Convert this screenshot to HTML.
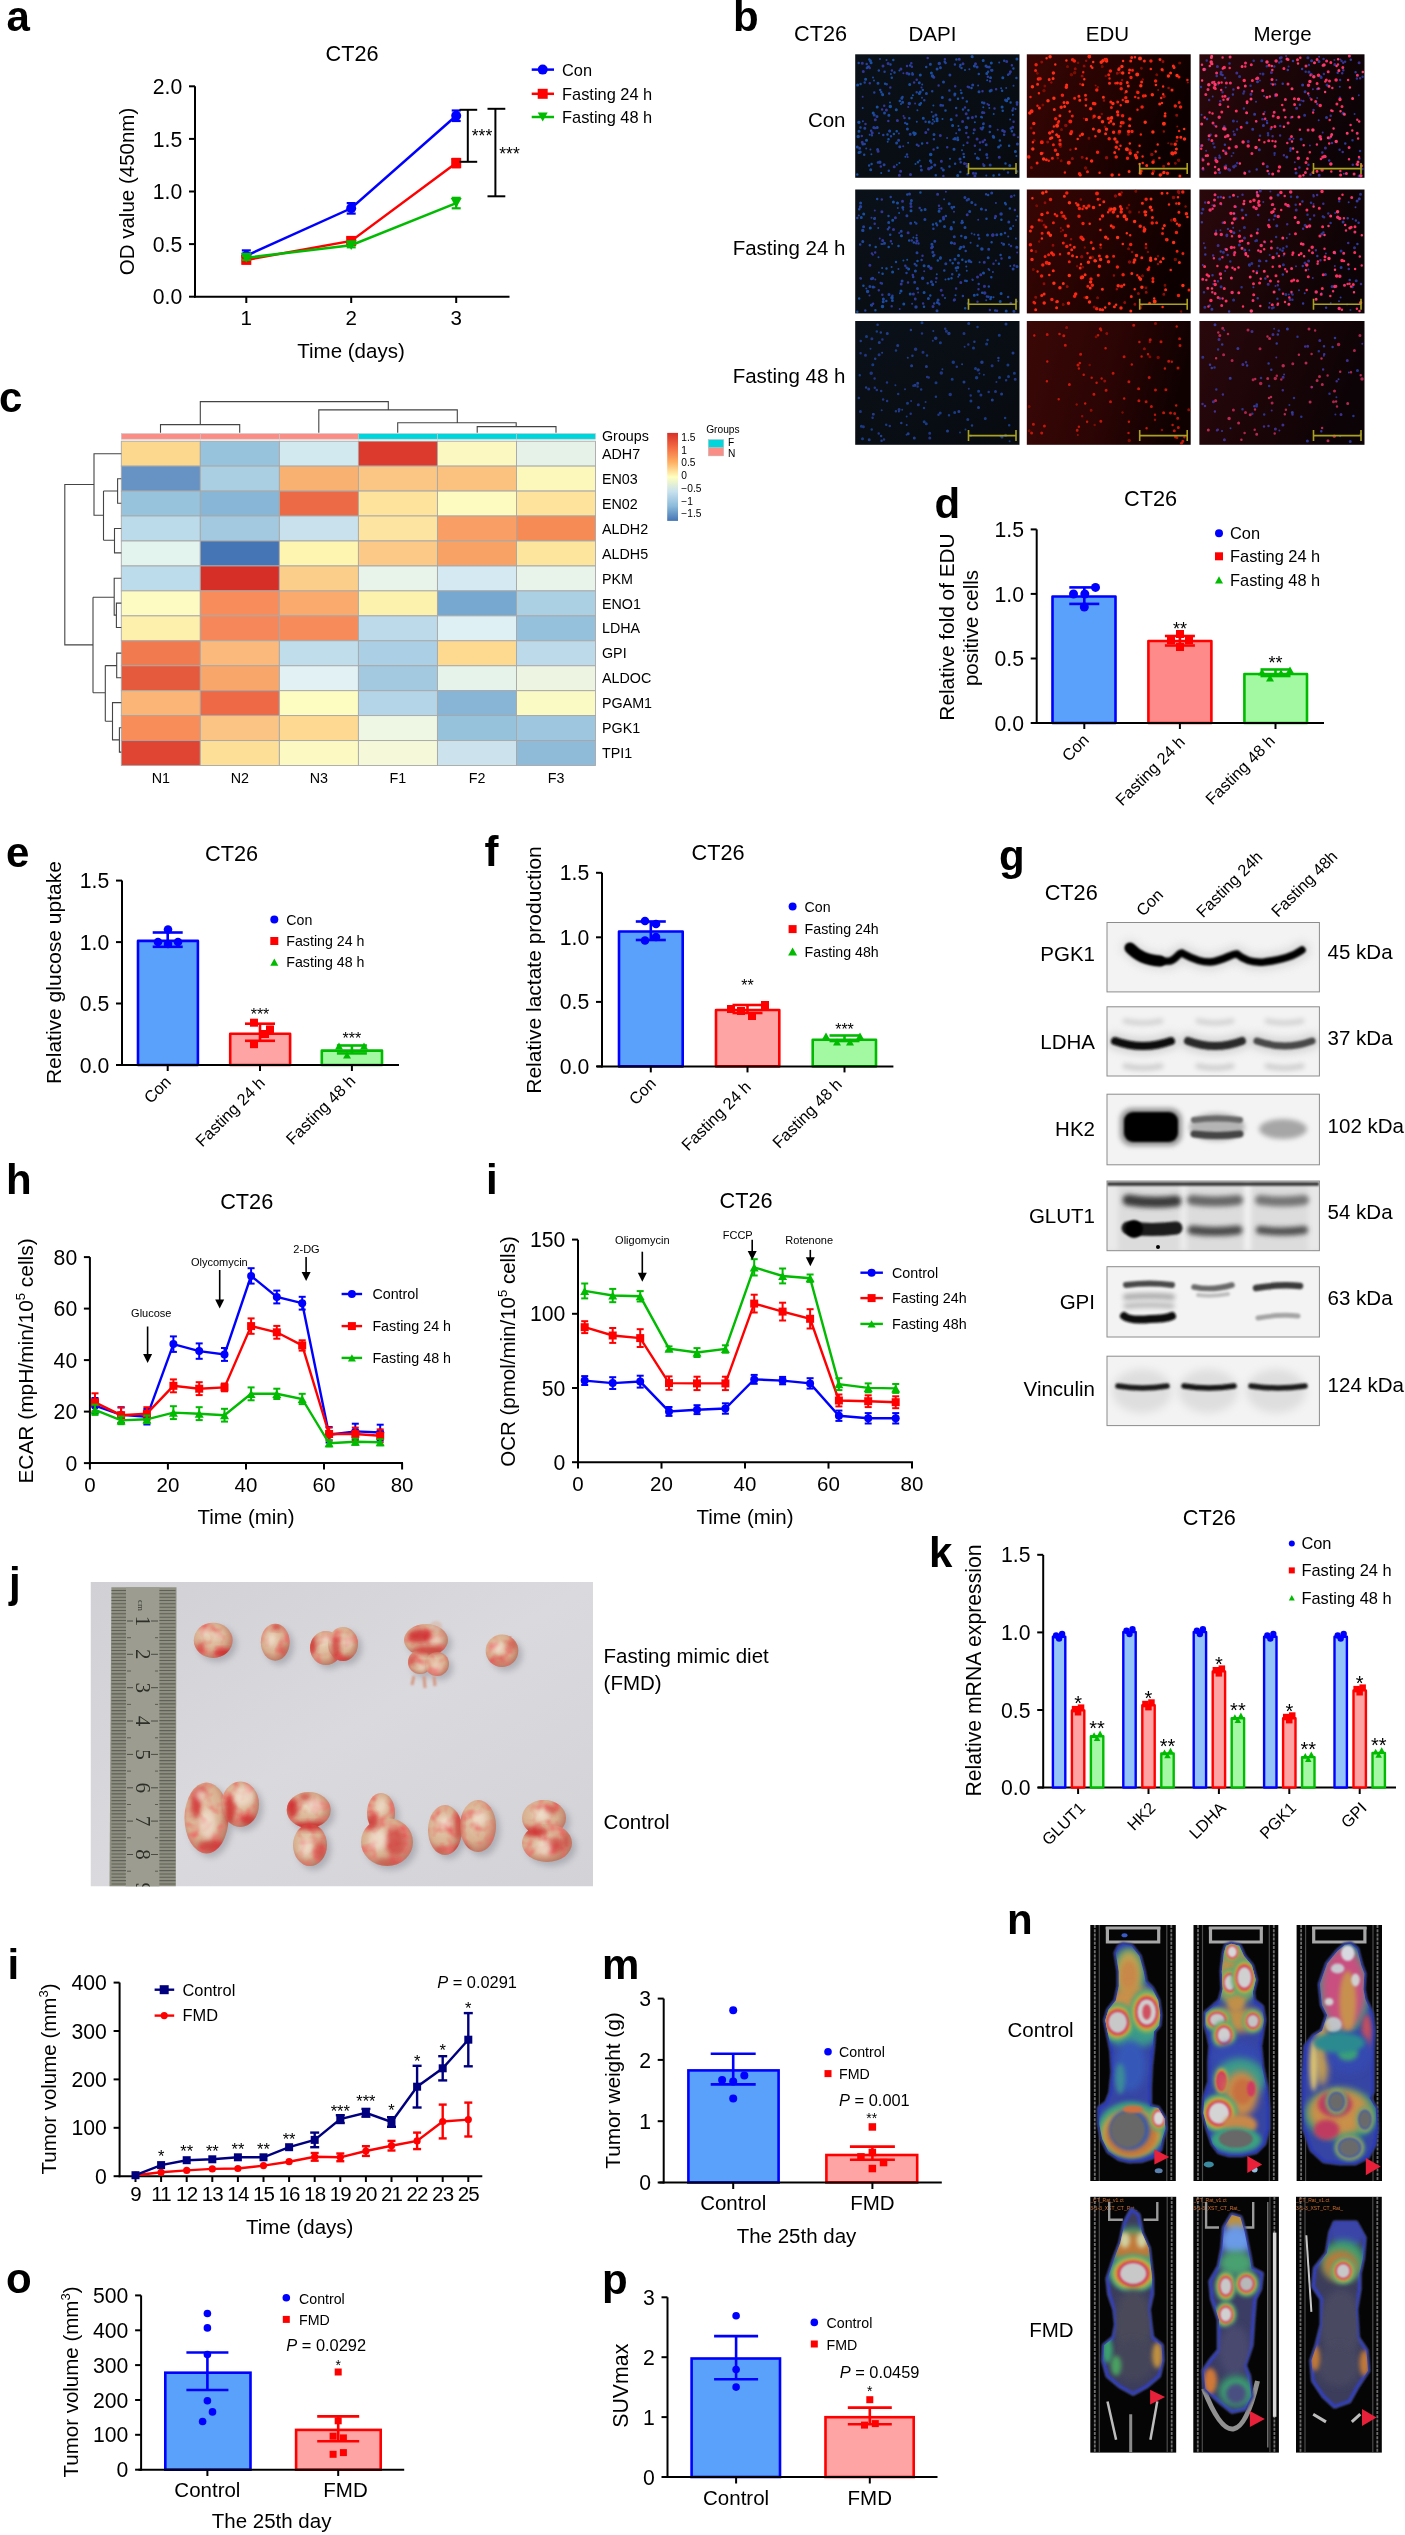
<!DOCTYPE html>
<html><head><meta charset="utf-8"><title>Figure</title>
<style>
html,body{margin:0;padding:0;background:#fff;}
svg{display:block;will-change:transform;}
text{font-family:"Liberation Sans",sans-serif;}
</style></head><body>
<svg width="1405" height="2535" viewBox="0 0 1405 2535">
<text x="6.5" y="30.8" font-size="42" font-weight="bold">a</text>
<text x="352" y="60.5" font-size="21.7" text-anchor="middle">CT26</text>
<line x1="195" y1="86.3" x2="195" y2="297.5" stroke="#000" stroke-width="2"/>
<line x1="189" y1="296.7" x2="195" y2="296.7" stroke="#000" stroke-width="2"/>
<text x="182.3" y="304.3" font-size="21.2" text-anchor="end">0.0</text>
<line x1="189" y1="244.1" x2="195" y2="244.1" stroke="#000" stroke-width="2"/>
<text x="182.3" y="251.7" font-size="21.2" text-anchor="end">0.5</text>
<line x1="189" y1="191.5" x2="195" y2="191.5" stroke="#000" stroke-width="2"/>
<text x="182.3" y="199.1" font-size="21.2" text-anchor="end">1.0</text>
<line x1="189" y1="138.9" x2="195" y2="138.9" stroke="#000" stroke-width="2"/>
<text x="182.3" y="146.5" font-size="21.2" text-anchor="end">1.5</text>
<line x1="189" y1="86.3" x2="195" y2="86.3" stroke="#000" stroke-width="2"/>
<text x="182.3" y="93.9" font-size="21.2" text-anchor="end">2.0</text>
<line x1="194" y1="296.7" x2="509.5" y2="296.7" stroke="#000" stroke-width="2"/>
<line x1="246.3" y1="296.7" x2="246.3" y2="303" stroke="#000" stroke-width="2"/>
<text x="246.3" y="325" font-size="20.5" text-anchor="middle">1</text>
<line x1="351.2" y1="296.7" x2="351.2" y2="303" stroke="#000" stroke-width="2"/>
<text x="351.2" y="325" font-size="20.5" text-anchor="middle">2</text>
<line x1="456.2" y1="296.7" x2="456.2" y2="303" stroke="#000" stroke-width="2"/>
<text x="456.2" y="325" font-size="20.5" text-anchor="middle">3</text>
<text x="351" y="358" font-size="20.5" text-anchor="middle">Time (days)</text>
<text transform="translate(134,191.5) rotate(-90)" font-size="20.5" text-anchor="middle">OD value (450nm)</text>
<path d="M246.3 255.7L351.2 208.3L456.2 115.8" stroke="#0000ff" stroke-width="2.5" fill="none"/>
<line x1="246.3" y1="250.4" x2="246.3" y2="260.9" stroke="#0000ff" stroke-width="2.2"/>
<line x1="241.8" y1="250.4" x2="250.8" y2="250.4" stroke="#0000ff" stroke-width="2.2"/>
<line x1="241.8" y1="260.9" x2="250.8" y2="260.9" stroke="#0000ff" stroke-width="2.2"/>
<circle cx="246.3" cy="255.7" r="5" fill="#0000ff"/>
<line x1="351.2" y1="203.1" x2="351.2" y2="213.6" stroke="#0000ff" stroke-width="2.2"/>
<line x1="346.7" y1="203.1" x2="355.7" y2="203.1" stroke="#0000ff" stroke-width="2.2"/>
<line x1="346.7" y1="213.6" x2="355.7" y2="213.6" stroke="#0000ff" stroke-width="2.2"/>
<circle cx="351.2" cy="208.3" r="5" fill="#0000ff"/>
<line x1="456.2" y1="110.5" x2="456.2" y2="121" stroke="#0000ff" stroke-width="2.2"/>
<line x1="451.7" y1="110.5" x2="460.7" y2="110.5" stroke="#0000ff" stroke-width="2.2"/>
<line x1="451.7" y1="121" x2="460.7" y2="121" stroke="#0000ff" stroke-width="2.2"/>
<circle cx="456.2" cy="115.8" r="5" fill="#0000ff"/>
<path d="M246.3 259.9L351.2 240.9L456.2 163.1" stroke="#ff0000" stroke-width="2.5" fill="none"/>
<line x1="246.3" y1="256.7" x2="246.3" y2="263" stroke="#ff0000" stroke-width="2.2"/>
<line x1="241.8" y1="256.7" x2="250.8" y2="256.7" stroke="#ff0000" stroke-width="2.2"/>
<line x1="241.8" y1="263" x2="250.8" y2="263" stroke="#ff0000" stroke-width="2.2"/>
<rect x="241.3" y="254.9" width="10" height="10" fill="#ff0000"/>
<line x1="351.2" y1="237.8" x2="351.2" y2="244.1" stroke="#ff0000" stroke-width="2.2"/>
<line x1="346.7" y1="237.8" x2="355.7" y2="237.8" stroke="#ff0000" stroke-width="2.2"/>
<line x1="346.7" y1="244.1" x2="355.7" y2="244.1" stroke="#ff0000" stroke-width="2.2"/>
<rect x="346.2" y="235.9" width="10" height="10" fill="#ff0000"/>
<line x1="456.2" y1="158.9" x2="456.2" y2="167.3" stroke="#ff0000" stroke-width="2.2"/>
<line x1="451.7" y1="158.9" x2="460.7" y2="158.9" stroke="#ff0000" stroke-width="2.2"/>
<line x1="451.7" y1="167.3" x2="460.7" y2="167.3" stroke="#ff0000" stroke-width="2.2"/>
<rect x="451.2" y="158.1" width="10" height="10" fill="#ff0000"/>
<path d="M246.3 257.8L351.2 245.2L456.2 203.1" stroke="#00bb00" stroke-width="2.5" fill="none"/>
<line x1="246.3" y1="255.7" x2="246.3" y2="259.9" stroke="#00bb00" stroke-width="2.2"/>
<line x1="241.8" y1="255.7" x2="250.8" y2="255.7" stroke="#00bb00" stroke-width="2.2"/>
<line x1="241.8" y1="259.9" x2="250.8" y2="259.9" stroke="#00bb00" stroke-width="2.2"/>
<path d="M240.8 252.8L251.8 252.8L246.3 262.7Z" fill="#00bb00"/>
<line x1="351.2" y1="243" x2="351.2" y2="247.3" stroke="#00bb00" stroke-width="2.2"/>
<line x1="346.7" y1="243" x2="355.7" y2="243" stroke="#00bb00" stroke-width="2.2"/>
<line x1="346.7" y1="247.3" x2="355.7" y2="247.3" stroke="#00bb00" stroke-width="2.2"/>
<path d="M345.7 240.2L356.7 240.2L351.2 250.1Z" fill="#00bb00"/>
<line x1="456.2" y1="197.8" x2="456.2" y2="208.3" stroke="#00bb00" stroke-width="2.2"/>
<line x1="451.7" y1="197.8" x2="460.7" y2="197.8" stroke="#00bb00" stroke-width="2.2"/>
<line x1="451.7" y1="208.3" x2="460.7" y2="208.3" stroke="#00bb00" stroke-width="2.2"/>
<path d="M450.7 198.1L461.7 198.1L456.2 208Z" fill="#00bb00"/>
<line x1="467.8" y1="109.8" x2="467.8" y2="161.8" stroke="#000" stroke-width="2"/>
<line x1="459.5" y1="109.8" x2="477.2" y2="109.8" stroke="#000" stroke-width="2"/>
<line x1="459.5" y1="161.8" x2="477.2" y2="161.8" stroke="#000" stroke-width="2"/>
<text x="482" y="141.7" font-size="17.5" text-anchor="middle">***</text>
<line x1="495.4" y1="108.8" x2="495.4" y2="196.3" stroke="#000" stroke-width="2"/>
<line x1="487.5" y1="108.8" x2="505.3" y2="108.8" stroke="#000" stroke-width="2"/>
<line x1="487.5" y1="196.3" x2="505.3" y2="196.3" stroke="#000" stroke-width="2"/>
<text x="509.5" y="159.7" font-size="17.5" text-anchor="middle">***</text>
<line x1="531.7" y1="69.6" x2="554" y2="69.6" stroke="#0000ff" stroke-width="2.5"/>
<circle cx="542.7" cy="69.6" r="5" fill="#0000ff"/>
<text x="562" y="75.6" font-size="16.4">Con</text>
<line x1="531.7" y1="93.8" x2="554" y2="93.8" stroke="#ff0000" stroke-width="2.5"/>
<rect x="537.7" y="88.8" width="10" height="10" fill="#ff0000"/>
<text x="562" y="99.8" font-size="16.4">Fasting 24 h</text>
<line x1="531.7" y1="117" x2="554" y2="117" stroke="#00bb00" stroke-width="2.5"/>
<path d="M537.7 112.5L547.7 112.5L542.7 121.5Z" fill="#00bb00"/>
<text x="562" y="123" font-size="16.4">Fasting 48 h</text>
<text x="733" y="30.8" font-size="42" font-weight="bold">b</text>
<text x="820.5" y="40.5" font-size="21.7" text-anchor="middle">CT26</text>
<text x="932.5" y="40.5" font-size="20.5" text-anchor="middle">DAPI</text>
<text x="1107.5" y="40.5" font-size="20.5" text-anchor="middle">EDU</text>
<text x="1282.5" y="40.5" font-size="20.5" text-anchor="middle">Merge</text>
<text x="845.5" y="126.8" font-size="20.5" text-anchor="end">Con</text>
<text x="845.5" y="254.8" font-size="20.5" text-anchor="end">Fasting 24 h</text>
<text x="845.5" y="382.8" font-size="20.5" text-anchor="end">Fasting 48 h</text>
<defs><linearGradient id="gE" x1="0" y1="0" x2="1" y2="0.3"><stop offset="0" stop-color="#380604"/><stop offset="0.5" stop-color="#260302"/><stop offset="1" stop-color="#0c0000"/></linearGradient><linearGradient id="gE3" x1="0" y1="0" x2="1" y2="0.2"><stop offset="0" stop-color="#3a0806"/><stop offset="0.6" stop-color="#2a0404"/><stop offset="1" stop-color="#100101"/></linearGradient><linearGradient id="gM" x1="0" y1="0" x2="1" y2="0.3"><stop offset="0" stop-color="#2a080c"/><stop offset="0.5" stop-color="#1c0507"/><stop offset="1" stop-color="#0c0306"/></linearGradient><linearGradient id="gD" x1="0" y1="0" x2="1" y2="1"><stop offset="0" stop-color="#0b1119"/><stop offset="1" stop-color="#070b10"/></linearGradient></defs>
<defs><filter id="bd" x="-5%" y="-5%" width="110%" height="110%"><feGaussianBlur stdDeviation="0.45"/></filter></defs>
<rect x="855.2" y="54.3" width="164.3" height="123.5" fill="url(#gD)"/>
<g filter="url(#bd)" opacity="0.85">
<path d="M908.9 74h0M902.6 102.3h0M968.1 117.9h0M943.3 170.1h0M979 91.7h0M888.9 115.2h0M889.7 131h0M934 134.5h0M860.2 152.1h0M884.5 112.9h0M986 65.9h0M920.2 91.9h0M870.4 60.8h0M930.4 64.2h0M992 70.3h0M926.4 93.4h0M919.3 82.7h0M901.8 98.2h0M857.3 146.9h0M977.3 157.9h0M954 149.2h0M862.9 144h0M907.4 129h0M896.6 143.1h0M878 83.2h0M1009.8 165.6h0M943.5 81.9h0M937.1 69h0M877.2 127.4h0M942.3 97.4h0M937.1 120.8h0M957.8 139.7h0" stroke="#2352b4" stroke-width="3" stroke-linecap="round"/>
<path d="M989.2 67.1h0M959.4 129.7h0M986.7 154.4h0M921.4 169.9h0M982 129.1h0M977.1 67.1h0M990 126.2h0M910.2 134.3h0M1017 102.4h0M991.3 90.2h0M877 116.5h0M986.2 144.8h0M864.8 128.2h0M873.8 127.6h0M859.6 148.2h0M949.9 99.7h0M874.2 114.9h0M1002.6 130.6h0M960 159h0M1017.4 144h0M858.7 122.2h0M884.1 164.8h0M984 103h0M935.9 115h0M949.9 74.9h0M899.8 146.7h0M993.2 136.3h0M898.6 140.2h0M940.8 105.2h0M877.6 149.4h0M982.5 112.4h0M990.2 164.9h0M912.6 74.2h0M934.8 164.9h0M984 165.4h0M972.7 85h0M1005.5 99.9h0" stroke="#2a48b0" stroke-width="3" stroke-linecap="round"/>
<path d="M862.7 108.1h0M916.8 121.8h0M1010.1 119.5h0M999.2 62.6h0M1001.1 88.2h0M986.3 175.6h0M871.4 154.3h0M975.1 153.7h0M917.4 110.2h0M1015.6 109.1h0M978.1 85.6h0M962 150.3h0M896.8 164.7h0M922.2 84.4h0M869.7 134.8h0M932.9 119.7h0M912.3 72.9h0M879 133.3h0M874 80.6h0M882.7 95.3h0M887.7 141.7h0M873 77.6h0M886.5 59.9h0M890.9 74.1h0M972.4 57.2h0" stroke="#2352b4" stroke-width="2" stroke-linecap="round"/>
<path d="M945.6 62.9h0M864.7 82.4h0M931.8 167.1h0M954.9 64.6h0M920.9 166.3h0M990.8 77.8h0M924.3 100.3h0M866.7 63.9h0M933.9 139.2h0M969 87.3h0M991.3 70.2h0M962.7 98h0M941.6 168.3h0M963.6 154h0M928.2 129.6h0M1008 172.6h0M889.2 93.4h0M967.6 174.2h0M987.2 157.8h0M864.7 144h0M975.9 173.4h0M905.2 123h0M925.6 121.8h0M960.7 162.3h0M975.9 116.6h0M907 154.6h0M1009.7 73.4h0M884.6 71.8h0M916.9 144.7h0M886.7 84.2h0M866.9 68h0M871.1 130.8h0M1008.1 74.7h0M979.9 149.8h0M877.9 162.5h0M942.9 105.6h0M889.6 131h0M949.4 90.4h0M916.7 92.3h0M931.2 162.5h0M883.3 135.1h0M940.5 68h0M874.3 92.4h0M1017.1 171.6h0M932.4 123.5h0M932.2 91.3h0M987.1 67.1h0M871.9 135.2h0M891 136.2h0M1004.1 134.8h0" stroke="#2a48b0" stroke-width="2.5" stroke-linecap="round"/>
<path d="M958.4 126.1h0M942.5 118.9h0M1016.4 156.1h0M908.1 142.8h0M899.4 70.5h0M974.9 122.2h0M973.5 133.3h0M919.6 160.6h0M983.3 107.3h0M987.2 80.2h0M1012.9 114.8h0M881.2 172.9h0M899.4 163h0M989.3 107.9h0M915.5 163.9h0M934.4 121.4h0M905.4 156.7h0M982.1 117.4h0M912.9 95.2h0M963.5 145.2h0M890 102.6h0M993.7 114h0M901 104h0M950 158.7h0M965 69.9h0M933.4 105.5h0" stroke="#1e5ab8" stroke-width="2" stroke-linecap="round"/>
<path d="M903.4 73.2h0M997.7 129.8h0M983.1 163.9h0M903.5 116.1h0M907.7 157h0M915.1 103.6h0M862.7 96.8h0M959.8 66.8h0M987.4 104h0M966.3 163.7h0M921.5 87.6h0M898.9 133.4h0M908.2 106.9h0M903.2 146.2h0M1018 137.3h0" stroke="#3a3cae" stroke-width="2" stroke-linecap="round"/>
<path d="M947.1 138h0M866.2 148.4h0M874.4 128.2h0M1006.2 88.1h0M922 97.7h0M953.3 139.3h0M956.2 133.3h0M931.7 112h0M960.7 90.3h0M1013.5 85.7h0M870.4 149.4h0M969.4 69.3h0M880 59h0M862.9 121.3h0" stroke="#2a48b0" stroke-width="2" stroke-linecap="round"/>
<path d="M956.5 115.6h0M984.8 140h0M1011.9 65.2h0M996.1 89.3h0M914.1 82.6h0M984.1 112.7h0M869.7 68.1h0M990 81.2h0M938.6 85.6h0M965 107.4h0M1017 104.5h0M927.7 58h0M880.8 166.6h0M882.1 109.5h0M1013.6 121.7h0M980 142.6h0M968.3 137.2h0M907 66.1h0M1013.3 108.4h0M884.2 105.8h0M911.9 66.8h0M918.5 145.7h0M911.3 63.3h0M943.4 175.9h0M944.9 59.3h0M869.8 83.3h0M861.8 135.9h0M947.2 147.2h0M888.3 121.1h0M954.7 95.3h0M982.5 91.2h0M988.8 105.1h0M875.7 128h0M967.4 142.7h0M955.2 86.2h0M890.3 87.5h0M916.7 79.8h0M904.5 118h0M974.9 145.8h0M865.5 124.1h0M987.9 76.8h0M927.2 143.1h0M980.8 128.3h0M967.8 86.8h0M994.5 108.4h0M966.3 133.1h0M983.6 123.5h0M891.9 70.4h0M933.6 149.6h0" stroke="#3a3cae" stroke-width="2.5" stroke-linecap="round"/>
<path d="M941.4 161.3h0M907 73.2h0M933.8 77.3h0M962.6 121.6h0M883 66h0M963 63.8h0M868.7 66.7h0M1010.4 71.8h0M894.2 166.7h0M886.4 110h0M974.9 176h0M862.3 63.3h0M888.1 63.4h0M900.6 171.2h0M977.1 138.9h0M999.3 157.3h0M863.3 71.5h0M875.3 119.8h0M897.4 120.4h0M899.4 175.2h0M872.2 132.7h0M975.5 63.7h0M878.1 151.2h0M1006.7 61.6h0M1012.7 127.2h0M973.4 173.3h0M900.9 69h0M982.9 141.7h0M940.3 135.5h0M972.4 117.5h0M974.3 129.8h0M1004.4 131.5h0M966.2 113.8h0M925.8 132.6h0M964.5 163.5h0M959.3 59.2h0M862.2 142.3h0M910.5 174.4h0M1014 134.7h0" stroke="#3a3cae" stroke-width="3" stroke-linecap="round"/>
<path d="M978.8 74.1h0M867.8 67.1h0M966.8 101.6h0M1010.8 128.4h0M909.3 118.3h0M981.3 117h0M878.8 70.5h0M1013.4 68.4h0M891.8 77.8h0M933.3 116.4h0M957.7 137.8h0M869.1 165.5h0M858.7 63.1h0M978.6 158.7h0M1004 169.2h0M955.1 163.8h0M860.5 127.6h0M988.1 71.8h0M999.2 174.8h0M961.5 67.9h0M1004.2 60.7h0M922.8 89.9h0M880.2 89.9h0M963 109.6h0M926.2 66.9h0M1012.5 110.4h0M910.1 65.6h0M956.1 107.9h0M960.3 172.1h0M888.8 170.8h0M989.8 131.9h0M940.4 67.6h0M935.8 175.2h0M1000.6 145.6h0M982.2 102.6h0M1016.4 77.9h0M881.3 92.3h0M890.5 64.5h0M894.5 72.6h0M902.5 97h0M944.7 61.8h0M864.2 154.8h0M949.5 166.5h0M931 168.1h0M983.3 124.1h0" stroke="#2352b4" stroke-width="2.5" stroke-linecap="round"/>
<path d="M911.6 98h0M885.1 83.8h0M920.9 103.3h0M993.6 175.5h0M937.5 147.8h0M968.4 110.3h0M1005.5 163.4h0M893.9 134.1h0M999.8 140.6h0M922.1 143.4h0M1002.1 90.7h0M960.4 64.9h0M945.5 110.4h0M871.6 163.9h0M1011.9 131.3h0M893.3 59.9h0M887.5 134.4h0M896.7 131.2h0M860.6 84h0M1010.6 102.4h0M983.1 127.6h0M869.3 59.6h0M907.1 124.1h0M990.4 77.8h0M961.4 92.9h0M857.3 174.6h0M1002.7 110.8h0M971.5 87.9h0M1009.1 145.7h0M956.4 59.5h0M958 98.7h0M917.9 162.3h0M899.8 101.1h0M914.4 134.7h0M888.5 139.3h0M964 157.1h0" stroke="#1e5ab8" stroke-width="2.5" stroke-linecap="round"/>
<path d="M866.5 140.3h0M1008.4 98.6h0M929.2 122h0M930.4 160.8h0M870.7 169.8h0M1016.9 59.1h0M986.8 73.4h0M991.3 63.1h0M1002.8 77.7h0M993.7 137.3h0M871.1 62.7h0M896.3 109.7h0M859 131.2h0M951.2 119.6h0M920.3 75h0M877.2 107h0M865.6 79.2h0M873.2 113h0M1006.7 100.7h0M919.7 104.6h0M1002.1 106.9h0M859.1 122.3h0M859 152.4h0M952.6 125.5h0M923.3 118.3h0M957.7 175.6h0M972.1 56.6h0M909.7 84.6h0M998.6 146.9h0M1015.4 151.6h0M931.4 72.9h0M857.6 85h0M913.7 132.8h0M882.6 94.4h0M990.1 91.1h0M983.2 60.6h0M937 118.7h0M974.4 66h0M919.4 93.5h0M954.9 93.9h0M915.3 133.5h0" stroke="#1e5ab8" stroke-width="3" stroke-linecap="round"/>
<path d="M928.8 168.7h0M967.3 166.3h0" stroke="#3a3cae" stroke-width="3.5" stroke-linecap="round"/>
<path d="M879.8 162.2h0M939.3 63.5h0M909.3 103.5h0M966.4 127.4h0" stroke="#2a48b0" stroke-width="3.5" stroke-linecap="round"/>
<path d="M930.7 154.6h0M890.3 106.5h0" stroke="#1e5ab8" stroke-width="3.5" stroke-linecap="round"/>
<path d="M955 138.7h0M858.2 136.5h0M932.5 75.9h0" stroke="#2352b4" stroke-width="3.5" stroke-linecap="round"/>
</g>
<rect x="1026.8" y="54.3" width="163.9" height="123.5" fill="url(#gE)"/>
<g filter="url(#bd)" opacity="1.0">
<path d="M1128.4 134.2h0M1072.4 158.4h0M1084.1 66.1h0M1176.7 115.2h0M1041.8 61.9h0M1163 61.5h0M1117.3 73.2h0M1082.1 76h0M1162.7 70.2h0M1099.4 117h0M1163.6 166.2h0M1082.2 157.2h0M1047.7 141.9h0M1075.2 68.8h0M1031.4 167.4h0" stroke="#901008" stroke-width="3" stroke-linecap="round"/>
<path d="M1168.2 143.2h0M1083.8 118.4h0" stroke="#7a0c06" stroke-width="2" stroke-linecap="round"/>
<path d="M1125 93h0M1078.1 62.7h0M1105 126.8h0M1093.1 118.1h0M1130.1 150.7h0M1057.7 158.2h0M1105.7 76.1h0M1101.7 113.9h0M1097.8 87.3h0M1162.2 173.7h0M1120.2 72.4h0M1142.8 79.5h0" stroke="#7a0c06" stroke-width="2.5" stroke-linecap="round"/>
<path d="M1088.9 138.3h0M1102.3 66.4h0M1061.2 160.7h0M1179.7 62.9h0M1037.3 73.2h0M1137.2 91.8h0M1175.4 163.3h0M1156.8 74.7h0M1028.6 156.1h0M1171.4 143.9h0M1061.5 129.6h0M1042.8 105.1h0M1034.2 140.4h0M1153.7 160.4h0M1110.9 119.7h0M1067.5 66.5h0M1044.8 86h0M1031.1 128h0M1141.4 68.2h0" stroke="#7a0c06" stroke-width="3" stroke-linecap="round"/>
<path d="M1158.2 89.9h0M1177.3 126.5h0M1187.9 82.5h0M1095.6 85.5h0" stroke="#901008" stroke-width="2" stroke-linecap="round"/>
<path d="M1071.4 74.8h0M1074.7 72.8h0M1060.5 146.2h0M1178.6 160.2h0M1044 90.7h0M1085.6 168.1h0" stroke="#7a0c06" stroke-width="3.5" stroke-linecap="round"/>
<path d="M1065.8 125.6h0M1151.8 154.5h0M1164.1 96.6h0M1106.6 157.7h0M1119.1 133h0M1153.5 171.2h0M1129.8 150.7h0" stroke="#901008" stroke-width="3.5" stroke-linecap="round"/>
<path d="M1043.1 152.9h0M1070.4 149.7h0M1176.7 140.9h0M1104 100.6h0M1163.8 131.5h0M1080.2 84h0M1051.3 82.5h0M1086.2 60.7h0M1122.1 80.2h0M1168.6 87.9h0" stroke="#901008" stroke-width="2.5" stroke-linecap="round"/>
</g>
<g filter="url(#bd)" opacity="1">
<path d="M1035.6 70.6h0M1179.2 102.6h0M1033.8 133.1h0M1132.5 70.3h0M1052.4 158.2h0M1074.6 98.3h0M1117.7 102.1h0M1119.2 68.6h0M1172.9 154.1h0M1179 77.1h0M1053.4 144.8h0M1087.5 171.7h0M1108.7 74.8h0M1111.4 107.4h0M1058.1 122.6h0M1072.3 116.1h0M1085.9 99.4h0" stroke="#f02010" stroke-width="3" stroke-linecap="round"/>
<path d="M1150.8 69.1h0M1120.5 145.8h0M1135 57.2h0M1075.8 148.8h0M1095.4 136.3h0M1092.3 67.7h0M1120.7 105.3h0M1111.7 117.2h0M1099 130.5h0M1053.9 126.5h0M1161.2 98.1h0M1032.9 142.3h0M1091 66.2h0M1038.9 93.3h0M1058.8 121.2h0M1163.1 86.4h0M1129.1 72.9h0M1099.6 172.7h0M1142.7 163.1h0M1161.9 103h0M1155.7 151.4h0M1142.6 156.4h0" stroke="#ff2a14" stroke-width="2.5" stroke-linecap="round"/>
<path d="M1115.4 83.2h0M1159.4 157.9h0M1048.8 160.7h0M1109.5 78.5h0M1135.2 96.9h0M1122.8 100.1h0M1080 135.7h0M1139.5 163.9h0M1138.4 97.9h0M1140.8 134.5h0M1137.5 109.7h0M1064.9 172.5h0M1137.6 152.2h0M1118.9 149.2h0M1187.4 80.1h0M1030.5 97.1h0M1120.6 126.2h0M1086.7 158.6h0M1083.2 72.3h0M1037.5 105.7h0M1119.1 174.8h0M1179.1 131.1h0M1109 122.7h0" stroke="#f02010" stroke-width="2.5" stroke-linecap="round"/>
<path d="M1112.9 103.5h0M1099.1 117.5h0M1102.5 121.8h0M1177 75.4h0M1043.6 159h0M1121.9 66.4h0M1032.4 86.7h0M1111.6 118.1h0M1103 60.7h0M1160.3 175.1h0M1152.3 94.7h0M1089.3 56.7h0M1082.3 134.3h0M1053.9 98.3h0M1140.8 85.7h0M1101.2 62.3h0M1136.6 157.8h0M1106.6 61h0M1070.8 133.5h0M1032.8 149.1h0M1127.5 101.5h0M1041.4 153.4h0M1121.5 122.7h0M1168.4 76h0M1048 100.7h0M1114.9 138.9h0M1057.6 154.4h0M1163.9 172.4h0M1152.9 132.1h0M1050.1 56.7h0M1122.7 73.1h0M1145.2 122.2h0M1029.8 113.1h0" stroke="#ff3018" stroke-width="3.5" stroke-linecap="round"/>
<path d="M1082.8 84.8h0M1051.9 137.8h0M1064.6 106.5h0M1128.3 86h0M1064 102.4h0M1126 101.5h0M1114.7 152.6h0M1176.4 149h0M1053.1 78.5h0M1056.6 134.8h0M1059.9 115.8h0M1118.7 69.6h0M1103.4 97.3h0M1129.6 125.8h0M1179.9 176h0M1110.8 121.2h0M1159.7 103.9h0M1174.1 67.6h0M1093.4 129.1h0M1127.3 82.4h0M1050.4 138.5h0M1066.6 84.9h0M1170.6 72.9h0M1162 69.6h0M1054.3 109.4h0M1079.8 100.2h0M1126.3 91.6h0M1105.6 133.8h0M1146.7 165.4h0M1129.1 171.5h0M1136 156.6h0M1145.3 95.7h0M1080.3 174.9h0M1152.6 173.6h0M1086.4 119.6h0" stroke="#ff3018" stroke-width="3" stroke-linecap="round"/>
<path d="M1163.9 123.8h0M1099.1 131.1h0M1137.2 74.5h0M1140 58.4h0M1057.1 125.7h0M1126.9 149.3h0" stroke="#ff3018" stroke-width="4" stroke-linecap="round"/>
<path d="M1039.4 108h0M1173.3 66h0M1160 59.5h0M1110.8 102h0M1117.9 115h0M1165 116h0M1180.8 137.3h0M1130.7 60.9h0M1168.5 163.7h0M1037.1 163.1h0M1049.2 79.5h0M1109.5 83.2h0M1129.6 70h0M1060 140.3h0M1113.6 123.9h0M1046.4 159.7h0M1117.4 83.1h0M1037.6 84.3h0M1141.2 171h0M1144.4 61h0M1085.5 95.2h0M1177.2 137.2h0M1086.4 119.5h0M1078.9 96.2h0M1141.6 82.1h0M1172 89.9h0M1131.7 57.6h0M1052.5 131.6h0" stroke="#ff2a14" stroke-width="3" stroke-linecap="round"/>
<path d="M1130.2 153.3h0M1128.6 131.5h0M1090.7 108.8h0M1112.1 175h0M1061.2 107.2h0M1129.8 118.9h0M1038.4 78.9h0M1067.4 102.8h0M1094.8 103.8h0M1117.6 112.1h0M1175.3 152.8h0M1153 162.2h0M1175.2 144.3h0M1140.3 173.2h0M1066.3 87.2h0M1049.7 133h0M1135.5 155.3h0M1113.6 132.2h0M1058.5 136.6h0M1116.9 141.9h0M1106.2 59.6h0M1091.6 161h0M1033.8 123.4h0M1093.5 103.5h0M1184.5 139h0M1116.2 147.2h0M1106.5 129.3h0M1053.4 73h0" stroke="#ff2a14" stroke-width="3.5" stroke-linecap="round"/>
<path d="M1066.4 60.5h0M1184.2 129.1h0M1139.6 145.7h0M1077.7 139h0M1155.9 85.1h0M1085.9 105.4h0M1055.3 64.5h0M1093.2 61.9h0M1165.2 113.6h0M1084.3 79.3h0M1157.7 144.5h0M1046.6 58.3h0M1123.1 61.1h0M1129.8 143.4h0M1163.2 94.3h0M1069.7 111.6h0" stroke="#ff3018" stroke-width="2.5" stroke-linecap="round"/>
<path d="M1121.2 88.8h0M1116.2 157h0M1125.8 97.7h0M1127.5 158.2h0M1071.5 131.8h0M1122.6 115.8h0M1094.2 116.2h0M1079.5 173.7h0M1055.7 118.8h0M1097.6 152.2h0M1072.6 59.8h0M1110.4 70.9h0M1131 77.5h0M1108.4 118.6h0M1074.4 61h0M1155.6 81.1h0M1175.3 106.1h0M1180.6 106.9h0M1109.2 138.8h0M1150.9 61.1h0M1132 131.4h0M1055.4 150.3h0M1119.5 131.5h0M1028.8 157.1h0M1096.8 89.9h0M1089.3 56.3h0M1167.5 173.2h0M1142.1 107.1h0M1137.9 92.4h0M1143.5 96.1h0M1040.1 78.7h0M1060 144.2h0M1036.1 64.7h0M1062.4 95.2h0M1123 122.7h0M1120.8 83.5h0M1105.1 59.6h0" stroke="#f02010" stroke-width="3.5" stroke-linecap="round"/>
<path d="M1068.8 162.7h0M1031.6 111.2h0M1172.2 153.3h0" stroke="#ff2a14" stroke-width="4" stroke-linecap="round"/>
<path d="M1070.3 121.6h0M1041.8 142.2h0" stroke="#f02010" stroke-width="4" stroke-linecap="round"/>
</g>
<rect x="1199.4" y="54.3" width="165.1" height="123.5" fill="url(#gM)"/>
<g filter="url(#bd)" opacity="0.8">
<path d="M1260.2 73.8h0M1340.4 59.5h0M1294.8 162.2h0M1286.1 56.1h0M1319.1 56.8h0M1312.1 74.5h0M1214.6 125.5h0M1206.1 150.8h0M1322.7 132.5h0M1309.9 145.6h0M1322.6 157.9h0M1231.6 155.9h0M1312.9 89.2h0" stroke="#4a3ab0" stroke-width="2" stroke-linecap="round"/>
<path d="M1339.6 149.7h0M1360 151.1h0M1222.5 92.3h0M1268 133.2h0M1253.7 60.8h0M1317.2 103.9h0M1237.1 129.6h0M1341.6 61h0M1260 135.7h0M1274.3 66.4h0M1323.9 73.9h0M1201 87.1h0M1243.9 108.6h0M1340.1 80.1h0M1323.6 58.9h0M1352.5 140.3h0M1279.2 62.4h0M1243.4 93.5h0M1250.6 85.7h0M1280.2 126.1h0M1268.1 135.2h0M1225 78h0M1362.4 169h0M1228.8 98h0M1290.3 150.8h0M1206.7 60.6h0M1305.7 71.7h0M1213.3 143.5h0M1202.6 169.1h0M1345.1 61.8h0M1266.8 66.3h0M1308.4 164.7h0M1343.3 113.1h0M1215.2 88.5h0M1237.2 163h0M1274.6 153.3h0M1308.9 64.9h0M1362.6 76.7h0M1356.9 78.4h0" stroke="#3040b0" stroke-width="2.5" stroke-linecap="round"/>
<path d="M1327 85h0M1235.4 165.7h0M1307.9 57.7h0M1263 74h0M1239.6 76.6h0M1261.8 60.8h0M1233.4 121.1h0M1225.5 152.1h0M1321.2 77.4h0M1301.1 139.2h0M1359.1 176h0M1219.7 172.5h0M1329.6 138.1h0M1308.9 72.1h0M1304.6 115.2h0M1296.1 172.9h0" stroke="#3040b0" stroke-width="3" stroke-linecap="round"/>
<path d="M1275.5 94.8h0M1305.1 91.8h0M1254.6 114.3h0M1252.7 129.3h0M1259.3 149.8h0M1204.9 69.2h0M1319 61.6h0M1286.8 157h0M1257.5 81.7h0M1263.4 125.5h0M1290.7 148.5h0M1280.3 57.9h0M1246.9 122.7h0M1326.5 117.6h0M1311.6 60.8h0M1302.6 84.9h0" stroke="#3a48c0" stroke-width="3" stroke-linecap="round"/>
<path d="M1310.2 98.1h0M1271.2 83.7h0M1319.5 88.7h0M1259.9 80.5h0M1301.1 100.6h0M1308.8 95.5h0M1274.5 155.1h0M1334.4 60.1h0M1358.8 95.3h0M1237.1 121.6h0M1288.6 66.5h0M1218.2 84.6h0M1225.8 87.6h0M1317.2 97.9h0M1275.1 96.2h0M1264.7 111.9h0M1354.6 113.9h0M1233.4 153.1h0" stroke="#3040b0" stroke-width="2" stroke-linecap="round"/>
<path d="M1267.3 166.6h0M1271.4 72.6h0M1289.9 139h0M1319.2 175.2h0M1219.7 157.4h0M1201.1 145.7h0M1334.8 64.5h0M1236.8 72.9h0M1229.7 170h0M1217.4 66.4h0M1234.5 134.4h0M1248.2 141.4h0M1221.1 72.3h0M1325.4 148h0M1296.6 108.3h0M1250.9 94.2h0M1359.1 62.7h0" stroke="#4a3ab0" stroke-width="3" stroke-linecap="round"/>
<path d="M1355.6 72.3h0M1216.7 76.1h0M1282.7 83.7h0M1343.3 70.3h0M1224.9 144.8h0M1267.1 122.9h0M1331.2 164h0M1329.2 160.6h0M1220.8 74.3h0M1313.6 109.9h0M1317.3 88.9h0M1270.8 129h0M1359.4 158.4h0M1229.5 63.6h0M1215.5 158h0M1337.7 72.7h0M1291 117.4h0M1233.4 166.6h0M1299.9 104.7h0M1322.3 152.4h0M1222.5 75.1h0M1225.9 165.7h0M1350.8 59.7h0M1256.7 169.6h0M1287.8 70h0M1293 60.9h0M1302.1 69h0M1214.5 147.3h0M1310.9 74h0M1207 119.1h0M1345.3 143.6h0M1224.3 126.6h0M1281.3 61.6h0M1320.6 76.4h0M1232.9 94.5h0" stroke="#3a48c0" stroke-width="2.5" stroke-linecap="round"/>
<path d="M1343.9 173.8h0M1233.5 131.4h0M1244.5 172.2h0M1256 101.7h0M1339.8 86.8h0M1224.5 166.4h0M1276.4 80.1h0M1219.4 155.6h0M1342.5 113.7h0M1318.7 120.2h0M1293.4 138.8h0M1212.7 96.4h0M1201.6 114.7h0M1266.9 120.7h0M1264.1 95.9h0M1202.4 158.6h0" stroke="#3a48c0" stroke-width="2" stroke-linecap="round"/>
<path d="M1299.4 167.4h0M1208.9 139.4h0M1272.6 136.3h0M1256.4 121.6h0M1264.7 119.2h0M1339.9 97.7h0M1280.1 135.4h0M1262.4 119.2h0M1283.9 155.2h0M1342.2 73.3h0M1360.1 78.2h0M1343.2 62.8h0M1281.5 57.5h0M1330.7 115.8h0M1342.7 151.9h0M1233.4 89.5h0M1332 143h0M1228.4 169.3h0M1203.3 169.5h0M1233.9 167.3h0M1209.1 99.9h0M1352.8 164.8h0M1249.4 171.6h0M1275.1 84.3h0M1310.5 174.4h0M1244.1 91.4h0M1303.3 101.1h0M1210.6 134.7h0M1220.2 101.2h0M1269.1 173.7h0" stroke="#4a3ab0" stroke-width="2.5" stroke-linecap="round"/>
</g>
<g filter="url(#bd)" opacity="1">
<path d="M1311.4 99.4h0M1282.2 105h0M1264.4 142.2h0M1222.6 96.6h0M1259.2 140.1h0M1245.3 66.6h0M1331.3 171.6h0M1212.5 113.4h0M1256.3 78.7h0M1300.3 57.7h0M1292.2 117h0M1307.3 168.8h0M1313.1 112.6h0M1348.1 79.9h0M1215.5 88.8h0M1325.3 81.6h0M1272.5 140.9h0M1256.1 121.3h0M1201.2 148.7h0M1329.7 119.9h0M1211.3 63.9h0M1358.1 138.6h0M1229.7 67.9h0M1223.3 150.8h0M1272.3 70.1h0M1223.5 99.7h0M1214.2 81.9h0M1359 156.9h0M1228.1 106.8h0M1271.6 127.2h0M1309.8 152.2h0M1221.6 82.6h0M1329.2 143.6h0M1352.3 130.4h0" stroke="#ff2e5e" stroke-width="2.5" stroke-linecap="round"/>
<path d="M1244.2 80.4h0M1320.2 105.6h0M1340 99.6h0M1318.5 75.2h0M1216.8 161.6h0M1324.5 156.6h0M1224.2 67.5h0M1279.5 167h0M1300 176.3h0M1214.4 87.8h0M1278.2 117.5h0M1336.1 80.1h0M1276.4 94.9h0M1248.2 145.9h0M1225.4 168.1h0" stroke="#ff2e5e" stroke-width="3.5" stroke-linecap="round"/>
<path d="M1208 89.4h0M1305.4 172.4h0M1220 104.5h0M1225.4 136.7h0M1262.7 90.4h0M1263.2 163.8h0M1245.5 62.9h0M1329.5 81h0M1203 159.9h0M1288.1 123h0M1346.4 173.4h0M1354.1 174h0M1274.9 126.4h0M1349.1 147.6h0M1326.6 61.1h0M1278.5 171.1h0M1216.6 73.1h0M1349.4 56.1h0M1306 66.1h0M1308.1 129.9h0M1357.4 75.2h0M1215.8 160.2h0M1357.2 133.3h0M1213 123h0M1212.5 82.6h0M1328.2 71.7h0M1230.1 57.1h0M1288 84h0M1230.4 83.1h0M1273.2 116h0M1251.9 153.6h0M1325.2 156.5h0M1274.2 112.2h0M1275 146.3h0M1226.4 83.1h0M1205.8 94.4h0M1285.4 99.5h0M1251.3 64.8h0M1284.1 110h0M1268.7 140.8h0" stroke="#f0306a" stroke-width="3" stroke-linecap="round"/>
<path d="M1291.5 136.6h0M1207.6 155.4h0M1342.8 67.4h0M1336.9 104h0M1294.6 104.4h0M1236.3 111h0M1297.5 59.7h0M1218.8 82.8h0M1326.3 80h0M1361.5 165.7h0M1340.6 175.1h0M1283.9 68.5h0M1317.1 59.5h0M1330.8 62.4h0M1272.7 174h0M1306 162.6h0M1252.4 80.5h0M1211.9 140.6h0M1226 153.6h0M1342 106.4h0M1215.3 172.8h0M1315.7 101.6h0M1269.1 65.2h0M1294.4 98.7h0M1241.2 127.2h0M1208.3 163.9h0M1225 96.2h0M1322.7 156.9h0M1317.1 83.4h0M1317 171.3h0M1221.8 111.9h0M1307.5 158.5h0M1229.1 148h0" stroke="#ff2e5e" stroke-width="3" stroke-linecap="round"/>
<path d="M1338.9 70.4h0M1211.7 56.2h0M1328.2 137.7h0M1298.9 117.1h0M1251 99.1h0M1288 59.5h0M1358 161.9h0M1272 79.6h0M1320.8 139.1h0M1287 59.1h0M1344.4 114.2h0M1201.7 124h0M1245.3 85.9h0M1242.1 66.5h0M1211.4 57.6h0M1352.6 98.6h0M1247.1 101.7h0M1209.1 135.8h0M1246.6 112.7h0M1218.7 169.5h0M1347.2 133.3h0M1227.7 99.2h0M1244.8 173.3h0M1266.9 97.2h0M1292 88.8h0M1329 86.3h0M1331.7 134.5h0M1314.5 62.7h0M1238.2 87.7h0M1216 135.7h0" stroke="#ff3a6e" stroke-width="3" stroke-linecap="round"/>
<path d="M1298.5 99.2h0M1336.2 141.6h0M1324 65h0M1208.8 84.8h0M1215.1 84.6h0M1224.9 128.9h0M1243.1 142.1h0M1313.8 76.7h0M1227.8 135.7h0M1309.9 81.4h0M1267 62h0M1330.8 164.1h0M1256 147.5h0M1204 69.6h0M1211.2 62.1h0M1223.8 128.7h0M1312.9 129.9h0M1360.8 175.7h0" stroke="#ff3a6e" stroke-width="3.5" stroke-linecap="round"/>
<path d="M1257.6 78.2h0M1322.1 170.1h0M1276.1 61h0M1320.1 136.7h0M1308.5 85.3h0M1236.2 146.8h0M1219.2 117.2h0M1298.3 158.2h0" stroke="#f0306a" stroke-width="3.5" stroke-linecap="round"/>
<path d="M1221.2 89.9h0M1357.3 119.7h0M1332.3 88.1h0M1222.6 57.4h0M1349 159.3h0M1209.6 112.5h0M1202.1 145.6h0M1332.5 111h0M1202 64.8h0M1350.6 125h0M1299.9 129.8h0M1338 64.6h0M1320.9 159.1h0M1295.5 169h0M1340.3 171.1h0M1356.8 164.3h0M1310.5 75.2h0M1216.2 126.4h0M1203 168.3h0M1287.3 143.1h0M1204.7 117.6h0M1265.2 118.8h0M1263.6 114.1h0M1215.1 167h0M1316.9 144.5h0" stroke="#f0306a" stroke-width="2.5" stroke-linecap="round"/>
<path d="M1283.9 126.7h0M1303.4 175.3h0M1331.3 110.6h0M1202.1 80.4h0M1298 63.4h0M1303.7 145.2h0M1349.9 87.5h0M1297.3 152.1h0M1359.2 121.6h0M1322.8 65.4h0M1338.1 59.2h0M1269.8 96.4h0M1312.7 172.4h0M1247 102.9h0M1212.2 64h0M1340.5 111.3h0M1205.9 155.7h0M1331 136.6h0M1308.2 93.4h0M1239.9 163.4h0M1275.5 141.5h0M1272.9 84.6h0M1285.4 117.3h0M1293.1 148.6h0M1292 141.6h0M1362.8 72.1h0M1357.7 164.7h0M1230.3 139.2h0M1267.7 171h0M1325.1 92.1h0M1318.5 88.6h0M1336.6 66.1h0M1209.8 65.9h0M1252 91.2h0M1271.8 66.1h0M1222.8 68.6h0M1333.6 128.5h0" stroke="#ff3a6e" stroke-width="2.5" stroke-linecap="round"/>
</g>
<path d="M968.5 168.6H1016M968.5 163.1v11M1016 163.1v11" stroke="#aaa21e" stroke-width="1.6" fill="none"/>
<path d="M1139.7 168.6H1187.2M1139.7 163.1v11M1187.2 163.1v11" stroke="#aaa21e" stroke-width="1.6" fill="none"/>
<path d="M1313.5 168.6H1361M1313.5 163.1v11M1361 163.1v11" stroke="#aaa21e" stroke-width="1.6" fill="none"/>
<rect x="855.2" y="189.5" width="164.3" height="123.9" fill="url(#gD)"/>
<g filter="url(#bd)" opacity="0.85">
<path d="M915.2 298.7h0M916.4 265.4h0M890.2 234.8h0M886.3 301h0M954 300.3h0M916.5 237.9h0M977.4 294.8h0M995.2 310.5h0M951.7 207.2h0M869.8 245.3h0M988.1 195h0M995 218.1h0M907.3 194.5h0M945.9 215.9h0M951.7 242.9h0M988.8 286.5h0M877.2 199.1h0M959.2 274.8h0M986.5 218.7h0M950.2 260.2h0M896 262h0M954 206.9h0M962.1 221.1h0M991.3 277.3h0M961.3 235.9h0M888.5 215.9h0M977.6 245.7h0M1005.8 204.2h0M859.2 209.3h0M944.3 270.4h0M951.2 227.2h0M1000.6 255.1h0" stroke="#2352b4" stroke-width="2.5" stroke-linecap="round"/>
<path d="M871.5 305h0M874.5 218.5h0M1010.6 228.5h0M924.1 292.5h0M928.6 266.2h0M901.5 235.8h0M911 210.8h0M958.5 255.4h0M1000.2 301.6h0M1001.1 234.2h0M892.6 272h0M939.1 211.3h0M897.5 203h0M903.8 303.9h0M870.3 228h0M940.2 221.1h0M974.3 295.2h0M1001.1 293.6h0M910.2 294h0M861.3 217.6h0M893.4 202.1h0M983.5 273h0M892.7 220.3h0M924.1 265.8h0M901 291.1h0M957.8 267.4h0M908.6 269.1h0M863.7 214.1h0" stroke="#1e5ab8" stroke-width="3" stroke-linecap="round"/>
<path d="M933 306.6h0M954.5 299.7h0M893.5 229.4h0M908.1 232.7h0M941.2 290.2h0M977.5 277.1h0M882.7 240.6h0M984.3 262.3h0M1010.8 303.3h0M984.5 286.3h0M954.5 243.6h0M980.7 274.7h0M1011.3 196.6h0M913.4 293.9h0M931.6 247.7h0M960.8 282.6h0M895.4 217.7h0M901.2 284.1h0M995.6 216.3h0M902.5 201.2h0M937.6 194.2h0M881.9 211.8h0M943.5 217.3h0M911 206.5h0M869.9 265.2h0M917 240.8h0M967.2 214.7h0" stroke="#3a3cae" stroke-width="3" stroke-linecap="round"/>
<path d="M979.1 238.5h0M986.1 194.3h0M978.7 284.1h0M889.2 227.5h0M939.1 303.8h0M906.7 267.8h0M887.9 229.2h0M985.9 209.9h0M865.3 310.5h0M937.1 225.2h0M934.2 303.4h0M914.8 264.1h0M971.1 261.9h0M913.2 276.9h0M939.3 304.2h0M857.3 217.9h0M916.3 223.6h0M975.4 204.8h0M1008.1 297.1h0M1005 233.1h0M965.7 251.1h0M962.9 296.1h0M906.5 273h0M965.1 280.8h0M978.2 235h0M952.2 274.3h0M881.9 283.4h0M986.9 296.5h0M892.4 295.8h0M890.7 196.9h0M988.6 296.8h0M860.2 244.4h0M860.8 278.5h0M918.5 243.6h0M927.7 283.2h0M968 303.4h0M921.6 259.9h0M966.9 200.2h0M933.4 228.8h0M871.8 305.3h0" stroke="#2a48b0" stroke-width="2.5" stroke-linecap="round"/>
<path d="M977.5 301.7h0M1014.2 265.4h0M905.3 265.7h0M978.5 289.3h0M1001.5 258.6h0M956.1 288.5h0M915.3 299.2h0M908 282.6h0M882.3 294.7h0M880.7 283h0M936.4 278.3h0M890.9 241.3h0M934.3 255.1h0M1011 246h0M873.1 303.7h0M922.5 255.8h0M881.8 199.5h0M912.8 275.1h0M989.9 309.9h0M911.8 240.5h0M874.7 223.8h0M939 205.8h0M916.2 243.3h0M993.5 263.8h0M942.6 295.3h0M997 310.7h0M891.7 306.3h0M1014.9 210.1h0M923.1 303.6h0M878.8 290.3h0M871.9 253.4h0M875.2 252.5h0M919.7 208h0M941.3 208.4h0" stroke="#3a3cae" stroke-width="2.5" stroke-linecap="round"/>
<path d="M966.8 270.8h0M993.5 297.3h0M974.4 234.6h0M891.6 267h0M1009 244.5h0M952.2 208.5h0M913.4 237.4h0M1010.3 265.9h0M892.1 243.8h0M1014.3 195.6h0M936.8 274.2h0M979.6 262.3h0M970.6 242.8h0M956.6 270.7h0M972.8 280.1h0M1015.9 238.4h0M966.3 266.5h0M989.3 269.9h0M899.9 293.3h0M878.2 227.9h0M945.5 279.6h0M878.5 257.2h0" stroke="#2352b4" stroke-width="2" stroke-linecap="round"/>
<path d="M995.9 260.5h0M918.1 292.5h0M874.8 210.6h0M978.2 219.7h0M899.7 308.9h0M916.7 235.2h0M874.5 287.3h0M984 286.6h0M871.5 217.7h0M924.2 271.3h0M872.9 254.8h0M972.3 279.6h0M860.3 278h0M945.9 191.7h0M899.2 233.1h0M875.1 218h0M1017.2 252.5h0M1001.7 243.1h0M879.7 238.5h0M875.3 279.4h0M954 211.7h0M869.5 295.4h0" stroke="#3a3cae" stroke-width="2" stroke-linecap="round"/>
<path d="M988.5 268.9h0M935.9 281.9h0M881.4 244h0M986.2 300.2h0M1008.2 236.6h0M866.3 288.4h0M958.2 276.7h0M939.2 208.8h0M912.1 303.8h0M858.8 215.5h0M897.8 208.1h0M1016 219.9h0M882.8 243.9h0M903.2 209.8h0M971.7 233.6h0M1016.9 301.6h0M878.9 272.5h0M944.1 199.2h0M898.4 268.9h0M995.9 203.1h0M992.9 271.9h0M1013.2 225.9h0" stroke="#2a48b0" stroke-width="2" stroke-linecap="round"/>
<path d="M964.9 197.6h0M932.5 246.8h0M909.5 194.1h0M934.8 241.3h0M954.3 236.7h0M996.8 234.7h0M938.1 300h0M943.6 219.1h0M901.2 231.2h0M863 230.6h0M1013.9 311.3h0M992.9 234.8h0M869.9 286.6h0M1017 266.4h0M931.4 281.7h0M924.9 219.6h0M937 310.7h0M910.8 203.4h0M910.7 223.2h0M871.5 278.8h0M1013.1 268.9h0M906.9 215.7h0M917 252.7h0M988.7 249.3h0M914.7 282.2h0M889 294.4h0M963.7 246.8h0M968.5 199.2h0M917.5 288.5h0M902.1 281.1h0M932.8 252.3h0M945.8 263.7h0M872.8 278.3h0M991.7 193h0M958.4 262.9h0M863.6 226.7h0M961.8 222.7h0M1008.8 222.1h0M1016.8 247.3h0" stroke="#2a48b0" stroke-width="3" stroke-linecap="round"/>
<path d="M984.7 292.9h0M930.9 268.2h0M992.7 235.3h0" stroke="#3a3cae" stroke-width="3.5" stroke-linecap="round"/>
<path d="M888.7 246.9h0M962.3 259.7h0M953.8 222.3h0M991.6 242.3h0M933 224.5h0M913.8 242.4h0M863.4 285.8h0M1009.8 208.6h0M959.8 248.7h0M965.2 308.2h0M909.2 240.5h0M998.9 263.7h0M948.6 279.1h0M930.3 295.4h0M966.7 281h0M882.6 273.7h0M936.2 223.4h0M990.5 298.9h0M937.8 260.4h0M898.5 245.9h0M1005.1 203.1h0M875.4 310.3h0M940.5 257.5h0M982.2 292.8h0M924 306.7h0M857.3 311.7h0M859.2 298.6h0M921.4 210.3h0M917.5 261h0M933.3 256h0M965.9 261.7h0M875.7 247.1h0M1001.4 219.8h0M951.5 278.2h0M952.7 263.3h0M886.5 268.6h0M991.1 297.3h0M920.4 192.5h0" stroke="#1e5ab8" stroke-width="2.5" stroke-linecap="round"/>
<path d="M949.2 203.8h0M873.1 287h0M960.8 247.3h0M902.8 207.4h0M955 259.3h0M1009.4 257.6h0M981.4 209h0M883.4 298.9h0M937.4 302.6h0M951.3 242.7h0M892.4 300.6h0M1006.2 310.9h0M915.4 271h0M888.7 222.4h0M911.4 200.5h0M884.5 243.2h0M862.8 241.4h0M944.5 226.4h0M925.1 209.4h0M932.7 284.4h0M862.6 230.3h0M883.2 301.8h0M965 227.4h0M969.7 211.5h0M928.4 298.5h0M956.1 268h0M940.4 258.2h0M1003.6 244.2h0M987.5 235h0M988.2 257.8h0M971.8 202.6h0M931.9 244.3h0M860.6 203h0" stroke="#2352b4" stroke-width="3" stroke-linecap="round"/>
<path d="M860.5 206.8h0M922.6 278.3h0M1001.1 214.1h0M916 307h0" stroke="#2a48b0" stroke-width="3.5" stroke-linecap="round"/>
<path d="M892 297.8h0M882.5 306.6h0" stroke="#1e5ab8" stroke-width="3.5" stroke-linecap="round"/>
<path d="M882.1 268h0M945 297.9h0M907.2 259.7h0M963 222.5h0M914.9 222.2h0M955.5 295.2h0M899.1 213.1h0M1017.3 216.3h0M903.4 260.4h0" stroke="#1e5ab8" stroke-width="2" stroke-linecap="round"/>
<path d="M965.5 237.4h0M867.6 291.4h0M969.2 260.9h0M981.9 248.9h0M951.2 228.8h0" stroke="#2352b4" stroke-width="3.5" stroke-linecap="round"/>
</g>
<rect x="1026.8" y="189.5" width="163.9" height="123.9" fill="url(#gE)"/>
<g filter="url(#bd)" opacity="1.0">
<path d="M1067.9 225.7h0M1129.5 261.9h0M1081.9 276.4h0M1081.7 256.7h0M1115.5 195.9h0M1173.5 197.6h0M1178.4 191.8h0" stroke="#901008" stroke-width="3.5" stroke-linecap="round"/>
<path d="M1120.6 194.9h0M1035.9 251.6h0M1100.6 247.5h0M1062 216.3h0M1165 285.3h0M1146 287.8h0M1135.8 191.3h0M1097.6 297.7h0M1128.6 248.8h0M1142.5 275.8h0M1033.3 269.4h0M1127.2 208.1h0M1036.7 205.8h0M1109.9 208.3h0M1063.2 304.6h0M1171.4 220.3h0" stroke="#7a0c06" stroke-width="3" stroke-linecap="round"/>
<path d="M1116.8 289.3h0M1071.1 239.3h0M1132.2 252.1h0M1121.7 192.5h0M1068.1 253.4h0M1178.8 193.3h0M1080.8 199.6h0M1185.6 206.6h0M1158 264.1h0M1113.9 275.6h0M1062.8 230.3h0" stroke="#901008" stroke-width="2.5" stroke-linecap="round"/>
<path d="M1124.7 302.5h0M1134.9 304.3h0M1163.8 294.2h0M1140.6 307.8h0M1094.2 306.9h0M1045 202.8h0M1146 247.8h0M1035.7 297.2h0M1146.2 292.2h0M1053 245.2h0M1044 283.7h0M1138.4 293.6h0M1044.1 225.1h0M1041.7 220.8h0M1067.2 286.4h0" stroke="#901008" stroke-width="3" stroke-linecap="round"/>
<path d="M1139.1 212.2h0M1181.1 311.5h0M1147.9 252h0M1082.9 267.2h0M1084.8 247.6h0M1158 256.3h0M1084.5 297.4h0M1129 205.1h0M1039.1 241.6h0M1077.2 266.3h0" stroke="#7a0c06" stroke-width="2.5" stroke-linecap="round"/>
<path d="M1129.9 212h0M1175.3 259.4h0M1092.2 257.2h0" stroke="#7a0c06" stroke-width="3.5" stroke-linecap="round"/>
<path d="M1100.1 199.1h0M1141.7 305.5h0M1060.8 228h0" stroke="#901008" stroke-width="2" stroke-linecap="round"/>
<path d="M1060.9 231.6h0" stroke="#7a0c06" stroke-width="2" stroke-linecap="round"/>
</g>
<g filter="url(#bd)" opacity="1">
<path d="M1100.6 259.5h0M1105.7 237.2h0M1095 260.7h0M1077.9 204.9h0M1089.5 302.1h0M1166.9 239.7h0M1053.9 283.2h0M1150.4 207.2h0M1117.6 237.4h0M1150.7 260.3h0M1088.4 262.2h0M1050.4 235.2h0M1082.7 239.1h0M1144.7 229.4h0M1134.6 221.6h0M1140.5 279.2h0M1042.8 193h0M1174.5 219.4h0M1069.3 275.4h0M1145 212h0M1173.6 242.4h0M1106.9 256.8h0M1069.4 202.8h0M1141.9 287.2h0M1048.4 233h0M1182.9 285.6h0M1086.8 297.6h0M1049.1 263.5h0M1082.6 277.3h0M1090.6 281.9h0" stroke="#ff3018" stroke-width="3.5" stroke-linecap="round"/>
<path d="M1107.9 238.8h0M1144 227.5h0M1060 254.3h0M1037.6 271.4h0M1082.5 209.1h0M1149.1 267.5h0M1146 244.3h0M1137.3 275.3h0M1076.1 203.2h0M1087.5 253.2h0M1176.3 203.4h0M1070.3 245.1h0M1166.2 239.5h0" stroke="#f02010" stroke-width="2.5" stroke-linecap="round"/>
<path d="M1151.9 209.9h0M1131.3 296.5h0M1072.5 255.8h0M1130.8 311h0M1100.1 309.4h0M1099.4 256h0M1064.4 196.3h0M1041.7 295.6h0M1152.4 217.4h0M1164.4 225.5h0M1030.4 230.9h0M1031.5 250.4h0M1152.9 281.6h0M1071.7 249.8h0M1098.3 275.3h0M1109.3 303.6h0M1044.1 293.9h0M1117.7 216.3h0M1074.3 247.2h0M1178.9 212.2h0M1056.7 301.8h0M1098 199.3h0M1160.6 261.8h0M1035.7 309.7h0M1162 193.2h0M1053.3 270.7h0M1142.4 203.2h0M1057.4 301.4h0M1149.6 303.2h0M1141.8 257.7h0M1119.5 194.3h0M1103.8 201.7h0M1083.2 239.5h0M1080.2 267.9h0M1165.6 289.7h0M1056.6 307.8h0M1102.6 309.8h0M1114.4 306.7h0" stroke="#ff2a14" stroke-width="3" stroke-linecap="round"/>
<path d="M1088.8 205.9h0M1074.6 296.3h0M1030.4 244.8h0M1063.8 216.2h0M1123.1 274.7h0M1079 216.2h0M1130.7 244.6h0M1179.3 225.3h0M1176.4 232.5h0M1096.7 308.8h0M1041.6 276.1h0M1051.9 299.5h0M1066.8 246.6h0M1148.2 269.4h0M1066.8 192.9h0M1146.1 199.3h0M1121.6 286.3h0M1042.8 265h0M1152.2 223.1h0M1092.3 285.3h0M1083 223.5h0M1109.8 210.1h0M1178.5 295.5h0M1117.4 266.9h0M1079.4 208.6h0M1050.5 199.5h0M1053.4 254.8h0M1182.8 191.9h0M1113.3 227.3h0M1091 279h0M1065.5 235.6h0" stroke="#f02010" stroke-width="3.5" stroke-linecap="round"/>
<path d="M1041.9 238.4h0M1105.2 307.6h0M1134.7 289.3h0M1154.2 298.5h0M1162.8 228.4h0M1116.1 304.8h0M1076.8 256.9h0M1187.4 217h0M1124.1 284.8h0M1099.8 205.1h0M1049.3 275.1h0M1122.8 244.1h0M1081 264.3h0M1100.4 229.9h0M1089.7 223.8h0M1126.8 233.3h0M1095.8 261.1h0M1032.4 198.3h0M1100.6 244.8h0" stroke="#ff3018" stroke-width="2.5" stroke-linecap="round"/>
<path d="M1111.2 225.8h0M1179.4 262.4h0M1086.5 208.1h0M1151 198.9h0M1145.6 214.9h0M1068.8 253.3h0M1155.6 258.9h0M1111.5 209h0M1063.3 283.5h0M1090.2 288.1h0M1133.9 262.2h0M1120.4 206.6h0M1093.3 248.4h0M1068.3 226.2h0M1131.8 273.4h0M1090.3 257.7h0M1102.4 289.2h0M1085.1 274.8h0M1150.6 258.1h0M1163.2 258.5h0M1139.2 277.4h0M1046.2 191.8h0M1179 203.6h0" stroke="#ff3018" stroke-width="3" stroke-linecap="round"/>
<path d="M1097 193.4h0M1081.3 237.6h0M1046.7 262.8h0" stroke="#f02010" stroke-width="4" stroke-linecap="round"/>
<path d="M1059.9 287.7h0M1134.7 260h0M1136.5 255.4h0M1140.2 226.3h0M1031.9 226.9h0M1121.2 211.9h0M1044.2 302.9h0M1186.4 213.7h0M1113.3 212.1h0M1102.5 216.1h0M1108.5 261.7h0M1093.5 207.4h0M1051.7 252.9h0M1121.4 208.9h0M1068.5 303.3h0M1144.2 231h0M1032 259.5h0M1126.5 219.3h0M1075.7 293.9h0M1041.9 214.6h0M1099.4 266.3h0M1121 308.1h0M1118.2 285.7h0M1081.4 277.8h0" stroke="#ff2a14" stroke-width="3.5" stroke-linecap="round"/>
<path d="M1130.2 235.2h0M1146.1 211.9h0M1100 219.2h0M1176.9 223.7h0M1065.5 218.6h0M1108.1 212.2h0M1054.9 214.3h0M1170.7 270.1h0M1169 204.4h0M1167.3 193.3h0M1178 197.3h0M1162.6 306.9h0" stroke="#ff2a14" stroke-width="2.5" stroke-linecap="round"/>
<path d="M1124.5 216.3h0M1154.7 301.6h0M1114.5 209h0" stroke="#ff3018" stroke-width="4" stroke-linecap="round"/>
<path d="M1156.6 222.8h0M1047.5 212.7h0M1177.1 251.3h0M1152.9 278.5h0M1175.1 220.5h0M1162.5 233.4h0M1042.1 233.2h0M1045.1 256.4h0M1056.9 215.7h0M1048.6 254.7h0M1033.9 302.3h0M1039.1 220h0M1091.2 242.6h0M1069.3 261.8h0M1053.4 222.7h0M1189 290h0M1061.6 212.4h0M1045.9 226.9h0M1182.9 253.4h0M1087.8 286.3h0M1034.8 303.1h0M1113.6 256.2h0M1063.3 243.1h0M1083.9 206.3h0" stroke="#f02010" stroke-width="3" stroke-linecap="round"/>
</g>
<rect x="1199.4" y="189.5" width="165.1" height="123.9" fill="url(#gM)"/>
<g filter="url(#bd)" opacity="0.8">
<path d="M1213.1 255.5h0M1287.2 224.2h0M1277.8 285.3h0M1289.2 206.5h0M1277.5 248.1h0M1226.8 236h0M1303.1 228.8h0M1227.7 255h0M1255.5 241h0M1320.4 260.3h0M1220.9 196.9h0M1269.1 219.9h0M1236.2 218.5h0M1205.2 202.4h0M1323.3 203.7h0M1269.2 307.5h0M1265 242.2h0M1361 284h0M1348.2 243.1h0M1315.9 250.2h0M1313.7 196.2h0M1314.1 215.4h0M1348.8 268.9h0M1317.1 195.1h0M1218.1 197.3h0M1235.9 206.7h0M1242.5 194.8h0M1258.2 214.9h0" stroke="#4a3ab0" stroke-width="2.5" stroke-linecap="round"/>
<path d="M1259.4 260.8h0M1356.2 280.7h0M1256.6 240.4h0M1360.5 194.3h0M1341.1 251h0M1239.3 244.9h0M1233.6 300.1h0M1204.9 307.2h0M1285.9 294.6h0M1219.7 259.1h0M1244.4 227.5h0M1305 262.9h0M1305.1 225.3h0M1354.5 247.7h0M1283.4 264.7h0M1223.4 252.2h0M1221.1 286.7h0M1202.9 209.2h0M1251.8 263.4h0" stroke="#3040b0" stroke-width="3" stroke-linecap="round"/>
<path d="M1343.1 222h0M1233.9 232.8h0M1249.4 264.7h0M1321.8 234.1h0M1276.8 225.8h0M1211.9 309.2h0M1332.1 286.4h0M1357.1 200.9h0M1341.1 267.4h0M1275 215.8h0M1359.3 198.7h0M1244.8 249.9h0M1297.3 197.1h0M1242.1 209.9h0M1325.4 274.5h0M1278.1 194.9h0" stroke="#3a48c0" stroke-width="3" stroke-linecap="round"/>
<path d="M1257 194h0M1212.5 275.2h0M1352.4 287.1h0M1282.5 250.8h0M1303.1 303.4h0M1266.3 261.1h0M1205.3 254.6h0M1323.4 232.6h0M1349.7 280h0M1229.1 311.6h0M1201.9 222.3h0M1222.8 222.8h0M1220.7 251.6h0M1201.7 213.3h0M1302.8 266h0M1246 214.9h0M1310.1 219.3h0M1322.9 216.4h0M1257.7 298.2h0M1302.4 201.4h0M1347.7 218.2h0M1357.4 244.1h0M1282.8 274.4h0M1219.9 298.6h0M1225.4 249.1h0M1265.4 278.4h0M1317.3 256h0M1326.1 307.7h0M1355.9 220.4h0M1358.6 222.7h0" stroke="#3a48c0" stroke-width="2.5" stroke-linecap="round"/>
<path d="M1260.4 261.3h0M1273.7 219.5h0M1270.4 191.4h0M1203.9 243.2h0M1321.5 293.2h0M1220.4 230.3h0M1263.3 202h0M1334.8 265.9h0M1221.4 204.5h0M1225.2 271h0M1312.8 278.1h0M1216.1 231.7h0M1296 266.2h0M1275.5 286h0" stroke="#4a3ab0" stroke-width="2" stroke-linecap="round"/>
<path d="M1286.7 246.4h0M1295.7 204.7h0M1311 202.7h0M1217.9 281.2h0M1339.2 201.2h0M1258.9 266h0M1257 271.4h0M1273.6 307.4h0M1279.3 289.5h0M1204 292.2h0M1307.5 214.7h0M1234.4 213.4h0M1324.1 217.2h0M1330.6 222.9h0M1205.1 247.8h0M1272.1 308.3h0M1257.9 229.6h0M1292.4 299.8h0M1277.4 298.8h0M1228 229h0M1328.3 213.5h0M1283.3 248.3h0M1291 196.7h0M1229.8 197h0M1241.6 287.3h0M1292.6 294.4h0M1276.1 237.1h0M1230.3 261.4h0M1249.5 265.6h0M1280.2 249.6h0M1276.9 253.6h0M1209.6 305.4h0" stroke="#3040b0" stroke-width="2.5" stroke-linecap="round"/>
<path d="M1291.5 293.6h0M1340.6 297.6h0M1253.4 287.3h0M1335.3 253.4h0M1233.2 227.8h0M1313.4 194.9h0M1304.7 293.2h0M1249.3 250.2h0M1286.8 238h0M1299 290.2h0M1339 301.3h0M1355.5 207.2h0M1202.8 264.9h0M1269.6 302.9h0M1237.8 196.8h0M1325.9 253.5h0M1348.7 202.2h0M1347.1 304.4h0M1289.6 234.2h0" stroke="#3a48c0" stroke-width="2" stroke-linecap="round"/>
<path d="M1288.9 294.6h0M1313.5 204h0M1212.4 205.2h0M1352.7 219.1h0M1308.3 269.6h0M1213.2 284h0M1269.7 255.1h0M1330.7 303h0M1233.6 253.4h0M1350.4 310.1h0M1216.1 230.6h0M1335.2 212.9h0M1283.6 255.4h0M1239.7 230.8h0" stroke="#3040b0" stroke-width="2" stroke-linecap="round"/>
<path d="M1218.1 245.5h0M1290 299.4h0M1296.2 210.1h0M1244.5 238.1h0M1268.2 284.2h0M1308.6 261.1h0M1260.3 191.1h0M1226.9 235.1h0" stroke="#4a3ab0" stroke-width="3" stroke-linecap="round"/>
</g>
<g filter="url(#bd)" opacity="1">
<path d="M1215 194.7h0M1253 300.6h0M1221.7 305.6h0M1303.1 244.2h0M1339.3 198.4h0M1214.5 199.9h0M1234.9 206.5h0M1351.7 197.5h0M1214.3 205.8h0M1260.7 251.5h0M1354.9 231.9h0M1248.2 243.3h0M1231.2 213.2h0M1231.2 231.6h0M1271.4 247.9h0M1268.5 225.2h0M1202.7 279.2h0M1272.8 204.5h0M1215.1 293.4h0M1312.5 252.7h0M1291.6 268.5h0M1335.9 286.2h0M1321.2 294.3h0M1253.8 206.9h0M1220.7 203.5h0M1207.8 288.3h0M1344.5 285.2h0M1234.8 252.5h0M1343.7 253.3h0M1285.6 204.3h0" stroke="#f0306a" stroke-width="3" stroke-linecap="round"/>
<path d="M1217.4 266h0M1356.9 308.7h0M1230.4 231.1h0M1324.7 260.1h0M1289.3 297.4h0M1245.7 253.2h0M1248 256.3h0M1355.1 269.1h0M1284.2 253.7h0M1278.9 256.1h0M1234.3 255h0M1267.6 276.6h0M1232 236.3h0M1309.1 250.6h0M1344 261.1h0M1341.9 309.7h0M1264.2 249.2h0M1342.5 194.8h0M1351 286.5h0M1272.7 266.8h0M1264.4 241.7h0M1253.4 271.3h0M1292.5 254.7h0M1317.9 261.6h0M1281.2 210.1h0M1285 301.9h0M1234.2 247.5h0M1330.3 296h0M1272 212.4h0M1243 306.5h0M1300 204.3h0M1306.7 289.9h0M1349.5 283.7h0" stroke="#ff2e5e" stroke-width="2.5" stroke-linecap="round"/>
<path d="M1274.1 292h0M1316.1 299.3h0M1288.9 304.2h0M1349.8 228.1h0M1226.5 249.5h0M1330.7 216.1h0M1306.9 226.7h0M1231.4 278.1h0M1245.9 254.5h0M1257.2 232.9h0M1238.8 292.8h0M1301.3 243.8h0M1282.8 238h0M1295.1 217.5h0M1233.5 195.2h0M1232.3 222.9h0M1273.2 211.6h0M1250.2 277h0M1243.8 203.8h0M1242 248.2h0M1208.5 202.4h0M1264.3 271.3h0" stroke="#ff3a6e" stroke-width="3" stroke-linecap="round"/>
<path d="M1256.8 273h0M1313.6 206.6h0M1242.2 240.7h0M1324.5 235h0M1305.9 270.2h0M1361.8 235.2h0M1278 303.8h0M1354 292.3h0M1335 269.8h0M1233.8 213.4h0M1238.5 267.6h0M1299 255.1h0M1328.5 225.9h0M1348.3 264.4h0M1212 288.6h0M1286.9 271.6h0M1260.3 306.1h0M1220.9 278.2h0M1260.7 278.7h0M1345.2 225.1h0M1304.1 256.2h0M1359.5 311h0M1245.9 253.4h0M1258.3 250.4h0M1223.6 197.8h0" stroke="#ff3a6e" stroke-width="2.5" stroke-linecap="round"/>
<path d="M1232.1 292.5h0M1256.2 208.4h0M1259.1 205.3h0M1334.8 286.6h0M1231.4 247.5h0M1339.8 276.2h0M1210.1 209.9h0M1306.8 265.1h0M1360.6 302.7h0M1290.7 192.1h0M1309.6 226h0M1261.2 245.4h0M1316.2 291.9h0M1339.7 218.6h0M1339.2 308.5h0M1220.4 274h0M1221.3 234.6h0M1337.7 217.2h0M1278.2 216.6h0" stroke="#f0306a" stroke-width="3.5" stroke-linecap="round"/>
<path d="M1272.3 304.7h0M1319.3 208.3h0M1308.3 276.8h0M1250.4 201.4h0M1208.7 276h0M1293 252.8h0M1306.9 210.1h0M1242.8 218h0M1204.6 266.5h0M1251.2 235.7h0M1253.7 294.8h0M1224.6 222.5h0M1351.2 227.3h0M1295.5 233.8h0M1269.3 226.8h0M1230.7 213.2h0M1276 275.7h0M1325 256.8h0M1234.8 269.3h0M1207 274.7h0M1353.3 284.4h0M1271.6 212.3h0M1355 226.7h0M1279.6 266.2h0M1354.7 252.4h0M1323.2 274.8h0M1322.3 288.6h0M1240.1 241.2h0M1291.6 281h0M1258.9 201.2h0M1253.5 283.8h0M1226.1 301.1h0M1293.8 279.9h0M1301.1 253.6h0M1218.1 297.4h0M1322.6 226.7h0M1297.5 280.7h0M1270.4 281h0M1319.9 235.9h0M1224.3 288.5h0M1259.6 283h0" stroke="#ff2e5e" stroke-width="3" stroke-linecap="round"/>
<path d="M1347.6 283.9h0M1324.5 248.8h0M1272 204.8h0M1212.6 208.7h0M1317.6 263.7h0M1346 230.5h0M1232.5 267.8h0M1271.4 241.6h0M1222.4 257.3h0M1359.8 256.6h0M1277.6 304.7h0M1206.3 279.9h0M1343.9 218.2h0M1258.2 202.8h0M1284.7 196.1h0M1291.5 292h0M1285.2 269.3h0M1214.7 280.9h0M1333.1 291.3h0M1244.2 201h0M1278.2 281.6h0M1212.3 292.2h0M1274.6 209.1h0M1257 192.3h0M1213.9 258.3h0M1222.6 298.5h0M1361.7 265.6h0M1283 293.7h0M1208.4 306.4h0" stroke="#f0306a" stroke-width="2.5" stroke-linecap="round"/>
<path d="M1257.9 195.8h0M1329 258.4h0M1270.9 198.1h0M1251.3 311.1h0M1298.2 222.6h0M1215.8 234h0M1273.1 257.5h0M1337.6 211.7h0M1334.3 252.5h0" stroke="#ff3a6e" stroke-width="3.5" stroke-linecap="round"/>
<path d="M1254 200.3h0M1287.9 205.6h0M1215.2 284.6h0M1239.4 236.3h0M1342 260.5h0M1280.9 192.4h0M1234.3 219h0M1322 191.4h0M1336.7 276h0M1312.2 247.3h0M1210.9 300.4h0M1226.8 267.1h0" stroke="#ff2e5e" stroke-width="3.5" stroke-linecap="round"/>
</g>
<path d="M968.5 304.2H1016M968.5 298.7v11M1016 298.7v11" stroke="#aaa21e" stroke-width="1.6" fill="none"/>
<path d="M1139.7 304.2H1187.2M1139.7 298.7v11M1187.2 298.7v11" stroke="#aaa21e" stroke-width="1.6" fill="none"/>
<path d="M1313.5 304.2H1361M1313.5 298.7v11M1361 298.7v11" stroke="#aaa21e" stroke-width="1.6" fill="none"/>
<rect x="855.2" y="321" width="164.3" height="123.8" fill="url(#gD)"/>
<g filter="url(#bd)" opacity="0.8">
<path d="M964 382.1h0M958.9 411.4h0M869.2 439.8h0M968.7 323.6h0M915 385.2h0M887.3 333.5h0M1001.6 394h0M1013 353.1h0M1002 436.9h0M947.5 431h0M914.3 438.1h0M1006 324.1h0M897.7 345.6h0M1005.6 435.3h0M911.6 365.7h0M992.3 400h0M908.2 433.7h0M917.7 383.3h0M926.4 366.4h0M879.3 342.6h0M978.5 407.6h0" stroke="#2a4aa8" stroke-width="3" stroke-linecap="round"/>
<path d="M923 352.3h0M929.7 433.3h0M980.9 394.9h0M868.7 389.1h0M992.1 365.8h0M964 333.5h0M929.8 438h0M946.4 331.2h0M879.1 354.7h0M871.9 338.7h0M995.5 391.6h0M918.3 404.8h0M978 370.1h0M865.5 355.2h0M863.4 426.8h0M860.4 411.5h0M1015.2 379.2h0M899.1 409.5h0" stroke="#2840a0" stroke-width="3" stroke-linecap="round"/>
<path d="M901.3 423h0M998.4 358h0M974.4 341.7h0M875.2 358.7h0M880.8 332.6h0M972 425.6h0M873.6 414.2h0M860.7 340.9h0M912.4 355.7h0M910.9 330h0M873.1 414.2h0M877.6 324.7h0M978.5 369.7h0M866.1 387.6h0M881.6 440.7h0M881.1 436.1h0" stroke="#2a4aa8" stroke-width="2.5" stroke-linecap="round"/>
<path d="M922 322.7h0M973.5 348.1h0M967.8 419.5h0M861.4 426.2h0M999.5 377.6h0M978.6 391.3h0M986.6 343.9h0M866.5 336.5h0M985.3 418.4h0M975.5 368.6h0M872.8 364.8h0M1008.5 376.6h0M936 382.8h0M924.2 421.7h0M940.4 342.8h0M907.5 403.3h0M999.3 335.3h0M926.3 423.8h0M954.7 412.6h0M970.9 400.9h0M862.5 438.8h0M940.2 413.1h0M1007.9 365h0M1014.4 373.3h0M952.2 379.3h0" stroke="#1e46a0" stroke-width="3" stroke-linecap="round"/>
<path d="M945.2 328.7h0M882.4 339.5h0M872.6 417.8h0M938.5 414.8h0M860.6 353.2h0M887 382.4h0M970.8 435.7h0M922 333.6h0M874.8 387.7h0M970.7 395.5h0M988.7 392h0M887.1 401.1h0M1006.1 380.2h0M889.8 425.9h0M910.7 413.7h0M898.2 393.9h0M913.4 385.7h0M968.3 344.4h0M881.2 390.9h0M876.8 390h0M927.1 377h0M917.6 386.4h0M884 439.5h0M883.1 399.6h0M878.7 433.4h0M924 407.9h0M928.7 377.4h0M874.6 378.4h0M956.8 366.7h0" stroke="#2840a0" stroke-width="2.5" stroke-linecap="round"/>
<path d="M882.1 352.7h0M962.1 364.3h0M898.9 411.4h0M906.7 425h0M998.4 360.8h0M933.3 331h0M907.8 357.8h0M942.4 369.3h0" stroke="#2a4aa8" stroke-width="2" stroke-linecap="round"/>
<path d="M1005.1 417.9h0M977.5 327.1h0M886.2 424.7h0M987.6 340h0M858.8 398h0M1000.7 435.9h0M896 350.4h0M876.8 331.5h0M927 355.5h0M949 415.2h0M895.9 411.3h0M1009.2 425.3h0M871.7 429.6h0M921.2 389.4h0M935.9 396.7h0M859.8 375.2h0" stroke="#1e46a0" stroke-width="2.5" stroke-linecap="round"/>
<path d="M881.7 410.2h0M870.5 348.7h0M925.6 401.9h0M905 389.2h0M996.4 382h0M968.8 388.8h0M979.4 373.4h0M964.6 346.8h0M911.1 401h0M932.8 340.8h0" stroke="#2840a0" stroke-width="2" stroke-linecap="round"/>
<path d="M976.6 377.8h0M953.3 362.2h0" stroke="#1e46a0" stroke-width="3.5" stroke-linecap="round"/>
<path d="M960 432.4h0M902.2 409.8h0M895.4 385.3h0M906.6 434.7h0M983.9 374.8h0M1009.6 441.2h0M965.5 429.5h0M906.7 416.4h0" stroke="#1e46a0" stroke-width="2" stroke-linecap="round"/>
<path d="M871.2 373.3h0M941.3 373h0M950.2 394.5h0M915.6 349.2h0" stroke="#2840a0" stroke-width="3.5" stroke-linecap="round"/>
<path d="M981.9 362.3h0M935.7 338.2h0M948.9 333.4h0" stroke="#2a4aa8" stroke-width="3.5" stroke-linecap="round"/>
</g>
<rect x="1026.8" y="321" width="163.9" height="123.8" fill="url(#gE3)"/>
<g filter="url(#bd)" opacity="1.0">
<path d="M1077.8 435.1h0" stroke="#901008" stroke-width="2" stroke-linecap="round"/>
<path d="M1155.5 323.6h0M1106.8 333.5h0M1104.8 381h0M1188.8 409.8h0M1144.4 348.8h0M1066.6 327.5h0M1091.1 410.3h0" stroke="#901008" stroke-width="3" stroke-linecap="round"/>
<path d="M1149.7 341.9h0M1082.2 416.3h0M1155 419.7h0M1076.7 404.4h0M1161.9 430.1h0" stroke="#901008" stroke-width="2.5" stroke-linecap="round"/>
<path d="M1029.2 406.5h0M1149.9 356.8h0M1096.1 336.7h0M1029.1 430.7h0" stroke="#7a0c06" stroke-width="3" stroke-linecap="round"/>
<path d="M1089.6 364.9h0M1122.5 412.4h0M1094.6 424.9h0" stroke="#7a0c06" stroke-width="2.5" stroke-linecap="round"/>
<path d="M1129.2 440.4h0M1158.1 357.4h0" stroke="#7a0c06" stroke-width="3.5" stroke-linecap="round"/>
</g>
<g filter="url(#bd)" opacity="0.85">
<path d="M1155.5 390.1h0M1179.6 338.8h0M1146.1 401.8h0M1080.6 354.2h0M1033.4 424.3h0M1113.1 373.2h0M1174.7 413.5h0M1110.5 401.7h0M1177.7 418.2h0M1041.7 433.1h0M1106.1 390.2h0M1047.2 334.5h0M1100.8 421.3h0M1044.4 425.9h0M1150.2 339.8h0M1124.1 356.8h0M1178 367.9h0M1031.6 432.9h0M1077.2 430.3h0" stroke="#d81a10" stroke-width="3" stroke-linecap="round"/>
<path d="M1155 414.8h0M1101.1 330.2h0M1091.7 377.7h0M1058.7 399.2h0M1184.4 437.3h0M1128.5 432.9h0M1101.6 378.6h0M1087.1 421.8h0M1177.1 437.7h0M1172.6 425.1h0M1098.1 335.2h0M1078.9 368.6h0M1171.8 361.7h0M1078.9 426.7h0M1131.8 364.4h0" stroke="#d81a10" stroke-width="2.5" stroke-linecap="round"/>
<path d="M1141.6 356.4h0M1105.6 348.3h0M1034.3 335.4h0M1085.2 403.4h0M1096.6 382.7h0M1079.8 363h0M1139.4 341.9h0M1083.7 374.8h0M1046.9 381.3h0M1148 354.2h0M1176.2 405.4h0M1146.6 428.3h0M1164.9 368.4h0M1124.2 398.5h0M1047.3 361.4h0M1059.5 334h0M1128.9 421.7h0M1176.7 326.4h0" stroke="#e01c10" stroke-width="2.5" stroke-linecap="round"/>
<path d="M1180 345.5h0M1138.6 388.8h0M1174.3 430.7h0M1161 341.7h0M1178.3 427.6h0M1063.8 335.7h0M1128.9 381.7h0M1151.4 406.5h0M1175.5 437h0M1149.2 377.6h0M1168.7 361.3h0M1100.4 328.8h0M1065.3 345.3h0M1165.9 389.7h0M1181.5 443.2h0M1182.8 441.3h0M1069.4 384.6h0M1078 365.1h0M1133.7 325.3h0M1138.9 400.7h0M1093.9 394.3h0M1170.5 413h0M1163.6 412.8h0" stroke="#e01c10" stroke-width="3" stroke-linecap="round"/>
</g>
<rect x="1199.4" y="321" width="165.1" height="123.8" fill="url(#gM)"/>
<g filter="url(#bd)" opacity="0.8">
<path d="M1360.7 434.4h0M1277.8 334.5h0M1324 346.3h0M1268.6 363.4h0M1222.2 344.5h0M1276.7 343.4h0M1247.1 365.4h0M1324.2 354.3h0M1210 364.7h0M1332.6 346.9h0M1254.3 406.3h0M1321.3 431.3h0M1211.8 367.9h0M1271.3 369.7h0M1335 337.9h0" stroke="#3a48c0" stroke-width="2.5" stroke-linecap="round"/>
<path d="M1292.5 414.5h0M1311.8 387.3h0M1305.2 346.5h0M1264 426.5h0M1205 406h0M1214.9 411.4h0M1336.7 381.2h0M1222.9 394.5h0M1217 430.2h0M1202.5 403.9h0M1323.1 369.5h0M1282.8 390.2h0M1217.8 429.7h0M1268.5 425.9h0" stroke="#4a3ab0" stroke-width="2.5" stroke-linecap="round"/>
<path d="M1307.7 346.2h0M1219 339.4h0M1213.4 401.8h0M1242.9 364.5h0M1282.9 424.9h0M1224.4 439.8h0M1341 414.6h0M1319.8 340.6h0M1347.3 360.4h0M1273 334.4h0M1252 331.4h0M1283.1 377.3h0M1275.4 429h0" stroke="#4a3ab0" stroke-width="3" stroke-linecap="round"/>
<path d="M1307.4 441.1h0M1350.2 441.4h0M1357.5 370.6h0M1202.8 357.2h0M1256.5 406h0" stroke="#3040b0" stroke-width="3" stroke-linecap="round"/>
<path d="M1214.5 367.5h0M1264.2 414.4h0M1301.3 416.8h0M1329.5 393.8h0M1297.5 336.8h0M1252.3 413.8h0M1261 377.9h0M1353.4 416h0M1246 362.2h0M1216.3 389.4h0M1318.8 351.3h0M1269.1 385.9h0M1242.5 409.2h0M1218.1 349.4h0M1294 397.9h0M1278.7 330.8h0M1256.8 404.4h0" stroke="#3040b0" stroke-width="2.5" stroke-linecap="round"/>
<path d="M1271.7 410.5h0M1323.9 355.8h0M1362.3 343.8h0M1279.4 430.4h0M1276.3 357.5h0" stroke="#4a3ab0" stroke-width="2" stroke-linecap="round"/>
<path d="M1336.4 397.2h0M1274.1 328.8h0M1289.4 405h0M1340.1 436.2h0M1335.4 414.5h0" stroke="#3040b0" stroke-width="2" stroke-linecap="round"/>
<path d="M1284.1 374.5h0M1222 431.1h0M1224.2 330.2h0M1338.5 379.2h0M1230.5 428.2h0M1348.9 372.5h0" stroke="#3a48c0" stroke-width="2" stroke-linecap="round"/>
<path d="M1230.2 378.2h0M1292.3 412.6h0M1215 324.8h0M1237.9 348.6h0M1287.4 329h0" stroke="#3a48c0" stroke-width="3" stroke-linecap="round"/>
</g>
<g filter="url(#bd)" opacity="0.85">
<path d="M1256.7 434.2h0M1310.1 401.9h0M1250.2 414.7h0M1347.7 403.6h0M1208.3 429.9h0M1269.6 338.6h0M1317.1 380.4h0M1238.6 423.1h0M1309 329h0M1267.7 378.4h0M1219.8 335.5h0M1328 440.8h0M1306 363h0M1319.5 376.5h0M1322.3 384.5h0" stroke="#d0305e" stroke-width="3" stroke-linecap="round"/>
<path d="M1255.2 378.9h0M1271 397.1h0M1267.5 336.4h0M1321.5 358.5h0M1216.1 358.2h0M1218.3 332.5h0M1336.1 401.5h0M1322.1 427.9h0M1228 333.9h0M1360.7 375.2h0M1241.4 439.7h0M1269 398.1h0M1298.9 354.7h0M1284.8 414.3h0M1255 409.5h0M1340.2 371.8h0" stroke="#d0305e" stroke-width="2.5" stroke-linecap="round"/>
<path d="M1244.6 432.9h0M1337 406.6h0M1276.8 375.8h0M1281.3 379.4h0M1311.7 387h0M1285.9 409.8h0M1254.7 429.7h0M1327.6 375.5h0M1274.7 433.5h0M1311.6 354.1h0M1351 372.3h0M1315.1 330.5h0" stroke="#c82a5a" stroke-width="2.5" stroke-linecap="round"/>
<path d="M1292.8 363.7h0M1334.5 390.9h0M1215.6 400.5h0M1253.1 379.7h0M1245.5 412.5h0M1233.4 410h0M1222.7 328.2h0M1223.6 354.8h0M1333.5 401.7h0M1248 329.9h0M1272.1 403.1h0M1359.9 335.4h0M1232.1 360.6h0M1260 348.7h0M1354.4 350.4h0" stroke="#c82a5a" stroke-width="3" stroke-linecap="round"/>
<path d="M1260.7 383.5h0M1338.6 344.4h0M1334.3 436.2h0M1362 379.1h0M1275.3 378.5h0" stroke="#c82a5a" stroke-width="3.5" stroke-linecap="round"/>
<path d="M1229.1 418.6h0M1283.2 365.8h0" stroke="#d0305e" stroke-width="3.5" stroke-linecap="round"/>
</g>
<path d="M968.5 435.6H1016M968.5 430.1v11M1016 430.1v11" stroke="#aaa21e" stroke-width="1.6" fill="none"/>
<path d="M1139.7 435.6H1187.2M1139.7 430.1v11M1187.2 430.1v11" stroke="#aaa21e" stroke-width="1.6" fill="none"/>
<path d="M1313.5 435.6H1361M1313.5 430.1v11M1361 430.1v11" stroke="#aaa21e" stroke-width="1.6" fill="none"/>
<text x="-1" y="412" font-size="42" font-weight="bold">c</text>
<rect x="121.3" y="441.2" width="79" height="24.9" fill="#fbd88e" stroke="#a8a8a8" stroke-width="0.9"/>
<rect x="200.3" y="441.2" width="79" height="24.9" fill="#98c3dd" stroke="#a8a8a8" stroke-width="0.9"/>
<rect x="279.4" y="441.2" width="79" height="24.9" fill="#d3e9f0" stroke="#a8a8a8" stroke-width="0.9"/>
<rect x="358.4" y="441.2" width="79" height="24.9" fill="#db3a2c" stroke="#a8a8a8" stroke-width="0.9"/>
<rect x="437.5" y="441.2" width="79" height="24.9" fill="#fbf8c2" stroke="#a8a8a8" stroke-width="0.9"/>
<rect x="516.5" y="441.2" width="79" height="24.9" fill="#e6f2e8" stroke="#a8a8a8" stroke-width="0.9"/>
<rect x="121.3" y="466.1" width="79" height="24.9" fill="#6692c4" stroke="#a8a8a8" stroke-width="0.9"/>
<rect x="200.3" y="466.1" width="79" height="24.9" fill="#abcfe2" stroke="#a8a8a8" stroke-width="0.9"/>
<rect x="279.4" y="466.1" width="79" height="24.9" fill="#f9b172" stroke="#a8a8a8" stroke-width="0.9"/>
<rect x="358.4" y="466.1" width="79" height="24.9" fill="#fbc584" stroke="#a8a8a8" stroke-width="0.9"/>
<rect x="437.5" y="466.1" width="79" height="24.9" fill="#fbc17f" stroke="#a8a8a8" stroke-width="0.9"/>
<rect x="516.5" y="466.1" width="79" height="24.9" fill="#fcf7bb" stroke="#a8a8a8" stroke-width="0.9"/>
<rect x="121.3" y="491.1" width="79" height="24.9" fill="#97c3dd" stroke="#a8a8a8" stroke-width="0.9"/>
<rect x="200.3" y="491.1" width="79" height="24.9" fill="#87b6d6" stroke="#a8a8a8" stroke-width="0.9"/>
<rect x="279.4" y="491.1" width="79" height="24.9" fill="#ec6a46" stroke="#a8a8a8" stroke-width="0.9"/>
<rect x="358.4" y="491.1" width="79" height="24.9" fill="#fde39c" stroke="#a8a8a8" stroke-width="0.9"/>
<rect x="437.5" y="491.1" width="79" height="24.9" fill="#fefbc0" stroke="#a8a8a8" stroke-width="0.9"/>
<rect x="516.5" y="491.1" width="79" height="24.9" fill="#fde39c" stroke="#a8a8a8" stroke-width="0.9"/>
<rect x="121.3" y="516" width="79" height="24.9" fill="#bbdaea" stroke="#a8a8a8" stroke-width="0.9"/>
<rect x="200.3" y="516" width="79" height="24.9" fill="#a2c9df" stroke="#a8a8a8" stroke-width="0.9"/>
<rect x="279.4" y="516" width="79" height="24.9" fill="#c9e1ec" stroke="#a8a8a8" stroke-width="0.9"/>
<rect x="358.4" y="516" width="79" height="24.9" fill="#fde4a0" stroke="#a8a8a8" stroke-width="0.9"/>
<rect x="437.5" y="516" width="79" height="24.9" fill="#f99e64" stroke="#a8a8a8" stroke-width="0.9"/>
<rect x="516.5" y="516" width="79" height="24.9" fill="#f68b55" stroke="#a8a8a8" stroke-width="0.9"/>
<rect x="121.3" y="541" width="79" height="24.9" fill="#e3f3ee" stroke="#a8a8a8" stroke-width="0.9"/>
<rect x="200.3" y="541" width="79" height="24.9" fill="#4575b5" stroke="#a8a8a8" stroke-width="0.9"/>
<rect x="279.4" y="541" width="79" height="24.9" fill="#fdf5b0" stroke="#a8a8a8" stroke-width="0.9"/>
<rect x="358.4" y="541" width="79" height="24.9" fill="#fcca86" stroke="#a8a8a8" stroke-width="0.9"/>
<rect x="437.5" y="541" width="79" height="24.9" fill="#f9a266" stroke="#a8a8a8" stroke-width="0.9"/>
<rect x="516.5" y="541" width="79" height="24.9" fill="#fde59e" stroke="#a8a8a8" stroke-width="0.9"/>
<rect x="121.3" y="566" width="79" height="24.9" fill="#bcdbeb" stroke="#a8a8a8" stroke-width="0.9"/>
<rect x="200.3" y="566" width="79" height="24.9" fill="#d62f27" stroke="#a8a8a8" stroke-width="0.9"/>
<rect x="279.4" y="566" width="79" height="24.9" fill="#fbcf89" stroke="#a8a8a8" stroke-width="0.9"/>
<rect x="358.4" y="566" width="79" height="24.9" fill="#e8f4ea" stroke="#a8a8a8" stroke-width="0.9"/>
<rect x="437.5" y="566" width="79" height="24.9" fill="#d4e9f1" stroke="#a8a8a8" stroke-width="0.9"/>
<rect x="516.5" y="566" width="79" height="24.9" fill="#e8f4ea" stroke="#a8a8a8" stroke-width="0.9"/>
<rect x="121.3" y="590.9" width="79" height="24.9" fill="#fdfbc2" stroke="#a8a8a8" stroke-width="0.9"/>
<rect x="200.3" y="590.9" width="79" height="24.9" fill="#f88c5a" stroke="#a8a8a8" stroke-width="0.9"/>
<rect x="279.4" y="590.9" width="79" height="24.9" fill="#f9aa6c" stroke="#a8a8a8" stroke-width="0.9"/>
<rect x="358.4" y="590.9" width="79" height="24.9" fill="#fdf1ae" stroke="#a8a8a8" stroke-width="0.9"/>
<rect x="437.5" y="590.9" width="79" height="24.9" fill="#77a8d0" stroke="#a8a8a8" stroke-width="0.9"/>
<rect x="516.5" y="590.9" width="79" height="24.9" fill="#abcfe3" stroke="#a8a8a8" stroke-width="0.9"/>
<rect x="121.3" y="615.9" width="79" height="24.9" fill="#fdefac" stroke="#a8a8a8" stroke-width="0.9"/>
<rect x="200.3" y="615.9" width="79" height="24.9" fill="#f6875a" stroke="#a8a8a8" stroke-width="0.9"/>
<rect x="279.4" y="615.9" width="79" height="24.9" fill="#f78c5a" stroke="#a8a8a8" stroke-width="0.9"/>
<rect x="358.4" y="615.9" width="79" height="24.9" fill="#bddaea" stroke="#a8a8a8" stroke-width="0.9"/>
<rect x="437.5" y="615.9" width="79" height="24.9" fill="#def0f4" stroke="#a8a8a8" stroke-width="0.9"/>
<rect x="516.5" y="615.9" width="79" height="24.9" fill="#95c1dc" stroke="#a8a8a8" stroke-width="0.9"/>
<rect x="121.3" y="640.8" width="79" height="24.9" fill="#f27a4f" stroke="#a8a8a8" stroke-width="0.9"/>
<rect x="200.3" y="640.8" width="79" height="24.9" fill="#fbb97c" stroke="#a8a8a8" stroke-width="0.9"/>
<rect x="279.4" y="640.8" width="79" height="24.9" fill="#c0ddec" stroke="#a8a8a8" stroke-width="0.9"/>
<rect x="358.4" y="640.8" width="79" height="24.9" fill="#abcfe4" stroke="#a8a8a8" stroke-width="0.9"/>
<rect x="437.5" y="640.8" width="79" height="24.9" fill="#fdda90" stroke="#a8a8a8" stroke-width="0.9"/>
<rect x="516.5" y="640.8" width="79" height="24.9" fill="#bcdaea" stroke="#a8a8a8" stroke-width="0.9"/>
<rect x="121.3" y="665.8" width="79" height="24.9" fill="#e55a3d" stroke="#a8a8a8" stroke-width="0.9"/>
<rect x="200.3" y="665.8" width="79" height="24.9" fill="#f9a66b" stroke="#a8a8a8" stroke-width="0.9"/>
<rect x="279.4" y="665.8" width="79" height="24.9" fill="#e2f1f4" stroke="#a8a8a8" stroke-width="0.9"/>
<rect x="358.4" y="665.8" width="79" height="24.9" fill="#a3c9e0" stroke="#a8a8a8" stroke-width="0.9"/>
<rect x="437.5" y="665.8" width="79" height="24.9" fill="#e5f3ea" stroke="#a8a8a8" stroke-width="0.9"/>
<rect x="516.5" y="665.8" width="79" height="24.9" fill="#edf5e2" stroke="#a8a8a8" stroke-width="0.9"/>
<rect x="121.3" y="690.7" width="79" height="24.9" fill="#fab577" stroke="#a8a8a8" stroke-width="0.9"/>
<rect x="200.3" y="690.7" width="79" height="24.9" fill="#ee6a47" stroke="#a8a8a8" stroke-width="0.9"/>
<rect x="279.4" y="690.7" width="79" height="24.9" fill="#fefdc1" stroke="#a8a8a8" stroke-width="0.9"/>
<rect x="358.4" y="690.7" width="79" height="24.9" fill="#b4d5e8" stroke="#a8a8a8" stroke-width="0.9"/>
<rect x="437.5" y="690.7" width="79" height="24.9" fill="#88b5d6" stroke="#a8a8a8" stroke-width="0.9"/>
<rect x="516.5" y="690.7" width="79" height="24.9" fill="#fafac4" stroke="#a8a8a8" stroke-width="0.9"/>
<rect x="121.3" y="715.6" width="79" height="24.9" fill="#f88d59" stroke="#a8a8a8" stroke-width="0.9"/>
<rect x="200.3" y="715.6" width="79" height="24.9" fill="#fbc485" stroke="#a8a8a8" stroke-width="0.9"/>
<rect x="279.4" y="715.6" width="79" height="24.9" fill="#fdd991" stroke="#a8a8a8" stroke-width="0.9"/>
<rect x="358.4" y="715.6" width="79" height="24.9" fill="#eef7e3" stroke="#a8a8a8" stroke-width="0.9"/>
<rect x="437.5" y="715.6" width="79" height="24.9" fill="#97c2dc" stroke="#a8a8a8" stroke-width="0.9"/>
<rect x="516.5" y="715.6" width="79" height="24.9" fill="#9ec7df" stroke="#a8a8a8" stroke-width="0.9"/>
<rect x="121.3" y="740.6" width="79" height="24.9" fill="#e04533" stroke="#a8a8a8" stroke-width="0.9"/>
<rect x="200.3" y="740.6" width="79" height="24.9" fill="#fddf98" stroke="#a8a8a8" stroke-width="0.9"/>
<rect x="279.4" y="740.6" width="79" height="24.9" fill="#fcf9c3" stroke="#a8a8a8" stroke-width="0.9"/>
<rect x="358.4" y="740.6" width="79" height="24.9" fill="#f6f9d9" stroke="#a8a8a8" stroke-width="0.9"/>
<rect x="437.5" y="740.6" width="79" height="24.9" fill="#cce3ee" stroke="#a8a8a8" stroke-width="0.9"/>
<rect x="516.5" y="740.6" width="79" height="24.9" fill="#8fbbd9" stroke="#a8a8a8" stroke-width="0.9"/>
<rect x="121.3" y="433.6" width="79" height="5.6" fill="#fa8d86" stroke="#c8c8c8" stroke-width="0.6"/>
<rect x="200.3" y="433.6" width="79" height="5.6" fill="#fa8d86" stroke="#c8c8c8" stroke-width="0.6"/>
<rect x="279.4" y="433.6" width="79" height="5.6" fill="#fa8d86" stroke="#c8c8c8" stroke-width="0.6"/>
<rect x="358.4" y="433.6" width="79" height="5.6" fill="#00d5db" stroke="#c8c8c8" stroke-width="0.6"/>
<rect x="437.5" y="433.6" width="79" height="5.6" fill="#00d5db" stroke="#c8c8c8" stroke-width="0.6"/>
<rect x="516.5" y="433.6" width="79" height="5.6" fill="#00d5db" stroke="#c8c8c8" stroke-width="0.6"/>
<path d="M200.3 424.6V401.6H388.3V409.9M160.5 432.8V424.6H239.7V432.8M318.8 432.8V409.9H457.3V422.7M397.7 432.8V422.7H516.2V426.6M477.2 432.8V426.6H556V432.8" stroke="#444" stroke-width="1.1" fill="none"/>
<path d="M94 484.5H64.8V644.9H93M121.3 453.8H94V515.3H103.5M103.5 491V540.3M121.3 478.8H117.6V503.2H121.3M117.6 491H103.5M121.3 528.5H114.5V552.9H121.3M114.5 540.3H103.5M93 597.2V692.8M93 597.2H114.2M121.3 578.2H114.2V615.1H116.4M121.3 603.1H116.4V627.5H121.3M93 692.8H105.3M105.3 665.6V721.3M105.3 665.6H116.7M121.3 653.1H116.7V677.8H121.3M105.3 721.3H112.5M121.3 702.6H112.5V739.9H119.4M121.3 727.8H119.4V752.1H121.3" stroke="#444" stroke-width="1.1" fill="none"/>
<text x="602" y="441.4" font-size="14.3">Groups</text>
<text x="602" y="458.8" font-size="14.3">ADH7</text>
<text x="602" y="483.7" font-size="14.3">EN03</text>
<text x="602" y="508.7" font-size="14.3">EN02</text>
<text x="602" y="533.6" font-size="14.3">ALDH2</text>
<text x="602" y="558.6" font-size="14.3">ALDH5</text>
<text x="602" y="583.5" font-size="14.3">PKM</text>
<text x="602" y="608.5" font-size="14.3">ENO1</text>
<text x="602" y="633.4" font-size="14.3">LDHA</text>
<text x="602" y="658.4" font-size="14.3">GPI</text>
<text x="602" y="683.3" font-size="14.3">ALDOC</text>
<text x="602" y="708.3" font-size="14.3">PGAM1</text>
<text x="602" y="733.2" font-size="14.3">PGK1</text>
<text x="602" y="758.2" font-size="14.3">TPI1</text>
<text x="160.8" y="782.6" font-size="14.3" text-anchor="middle">N1</text>
<text x="239.8" y="782.6" font-size="14.3" text-anchor="middle">N2</text>
<text x="318.9" y="782.6" font-size="14.3" text-anchor="middle">N3</text>
<text x="397.9" y="782.6" font-size="14.3" text-anchor="middle">F1</text>
<text x="477" y="782.6" font-size="14.3" text-anchor="middle">F2</text>
<text x="556" y="782.6" font-size="14.3" text-anchor="middle">F3</text>
<defs><linearGradient id="gC" x1="0" y1="0" x2="0" y2="1"><stop offset="0" stop-color="#d73027"/><stop offset="0.17" stop-color="#f46d43"/><stop offset="0.33" stop-color="#fdae61"/><stop offset="0.5" stop-color="#ffffbf"/><stop offset="0.67" stop-color="#c6e0ee"/><stop offset="0.83" stop-color="#8cbbda"/><stop offset="1" stop-color="#4575b4"/></linearGradient></defs>
<rect x="667.2" y="432.9" width="10.8" height="88" fill="url(#gC)"/>
<text x="681.3" y="441" font-size="10.2">1.5</text>
<text x="681.3" y="453.7" font-size="10.2">1</text>
<text x="681.3" y="466.4" font-size="10.2">0.5</text>
<text x="681.3" y="479.1" font-size="10.2">0</text>
<text x="681.3" y="491.8" font-size="10.2">−0.5</text>
<text x="681.3" y="504.5" font-size="10.2">−1</text>
<text x="681.3" y="517.2" font-size="10.2">−1.5</text>
<text x="706.2" y="433.1" font-size="10.2">Groups</text>
<rect x="708.3" y="439.6" width="15.4" height="8.1" fill="#00d5db" stroke="#bbb" stroke-width="0.5"/>
<rect x="708.3" y="447.7" width="15.4" height="8.2" fill="#fa8d86" stroke="#bbb" stroke-width="0.5"/>
<text x="727.9" y="445.9" font-size="10.2">F</text>
<text x="727.9" y="456.5" font-size="10.2">N</text>
<text x="934.5" y="517.5" font-size="42" font-weight="bold">d</text>
<text x="1150.6" y="505.6" font-size="21.7" text-anchor="middle">CT26</text>
<rect x="1052.5" y="596.5" width="63" height="126.5" fill="#59a1fb" stroke="#0000ff" stroke-width="2.6" stroke-linejoin="round"/>
<rect x="1148.4" y="641" width="63" height="82" fill="#ff8a8a" stroke="#ff0000" stroke-width="2.6" stroke-linejoin="round"/>
<rect x="1244.4" y="674" width="62.6" height="49" fill="#a2f9a2" stroke="#00bb00" stroke-width="2.6" stroke-linejoin="round"/>
<line x1="1036.7" y1="529.4" x2="1036.7" y2="724" stroke="#000" stroke-width="2"/>
<line x1="1030.7" y1="723" x2="1036.7" y2="723" stroke="#000" stroke-width="2"/>
<text x="1024" y="730.6" font-size="21.2" text-anchor="end">0.0</text>
<line x1="1030.7" y1="658.5" x2="1036.7" y2="658.5" stroke="#000" stroke-width="2"/>
<text x="1024" y="666" font-size="21.2" text-anchor="end">0.5</text>
<line x1="1030.7" y1="593.9" x2="1036.7" y2="593.9" stroke="#000" stroke-width="2"/>
<text x="1024" y="601.5" font-size="21.2" text-anchor="end">1.0</text>
<line x1="1030.7" y1="529.4" x2="1036.7" y2="529.4" stroke="#000" stroke-width="2"/>
<text x="1024" y="536.9" font-size="21.2" text-anchor="end">1.5</text>
<line x1="1031" y1="723" x2="1324" y2="723" stroke="#000" stroke-width="2"/>
<line x1="1084.3" y1="723" x2="1084.3" y2="729" stroke="#000" stroke-width="2"/>
<line x1="1179.9" y1="723" x2="1179.9" y2="729" stroke="#000" stroke-width="2"/>
<line x1="1275.5" y1="723" x2="1275.5" y2="729" stroke="#000" stroke-width="2"/>
<line x1="1084.3" y1="587.4" x2="1084.3" y2="603.9" stroke="#0000ff" stroke-width="2.6"/>
<line x1="1069.3" y1="587.4" x2="1099.3" y2="587.4" stroke="#0000ff" stroke-width="2.6"/>
<line x1="1069.3" y1="603.9" x2="1099.3" y2="603.9" stroke="#0000ff" stroke-width="2.6"/>
<circle cx="1073.5" cy="594" r="4.5" fill="#0000ff"/>
<circle cx="1084.3" cy="607" r="4.5" fill="#0000ff"/>
<circle cx="1095.5" cy="587.4" r="4.5" fill="#0000ff"/>
<circle cx="1084.8" cy="594" r="4.5" fill="#0000ff"/>
<line x1="1179.9" y1="636" x2="1179.9" y2="645.5" stroke="#ff0000" stroke-width="2.6"/>
<line x1="1164.9" y1="636" x2="1194.9" y2="636" stroke="#ff0000" stroke-width="2.6"/>
<line x1="1164.9" y1="645.5" x2="1194.9" y2="645.5" stroke="#ff0000" stroke-width="2.6"/>
<rect x="1167" y="636" width="8" height="8" fill="#ff0000"/>
<rect x="1176" y="630" width="8" height="8" fill="#ff0000"/>
<rect x="1185" y="636" width="8" height="8" fill="#ff0000"/>
<rect x="1176" y="643" width="8" height="8" fill="#ff0000"/>
<line x1="1275.5" y1="669.5" x2="1275.5" y2="676" stroke="#00bb00" stroke-width="2.6"/>
<line x1="1260.5" y1="669.5" x2="1290.5" y2="669.5" stroke="#00bb00" stroke-width="2.6"/>
<line x1="1260.5" y1="676" x2="1290.5" y2="676" stroke="#00bb00" stroke-width="2.6"/>
<path d="M1258 675.6L1266 675.6L1262 668.4Z" fill="#00bb00"/>
<path d="M1266 681.6L1274 681.6L1270 674.4Z" fill="#00bb00"/>
<path d="M1286 673.6L1294 673.6L1290 666.4Z" fill="#00bb00"/>
<path d="M1277 676.6L1285 676.6L1281 669.4Z" fill="#00bb00"/>
<text x="1179.9" y="635" font-size="18" text-anchor="middle">**</text>
<text x="1275.5" y="668.5" font-size="18" text-anchor="middle">**</text>
<text transform="translate(953.5,627) rotate(-90)" font-size="20.8" text-anchor="middle">Relative fold of EDU</text>
<text transform="translate(978,628) rotate(-90)" font-size="20.5" text-anchor="middle">positive cells</text>
<circle cx="1219" cy="533.2" r="4" fill="#0000ff"/>
<text x="1230" y="539.2" font-size="16.4">Con</text>
<rect x="1215" y="552.3" width="8" height="8" fill="#ff0000"/>
<text x="1230" y="562.3" font-size="16.4">Fasting 24 h</text>
<path d="M1215 583.4L1223 583.4L1219 576.2Z" fill="#00bb00"/>
<text x="1230" y="585.8" font-size="16.4">Fasting 48 h</text>
<text transform="translate(1090,741) rotate(-45)" font-size="16.4" text-anchor="end">Con</text>
<text transform="translate(1186,743) rotate(-45)" font-size="16.4" text-anchor="end">Fasting 24 h</text>
<text transform="translate(1276,742) rotate(-45)" font-size="16.4" text-anchor="end">Fasting 48 h</text>
<text x="6" y="867" font-size="42" font-weight="bold">e</text>
<text x="231.6" y="860.7" font-size="21.7" text-anchor="middle">CT26</text>
<rect x="138" y="940.9" width="59.9" height="124.1" fill="#59a1fb" stroke="#0000ff" stroke-width="2.6" stroke-linejoin="round"/>
<rect x="230.2" y="1033.7" width="59.9" height="31.3" fill="#ffa4a4" stroke="#ff0000" stroke-width="2.6" stroke-linejoin="round"/>
<rect x="321.8" y="1050.6" width="60.2" height="14.4" fill="#a2f9a2" stroke="#00bb00" stroke-width="2.6" stroke-linejoin="round"/>
<line x1="122" y1="880.6" x2="122" y2="1066" stroke="#000" stroke-width="2"/>
<line x1="116" y1="1065" x2="122" y2="1065" stroke="#000" stroke-width="2"/>
<text x="109.3" y="1072.6" font-size="21.2" text-anchor="end">0.0</text>
<line x1="116" y1="1003.5" x2="122" y2="1003.5" stroke="#000" stroke-width="2"/>
<text x="109.3" y="1011.1" font-size="21.2" text-anchor="end">0.5</text>
<line x1="116" y1="942.1" x2="122" y2="942.1" stroke="#000" stroke-width="2"/>
<text x="109.3" y="949.7" font-size="21.2" text-anchor="end">1.0</text>
<line x1="116" y1="880.6" x2="122" y2="880.6" stroke="#000" stroke-width="2"/>
<text x="109.3" y="888.2" font-size="21.2" text-anchor="end">1.5</text>
<line x1="117" y1="1065" x2="399" y2="1065" stroke="#000" stroke-width="2"/>
<line x1="167.7" y1="1065" x2="167.7" y2="1071" stroke="#000" stroke-width="2"/>
<line x1="260" y1="1065" x2="260" y2="1071" stroke="#000" stroke-width="2"/>
<line x1="351.9" y1="1065" x2="351.9" y2="1071" stroke="#000" stroke-width="2"/>
<line x1="167.7" y1="932.5" x2="167.7" y2="946.8" stroke="#0000ff" stroke-width="2.6"/>
<line x1="152.7" y1="932.5" x2="182.7" y2="932.5" stroke="#0000ff" stroke-width="2.6"/>
<line x1="152.7" y1="946.8" x2="182.7" y2="946.8" stroke="#0000ff" stroke-width="2.6"/>
<circle cx="168" cy="929.5" r="4.3" fill="#0000ff"/>
<circle cx="158" cy="942" r="4.3" fill="#0000ff"/>
<circle cx="178" cy="942" r="4.3" fill="#0000ff"/>
<circle cx="168" cy="944" r="4.3" fill="#0000ff"/>
<line x1="260" y1="1023.7" x2="260" y2="1040.8" stroke="#ff0000" stroke-width="2.6"/>
<line x1="245" y1="1023.7" x2="275" y2="1023.7" stroke="#ff0000" stroke-width="2.6"/>
<line x1="245" y1="1040.8" x2="275" y2="1040.8" stroke="#ff0000" stroke-width="2.6"/>
<rect x="250" y="1018.7" width="8" height="8" fill="#ff0000"/>
<rect x="266" y="1025.5" width="8" height="8" fill="#ff0000"/>
<rect x="250" y="1040.2" width="8" height="8" fill="#ff0000"/>
<rect x="261" y="1030" width="8" height="8" fill="#ff0000"/>
<line x1="351.9" y1="1045.5" x2="351.9" y2="1053.4" stroke="#00bb00" stroke-width="2.6"/>
<line x1="336.9" y1="1045.5" x2="366.9" y2="1045.5" stroke="#00bb00" stroke-width="2.6"/>
<line x1="336.9" y1="1053.4" x2="366.9" y2="1053.4" stroke="#00bb00" stroke-width="2.6"/>
<path d="M335 1049.6L343 1049.6L339 1042.4Z" fill="#00bb00"/>
<path d="M360 1049.6L368 1049.6L364 1042.4Z" fill="#00bb00"/>
<path d="M343 1058.6L351 1058.6L347 1051.4Z" fill="#00bb00"/>
<text x="260" y="1020" font-size="16" text-anchor="middle">***</text>
<text x="351.9" y="1044" font-size="16" text-anchor="middle">***</text>
<text transform="translate(60.8,972.6) rotate(-90)" font-size="21" text-anchor="middle">Relative glucose uptake</text>
<circle cx="274.3" cy="919.5" r="4" fill="#0000ff"/>
<text x="286.3" y="924.5" font-size="14.2">Con</text>
<rect x="270.3" y="937" width="8" height="8" fill="#ff0000"/>
<text x="286.3" y="946" font-size="14.2">Fasting 24 h</text>
<path d="M270.3 965.8L278.3 965.8L274.3 958.6Z" fill="#00bb00"/>
<text x="286.3" y="967.2" font-size="14.2">Fasting 48 h</text>
<text transform="translate(172,1083) rotate(-45)" font-size="16.4" text-anchor="end">Con</text>
<text transform="translate(266,1084) rotate(-45)" font-size="16.4" text-anchor="end">Fasting 24 h</text>
<text transform="translate(356.5,1082) rotate(-45)" font-size="16.4" text-anchor="end">Fasting 48 h</text>
<text x="484.5" y="866" font-size="42" font-weight="bold">f</text>
<text x="718.1" y="860" font-size="21.7" text-anchor="middle">CT26</text>
<rect x="619" y="931.5" width="63.7" height="134.9" fill="#59a1fb" stroke="#0000ff" stroke-width="2.6" stroke-linejoin="round"/>
<rect x="716" y="1010" width="63.3" height="56.4" fill="#ffa4a4" stroke="#ff0000" stroke-width="2.6" stroke-linejoin="round"/>
<rect x="812.7" y="1039.7" width="63.3" height="26.7" fill="#a2f9a2" stroke="#00bb00" stroke-width="2.6" stroke-linejoin="round"/>
<line x1="602" y1="872.7" x2="602" y2="1067.4" stroke="#000" stroke-width="2"/>
<line x1="596" y1="1066.4" x2="602" y2="1066.4" stroke="#000" stroke-width="2"/>
<text x="589.3" y="1074" font-size="21.2" text-anchor="end">0.0</text>
<line x1="596" y1="1001.9" x2="602" y2="1001.9" stroke="#000" stroke-width="2"/>
<text x="589.3" y="1009.4" font-size="21.2" text-anchor="end">0.5</text>
<line x1="596" y1="937.3" x2="602" y2="937.3" stroke="#000" stroke-width="2"/>
<text x="589.3" y="944.9" font-size="21.2" text-anchor="end">1.0</text>
<line x1="596" y1="872.8" x2="602" y2="872.8" stroke="#000" stroke-width="2"/>
<text x="589.3" y="880.3" font-size="21.2" text-anchor="end">1.5</text>
<line x1="597" y1="1066.4" x2="893.4" y2="1066.4" stroke="#000" stroke-width="2"/>
<line x1="650.8" y1="1066.4" x2="650.8" y2="1072.4" stroke="#000" stroke-width="2"/>
<line x1="747.5" y1="1066.4" x2="747.5" y2="1072.4" stroke="#000" stroke-width="2"/>
<line x1="844.5" y1="1066.4" x2="844.5" y2="1072.4" stroke="#000" stroke-width="2"/>
<line x1="650.8" y1="921.5" x2="650.8" y2="940" stroke="#0000ff" stroke-width="2.6"/>
<line x1="635.8" y1="921.5" x2="665.8" y2="921.5" stroke="#0000ff" stroke-width="2.6"/>
<line x1="635.8" y1="940" x2="665.8" y2="940" stroke="#0000ff" stroke-width="2.6"/>
<circle cx="645" cy="921" r="4.3" fill="#0000ff"/>
<circle cx="656" cy="924" r="4.3" fill="#0000ff"/>
<circle cx="645" cy="940.5" r="4.3" fill="#0000ff"/>
<circle cx="656" cy="937" r="4.3" fill="#0000ff"/>
<line x1="747.5" y1="1005" x2="747.5" y2="1013" stroke="#ff0000" stroke-width="2.6"/>
<line x1="732.5" y1="1005" x2="762.5" y2="1005" stroke="#ff0000" stroke-width="2.6"/>
<line x1="732.5" y1="1013" x2="762.5" y2="1013" stroke="#ff0000" stroke-width="2.6"/>
<rect x="761" y="1001" width="8" height="8" fill="#ff0000"/>
<rect x="737" y="1007" width="8" height="8" fill="#ff0000"/>
<rect x="748" y="1012" width="8" height="8" fill="#ff0000"/>
<rect x="727" y="1005" width="8" height="8" fill="#ff0000"/>
<line x1="844.5" y1="1035.5" x2="844.5" y2="1041" stroke="#00bb00" stroke-width="2.6"/>
<line x1="829.5" y1="1035.5" x2="859.5" y2="1035.5" stroke="#00bb00" stroke-width="2.6"/>
<line x1="829.5" y1="1041" x2="859.5" y2="1041" stroke="#00bb00" stroke-width="2.6"/>
<path d="M822 1039.6L830 1039.6L826 1032.4Z" fill="#00bb00"/>
<path d="M856 1039.6L864 1039.6L860 1032.4Z" fill="#00bb00"/>
<path d="M833 1045.6L841 1045.6L837 1038.4Z" fill="#00bb00"/>
<path d="M846 1045.6L854 1045.6L850 1038.4Z" fill="#00bb00"/>
<text x="747.5" y="990.5" font-size="16" text-anchor="middle">**</text>
<text x="844.5" y="1034.5" font-size="16" text-anchor="middle">***</text>
<text transform="translate(541.3,970) rotate(-90)" font-size="21" text-anchor="middle">Relative lactate production</text>
<circle cx="792.6" cy="906.5" r="4" fill="#0000ff"/>
<text x="804.6" y="911.5" font-size="14.2">Con</text>
<rect x="788.6" y="925.1" width="8" height="8" fill="#ff0000"/>
<text x="804.6" y="934.1" font-size="14.2">Fasting 24h</text>
<path d="M788.1 955.6L797.1 955.6L792.6 947.6Z" fill="#00bb00"/>
<text x="804.6" y="956.6" font-size="14.2">Fasting 48h</text>
<text transform="translate(657,1084.5) rotate(-45)" font-size="16.4" text-anchor="end">Con</text>
<text transform="translate(752,1088) rotate(-45)" font-size="16.4" text-anchor="end">Fasting 24 h</text>
<text transform="translate(843,1085.5) rotate(-45)" font-size="16.4" text-anchor="end">Fasting 48 h</text>
<text x="999" y="869.5" font-size="42" font-weight="bold">g</text>
<text x="1071.2" y="900.3" font-size="21.7" text-anchor="middle">CT26</text>
<text transform="translate(1143,917) rotate(-45)" font-size="16.4">Con</text>
<text transform="translate(1203,918.5) rotate(-45)" font-size="16.4">Fasting 24h</text>
<text transform="translate(1278,918) rotate(-45)" font-size="16.4">Fasting 48h</text>
<defs><filter id="b1" filterUnits="userSpaceOnUse" x="1000" y="900" width="405" height="560"><feGaussianBlur stdDeviation="1.3"/></filter><filter id="b2" filterUnits="userSpaceOnUse" x="1000" y="900" width="405" height="560"><feGaussianBlur stdDeviation="2.5"/></filter><filter id="b4" filterUnits="userSpaceOnUse" x="1000" y="900" width="405" height="560"><feGaussianBlur stdDeviation="4"/></filter><clipPath id="cpg1"><rect x="1107" y="922.5" width="212.4" height="69.4"/></clipPath></defs>
<clipPath id="cb0"><rect x="1107" y="922.5" width="212.4" height="69.4"/></clipPath>
<rect x="1107" y="922.5" width="212.4" height="69.4" fill="#f3f3f3"/>
<text x="1095" y="961.4" font-size="20.5" text-anchor="end">PGK1</text>
<text x="1327.6" y="959" font-size="20.5">45 kDa</text>
<clipPath id="cb1"><rect x="1107" y="1006.8" width="212.4" height="69.2"/></clipPath>
<rect x="1107" y="1006.8" width="212.4" height="69.2" fill="#f3f3f3"/>
<text x="1095" y="1048.6" font-size="20.5" text-anchor="end">LDHA</text>
<text x="1327.6" y="1045" font-size="20.5">37 kDa</text>
<clipPath id="cb2"><rect x="1107" y="1094.2" width="212.4" height="70.6"/></clipPath>
<rect x="1107" y="1094.2" width="212.4" height="70.6" fill="#f3f3f3"/>
<text x="1095" y="1136" font-size="20.5" text-anchor="end">HK2</text>
<text x="1327.6" y="1133.2" font-size="20.5">102 kDa</text>
<clipPath id="cb3"><rect x="1107" y="1181" width="212.4" height="69.7"/></clipPath>
<rect x="1107" y="1181" width="212.4" height="69.7" fill="#dcdcdc"/>
<text x="1095" y="1222.7" font-size="20.5" text-anchor="end">GLUT1</text>
<text x="1327.6" y="1218.8" font-size="20.5">54 kDa</text>
<clipPath id="cb4"><rect x="1107" y="1266.7" width="212.4" height="70.3"/></clipPath>
<rect x="1107" y="1266.7" width="212.4" height="70.3" fill="#f3f3f3"/>
<text x="1095" y="1309" font-size="20.5" text-anchor="end">GPI</text>
<text x="1327.6" y="1305" font-size="20.5">63 kDa</text>
<clipPath id="cb5"><rect x="1107" y="1356.2" width="212.4" height="69.4"/></clipPath>
<rect x="1107" y="1356.2" width="212.4" height="69.4" fill="#f3f3f3"/>
<text x="1095" y="1396" font-size="20.5" text-anchor="end">Vinculin</text>
<text x="1327.6" y="1391.6" font-size="20.5">124 kDa</text>
<g clip-path="url(#cb0)"><path d="M1130 948C1140 958 1150 962 1170 961C1176 960 1178 953 1182 953C1188 956 1196 962 1210 962C1224 961 1232 953 1237 954C1244 960 1252 963 1264 962C1282 960 1294 956 1302 950" stroke="#cfcfcf" stroke-width="16" fill="none" stroke-linecap="round" filter="url(#b4)" opacity="0.7"/></g>
<g clip-path="url(#cb0)"><path d="M1130 948C1140 958 1150 962 1170 961C1176 960 1178 953 1182 953C1188 956 1196 962 1210 962C1224 961 1232 953 1237 954C1244 960 1252 963 1264 962C1282 960 1294 956 1302 950" stroke="#000" stroke-width="7.5" fill="none" stroke-linecap="round" filter="url(#b1)" opacity="1"/></g>
<g clip-path="url(#cb0)"><path d="M1130 948C1138 956 1146 960 1160 961" stroke="#000" stroke-width="11" fill="none" stroke-linecap="round" filter="url(#b1)" opacity="1"/></g>
<g clip-path="url(#cb1)"><path d="M1115 1041Q1143 1051 1171 1041" stroke="#bbb" stroke-width="16" fill="none" stroke-linecap="round" filter="url(#b4)" opacity="0.6"/></g>
<g clip-path="url(#cb1)"><path d="M1115 1041Q1143 1051 1171 1041" stroke="#0a0a0a" stroke-width="8" fill="none" stroke-linecap="round" filter="url(#b1)" opacity="1"/></g>
<g clip-path="url(#cb1)"><path d="M1125 1021Q1143 1025 1161 1021" stroke="#d0d0d0" stroke-width="5" fill="none" stroke-linecap="round" filter="url(#b2)" opacity="1"/></g>
<g clip-path="url(#cb1)"><path d="M1125 1066Q1143 1070 1161 1066" stroke="#cacaca" stroke-width="5" fill="none" stroke-linecap="round" filter="url(#b2)" opacity="1"/></g>
<g clip-path="url(#cb1)"><path d="M1188 1041Q1215 1051 1242 1041" stroke="#bbb" stroke-width="16" fill="none" stroke-linecap="round" filter="url(#b4)" opacity="0.6"/></g>
<g clip-path="url(#cb1)"><path d="M1188 1041Q1215 1051 1242 1041" stroke="#2a2a2a" stroke-width="8" fill="none" stroke-linecap="round" filter="url(#b1)" opacity="1"/></g>
<g clip-path="url(#cb1)"><path d="M1198 1021Q1215 1025 1232 1021" stroke="#d0d0d0" stroke-width="5" fill="none" stroke-linecap="round" filter="url(#b2)" opacity="1"/></g>
<g clip-path="url(#cb1)"><path d="M1198 1066Q1215 1070 1232 1066" stroke="#cacaca" stroke-width="5" fill="none" stroke-linecap="round" filter="url(#b2)" opacity="1"/></g>
<g clip-path="url(#cb1)"><path d="M1257 1041Q1284.5 1051 1312 1041" stroke="#bbb" stroke-width="15" fill="none" stroke-linecap="round" filter="url(#b4)" opacity="0.6"/></g>
<g clip-path="url(#cb1)"><path d="M1257 1041Q1284.5 1051 1312 1041" stroke="#4a4a4a" stroke-width="7" fill="none" stroke-linecap="round" filter="url(#b1)" opacity="1"/></g>
<g clip-path="url(#cb1)"><path d="M1267 1021Q1284.5 1025 1302 1021" stroke="#d0d0d0" stroke-width="5" fill="none" stroke-linecap="round" filter="url(#b2)" opacity="1"/></g>
<g clip-path="url(#cb1)"><path d="M1267 1066Q1284.5 1070 1302 1066" stroke="#cacaca" stroke-width="5" fill="none" stroke-linecap="round" filter="url(#b2)" opacity="1"/></g>
<g clip-path="url(#cb2)"><rect x="1120" y="1108" width="62" height="38" rx="12" fill="#555" filter="url(#b2)" opacity="0.6"/><rect x="1124" y="1112" width="54" height="30" rx="9" fill="#000" filter="url(#b1)"/></g>
<g clip-path="url(#cb2)"><ellipse cx="1217" cy="1127" rx="28" ry="14" fill="#9a9a9a" filter="url(#b2)" opacity="0.7"/></g>
<g clip-path="url(#cb2)"><path d="M1194 1120Q1217 1117 1240 1120" stroke="#686868" stroke-width="6" fill="none" stroke-linecap="round" filter="url(#b1)" opacity="1"/></g>
<g clip-path="url(#cb2)"><path d="M1194 1134Q1217 1137 1240 1134" stroke="#454545" stroke-width="7" fill="none" stroke-linecap="round" filter="url(#b1)" opacity="1"/></g>
<g clip-path="url(#cb2)"><ellipse cx="1283" cy="1129" rx="24" ry="10" fill="#a6a6a6" filter="url(#b2)" opacity="1"/></g>
<g clip-path="url(#cb3)"><rect x="1180" y="1181" width="7" height="70" fill="#ececec" filter="url(#b2)"/><rect x="1244" y="1181" width="7" height="70" fill="#f2f2f2" filter="url(#b2)"/><rect x="1104" y="1181" width="14" height="70" fill="#eaeaea" filter="url(#b2)"/><rect x="1308" y="1181" width="14" height="70" fill="#e8e8e8" filter="url(#b2)"/><rect x="1107" y="1182.5" width="212" height="3" fill="#1a1a1a" filter="url(#b1)"/></g>
<g clip-path="url(#cb3)"><path d="M1128 1200Q1152 1204 1176 1201" stroke="#3a3a3a" stroke-width="11" fill="none" stroke-linecap="round" filter="url(#b2)" opacity="1"/></g>
<g clip-path="url(#cb3)"><path d="M1128 1228Q1152 1231 1176 1228" stroke="#1c1c1c" stroke-width="13" fill="none" stroke-linecap="round" filter="url(#b1)" opacity="1"/></g>
<g clip-path="url(#cb3)"><ellipse cx="1134" cy="1229" rx="9" ry="9" fill="#000" filter="url(#b1)" opacity="1"/></g>
<g clip-path="url(#cb3)"><path d="M1192 1200Q1215 1203 1238 1200" stroke="#666" stroke-width="10" fill="none" stroke-linecap="round" filter="url(#b2)" opacity="1"/></g>
<g clip-path="url(#cb3)"><path d="M1192 1230Q1215 1233 1238 1230" stroke="#4a4a4a" stroke-width="9" fill="none" stroke-linecap="round" filter="url(#b2)" opacity="1"/></g>
<g clip-path="url(#cb3)"><path d="M1260 1200Q1282 1203 1304 1200" stroke="#747474" stroke-width="10" fill="none" stroke-linecap="round" filter="url(#b2)" opacity="1"/></g>
<g clip-path="url(#cb3)"><path d="M1260 1230Q1282 1233 1304 1230" stroke="#4e4e4e" stroke-width="8" fill="none" stroke-linecap="round" filter="url(#b2)" opacity="1"/></g>
<circle cx="1158" cy="1247" r="2" fill="#000"/>
<g clip-path="url(#cb4)"><path d="M1126 1285Q1150 1282 1172 1285" stroke="#4a4a4a" stroke-width="6" fill="none" stroke-linecap="round" filter="url(#b1)" opacity="1"/></g>
<g clip-path="url(#cb4)"><path d="M1126 1297Q1150 1295 1172 1297" stroke="#a8a8a8" stroke-width="6" fill="none" stroke-linecap="round" filter="url(#b2)" opacity="1"/></g>
<g clip-path="url(#cb4)"><path d="M1126 1306Q1150 1304 1172 1306" stroke="#b4b4b4" stroke-width="5" fill="none" stroke-linecap="round" filter="url(#b2)" opacity="1"/></g>
<g clip-path="url(#cb4)"><path d="M1124 1316Q1130 1321 1150 1319Q1165 1319 1172 1316" stroke="#0e0e0e" stroke-width="8" fill="none" stroke-linecap="round" filter="url(#b1)" opacity="1"/></g>
<g clip-path="url(#cb4)"><path d="M1194 1287Q1212 1291 1232 1285" stroke="#6a6a6a" stroke-width="5.5" fill="none" stroke-linecap="round" filter="url(#b1)" opacity="1"/></g>
<g clip-path="url(#cb4)"><path d="M1198 1295Q1212 1297 1228 1294" stroke="#bdbdbd" stroke-width="4" fill="none" stroke-linecap="round" filter="url(#b1)" opacity="1"/></g>
<g clip-path="url(#cb4)"><path d="M1256 1288Q1280 1284 1300 1286" stroke="#3a3a3a" stroke-width="6.5" fill="none" stroke-linecap="round" filter="url(#b1)" opacity="1"/></g>
<g clip-path="url(#cb4)"><path d="M1258 1318Q1280 1314 1298 1316" stroke="#a4a4a4" stroke-width="5" fill="none" stroke-linecap="round" filter="url(#b1)" opacity="1"/></g>
<g clip-path="url(#cb5)"><ellipse cx="1142" cy="1391" rx="30" ry="22" fill="#dedede" filter="url(#b4)" opacity="1"/></g>
<g clip-path="url(#cb5)"><ellipse cx="1208" cy="1391" rx="30" ry="22" fill="#dedede" filter="url(#b4)" opacity="1"/></g>
<g clip-path="url(#cb5)"><ellipse cx="1276" cy="1391" rx="30" ry="22" fill="#dedede" filter="url(#b4)" opacity="1"/></g>
<g clip-path="url(#cb5)"><path d="M1118 1386Q1142.5 1390 1167 1386" stroke="#1e1e1e" stroke-width="5.5" fill="none" stroke-linecap="round" filter="url(#b1)" opacity="1"/></g>
<g clip-path="url(#cb5)"><path d="M1184 1386Q1209 1390 1234 1386" stroke="#161616" stroke-width="5.5" fill="none" stroke-linecap="round" filter="url(#b1)" opacity="1"/></g>
<g clip-path="url(#cb5)"><path d="M1251 1386Q1278 1390 1305 1386" stroke="#1e1e1e" stroke-width="5.5" fill="none" stroke-linecap="round" filter="url(#b1)" opacity="1"/></g>
<rect x="1107" y="922.5" width="212.4" height="69.4" fill="none" stroke="#8c8c8c" stroke-width="1"/>
<rect x="1107" y="1006.8" width="212.4" height="69.2" fill="none" stroke="#8c8c8c" stroke-width="1"/>
<rect x="1107" y="1094.2" width="212.4" height="70.6" fill="none" stroke="#8c8c8c" stroke-width="1"/>
<rect x="1107" y="1181" width="212.4" height="69.7" fill="none" stroke="#8c8c8c" stroke-width="1"/>
<rect x="1107" y="1266.7" width="212.4" height="70.3" fill="none" stroke="#8c8c8c" stroke-width="1"/>
<rect x="1107" y="1356.2" width="212.4" height="69.4" fill="none" stroke="#8c8c8c" stroke-width="1"/>
<text x="6" y="1194" font-size="42" font-weight="bold">h</text>
<text x="246.7" y="1208.6" font-size="21.7" text-anchor="middle">CT26</text>
<line x1="89.9" y1="1257.1" x2="89.9" y2="1464.1" stroke="#000" stroke-width="2"/>
<line x1="83.9" y1="1463.1" x2="89.9" y2="1463.1" stroke="#000" stroke-width="2"/>
<text x="77.2" y="1470.7" font-size="21.2" text-anchor="end">0</text>
<line x1="83.9" y1="1411.6" x2="89.9" y2="1411.6" stroke="#000" stroke-width="2"/>
<text x="77.2" y="1419.2" font-size="21.2" text-anchor="end">20</text>
<line x1="83.9" y1="1360.1" x2="89.9" y2="1360.1" stroke="#000" stroke-width="2"/>
<text x="77.2" y="1367.7" font-size="21.2" text-anchor="end">40</text>
<line x1="83.9" y1="1308.6" x2="89.9" y2="1308.6" stroke="#000" stroke-width="2"/>
<text x="77.2" y="1316.2" font-size="21.2" text-anchor="end">60</text>
<line x1="83.9" y1="1257.1" x2="89.9" y2="1257.1" stroke="#000" stroke-width="2"/>
<text x="77.2" y="1264.7" font-size="21.2" text-anchor="end">80</text>
<line x1="88.9" y1="1463.1" x2="403" y2="1463.1" stroke="#000" stroke-width="2"/>
<line x1="89.9" y1="1463.1" x2="89.9" y2="1469.5" stroke="#000" stroke-width="2"/>
<text x="89.9" y="1491.8" font-size="20.5" text-anchor="middle">0</text>
<line x1="167.9" y1="1463.1" x2="167.9" y2="1469.5" stroke="#000" stroke-width="2"/>
<text x="167.9" y="1491.8" font-size="20.5" text-anchor="middle">20</text>
<line x1="246" y1="1463.1" x2="246" y2="1469.5" stroke="#000" stroke-width="2"/>
<text x="246" y="1491.8" font-size="20.5" text-anchor="middle">40</text>
<line x1="324" y1="1463.1" x2="324" y2="1469.5" stroke="#000" stroke-width="2"/>
<text x="324" y="1491.8" font-size="20.5" text-anchor="middle">60</text>
<line x1="402.1" y1="1463.1" x2="402.1" y2="1469.5" stroke="#000" stroke-width="2"/>
<text x="402.1" y="1491.8" font-size="20.5" text-anchor="middle">80</text>
<text x="246" y="1523.6" font-size="20.5" text-anchor="middle">Time (min)</text>
<text transform="translate(33,1361) rotate(-90)" font-size="20.9" text-anchor="middle">ECAR (mpH/min/10<tspan font-size="13" dy="-8">5</tspan><tspan dy="8"> cells)</tspan></text>
<path d="M95 1405.7L121.1 1414.9L146.9 1416.8L173.4 1344.1L199.2 1351.1L224.5 1354.4L251.1 1275.9L276.8 1297L302.2 1303.2L329.1 1434.8L355.3 1431.4L380.2 1432.5" stroke="#0000ff" stroke-width="2.4" fill="none"/>
<line x1="95" y1="1398" x2="95" y2="1413.4" stroke="#0000ff" stroke-width="2"/>
<line x1="91.5" y1="1398" x2="98.5" y2="1398" stroke="#0000ff" stroke-width="2"/>
<line x1="91.5" y1="1413.4" x2="98.5" y2="1413.4" stroke="#0000ff" stroke-width="2"/>
<circle cx="95" cy="1405.7" r="4" fill="#0000ff"/>
<line x1="121.1" y1="1407.2" x2="121.1" y2="1422.7" stroke="#0000ff" stroke-width="2"/>
<line x1="117.6" y1="1407.2" x2="124.6" y2="1407.2" stroke="#0000ff" stroke-width="2"/>
<line x1="117.6" y1="1422.7" x2="124.6" y2="1422.7" stroke="#0000ff" stroke-width="2"/>
<circle cx="121.1" cy="1414.9" r="4" fill="#0000ff"/>
<line x1="146.9" y1="1409" x2="146.9" y2="1424.5" stroke="#0000ff" stroke-width="2"/>
<line x1="143.4" y1="1409" x2="150.4" y2="1409" stroke="#0000ff" stroke-width="2"/>
<line x1="143.4" y1="1424.5" x2="150.4" y2="1424.5" stroke="#0000ff" stroke-width="2"/>
<circle cx="146.9" cy="1416.8" r="4" fill="#0000ff"/>
<line x1="173.4" y1="1336.4" x2="173.4" y2="1351.9" stroke="#0000ff" stroke-width="2"/>
<line x1="169.9" y1="1336.4" x2="176.9" y2="1336.4" stroke="#0000ff" stroke-width="2"/>
<line x1="169.9" y1="1351.9" x2="176.9" y2="1351.9" stroke="#0000ff" stroke-width="2"/>
<circle cx="173.4" cy="1344.1" r="4" fill="#0000ff"/>
<line x1="199.2" y1="1343.4" x2="199.2" y2="1358.8" stroke="#0000ff" stroke-width="2"/>
<line x1="195.7" y1="1343.4" x2="202.7" y2="1343.4" stroke="#0000ff" stroke-width="2"/>
<line x1="195.7" y1="1358.8" x2="202.7" y2="1358.8" stroke="#0000ff" stroke-width="2"/>
<circle cx="199.2" cy="1351.1" r="4" fill="#0000ff"/>
<line x1="224.5" y1="1348" x2="224.5" y2="1360.9" stroke="#0000ff" stroke-width="2"/>
<line x1="221" y1="1348" x2="228" y2="1348" stroke="#0000ff" stroke-width="2"/>
<line x1="221" y1="1360.9" x2="228" y2="1360.9" stroke="#0000ff" stroke-width="2"/>
<circle cx="224.5" cy="1354.4" r="4" fill="#0000ff"/>
<line x1="251.1" y1="1268.2" x2="251.1" y2="1283.6" stroke="#0000ff" stroke-width="2"/>
<line x1="247.6" y1="1268.2" x2="254.6" y2="1268.2" stroke="#0000ff" stroke-width="2"/>
<line x1="247.6" y1="1283.6" x2="254.6" y2="1283.6" stroke="#0000ff" stroke-width="2"/>
<circle cx="251.1" cy="1275.9" r="4" fill="#0000ff"/>
<line x1="276.8" y1="1290.6" x2="276.8" y2="1303.4" stroke="#0000ff" stroke-width="2"/>
<line x1="273.3" y1="1290.6" x2="280.3" y2="1290.6" stroke="#0000ff" stroke-width="2"/>
<line x1="273.3" y1="1303.4" x2="280.3" y2="1303.4" stroke="#0000ff" stroke-width="2"/>
<circle cx="276.8" cy="1297" r="4" fill="#0000ff"/>
<line x1="302.2" y1="1296.8" x2="302.2" y2="1309.6" stroke="#0000ff" stroke-width="2"/>
<line x1="298.7" y1="1296.8" x2="305.7" y2="1296.8" stroke="#0000ff" stroke-width="2"/>
<line x1="298.7" y1="1309.6" x2="305.7" y2="1309.6" stroke="#0000ff" stroke-width="2"/>
<circle cx="302.2" cy="1303.2" r="4" fill="#0000ff"/>
<line x1="329.1" y1="1427" x2="329.1" y2="1442.5" stroke="#0000ff" stroke-width="2"/>
<line x1="325.6" y1="1427" x2="332.6" y2="1427" stroke="#0000ff" stroke-width="2"/>
<line x1="325.6" y1="1442.5" x2="332.6" y2="1442.5" stroke="#0000ff" stroke-width="2"/>
<circle cx="329.1" cy="1434.8" r="4" fill="#0000ff"/>
<line x1="355.3" y1="1423.7" x2="355.3" y2="1439.2" stroke="#0000ff" stroke-width="2"/>
<line x1="351.8" y1="1423.7" x2="358.8" y2="1423.7" stroke="#0000ff" stroke-width="2"/>
<line x1="351.8" y1="1439.2" x2="358.8" y2="1439.2" stroke="#0000ff" stroke-width="2"/>
<circle cx="355.3" cy="1431.4" r="4" fill="#0000ff"/>
<line x1="380.2" y1="1424.7" x2="380.2" y2="1440.2" stroke="#0000ff" stroke-width="2"/>
<line x1="376.7" y1="1424.7" x2="383.7" y2="1424.7" stroke="#0000ff" stroke-width="2"/>
<line x1="376.7" y1="1440.2" x2="383.7" y2="1440.2" stroke="#0000ff" stroke-width="2"/>
<circle cx="380.2" cy="1432.5" r="4" fill="#0000ff"/>
<path d="M95 1402.3L121.1 1415.2L146.9 1413.7L173.4 1385.8L199.2 1388.7L224.5 1387.4L251.1 1326.1L276.8 1332.3L302.2 1345.4L329.1 1434L355.3 1434L380.2 1435.8" stroke="#ff0000" stroke-width="2.4" fill="none"/>
<line x1="95" y1="1393.3" x2="95" y2="1411.3" stroke="#ff0000" stroke-width="2"/>
<line x1="91.5" y1="1393.3" x2="98.5" y2="1393.3" stroke="#ff0000" stroke-width="2"/>
<line x1="91.5" y1="1411.3" x2="98.5" y2="1411.3" stroke="#ff0000" stroke-width="2"/>
<rect x="91" y="1398.3" width="8" height="8" fill="#ff0000"/>
<line x1="121.1" y1="1407.5" x2="121.1" y2="1422.9" stroke="#ff0000" stroke-width="2"/>
<line x1="117.6" y1="1407.5" x2="124.6" y2="1407.5" stroke="#ff0000" stroke-width="2"/>
<line x1="117.6" y1="1422.9" x2="124.6" y2="1422.9" stroke="#ff0000" stroke-width="2"/>
<rect x="117.1" y="1411.2" width="8" height="8" fill="#ff0000"/>
<line x1="146.9" y1="1407.2" x2="146.9" y2="1420.1" stroke="#ff0000" stroke-width="2"/>
<line x1="143.4" y1="1407.2" x2="150.4" y2="1407.2" stroke="#ff0000" stroke-width="2"/>
<line x1="143.4" y1="1420.1" x2="150.4" y2="1420.1" stroke="#ff0000" stroke-width="2"/>
<rect x="142.9" y="1409.7" width="8" height="8" fill="#ff0000"/>
<line x1="173.4" y1="1379.4" x2="173.4" y2="1392.3" stroke="#ff0000" stroke-width="2"/>
<line x1="169.9" y1="1379.4" x2="176.9" y2="1379.4" stroke="#ff0000" stroke-width="2"/>
<line x1="169.9" y1="1392.3" x2="176.9" y2="1392.3" stroke="#ff0000" stroke-width="2"/>
<rect x="169.4" y="1381.8" width="8" height="8" fill="#ff0000"/>
<line x1="199.2" y1="1382.2" x2="199.2" y2="1395.1" stroke="#ff0000" stroke-width="2"/>
<line x1="195.7" y1="1382.2" x2="202.7" y2="1382.2" stroke="#ff0000" stroke-width="2"/>
<line x1="195.7" y1="1395.1" x2="202.7" y2="1395.1" stroke="#ff0000" stroke-width="2"/>
<rect x="195.2" y="1384.7" width="8" height="8" fill="#ff0000"/>
<line x1="224.5" y1="1383.5" x2="224.5" y2="1391.3" stroke="#ff0000" stroke-width="2"/>
<line x1="221" y1="1383.5" x2="228" y2="1383.5" stroke="#ff0000" stroke-width="2"/>
<line x1="221" y1="1391.3" x2="228" y2="1391.3" stroke="#ff0000" stroke-width="2"/>
<rect x="220.5" y="1383.4" width="8" height="8" fill="#ff0000"/>
<line x1="251.1" y1="1318.4" x2="251.1" y2="1333.8" stroke="#ff0000" stroke-width="2"/>
<line x1="247.6" y1="1318.4" x2="254.6" y2="1318.4" stroke="#ff0000" stroke-width="2"/>
<line x1="247.6" y1="1333.8" x2="254.6" y2="1333.8" stroke="#ff0000" stroke-width="2"/>
<rect x="247.1" y="1322.1" width="8" height="8" fill="#ff0000"/>
<line x1="276.8" y1="1325.9" x2="276.8" y2="1338.7" stroke="#ff0000" stroke-width="2"/>
<line x1="273.3" y1="1325.9" x2="280.3" y2="1325.9" stroke="#ff0000" stroke-width="2"/>
<line x1="273.3" y1="1338.7" x2="280.3" y2="1338.7" stroke="#ff0000" stroke-width="2"/>
<rect x="272.8" y="1328.3" width="8" height="8" fill="#ff0000"/>
<line x1="302.2" y1="1340.3" x2="302.2" y2="1350.6" stroke="#ff0000" stroke-width="2"/>
<line x1="298.7" y1="1340.3" x2="305.7" y2="1340.3" stroke="#ff0000" stroke-width="2"/>
<line x1="298.7" y1="1350.6" x2="305.7" y2="1350.6" stroke="#ff0000" stroke-width="2"/>
<rect x="298.2" y="1341.4" width="8" height="8" fill="#ff0000"/>
<line x1="329.1" y1="1427.6" x2="329.1" y2="1440.4" stroke="#ff0000" stroke-width="2"/>
<line x1="325.6" y1="1427.6" x2="332.6" y2="1427.6" stroke="#ff0000" stroke-width="2"/>
<line x1="325.6" y1="1440.4" x2="332.6" y2="1440.4" stroke="#ff0000" stroke-width="2"/>
<rect x="325.1" y="1430" width="8" height="8" fill="#ff0000"/>
<line x1="355.3" y1="1427.6" x2="355.3" y2="1440.4" stroke="#ff0000" stroke-width="2"/>
<line x1="351.8" y1="1427.6" x2="358.8" y2="1427.6" stroke="#ff0000" stroke-width="2"/>
<line x1="351.8" y1="1440.4" x2="358.8" y2="1440.4" stroke="#ff0000" stroke-width="2"/>
<rect x="351.3" y="1430" width="8" height="8" fill="#ff0000"/>
<line x1="380.2" y1="1429.4" x2="380.2" y2="1442.2" stroke="#ff0000" stroke-width="2"/>
<line x1="376.7" y1="1429.4" x2="383.7" y2="1429.4" stroke="#ff0000" stroke-width="2"/>
<line x1="376.7" y1="1442.2" x2="383.7" y2="1442.2" stroke="#ff0000" stroke-width="2"/>
<rect x="376.2" y="1431.8" width="8" height="8" fill="#ff0000"/>
<path d="M95 1409.8L121.1 1420.4L146.9 1419.3L173.4 1412.6L199.2 1413.7L224.5 1415.2L251.1 1393.8L276.8 1393.8L302.2 1399L329.1 1443.3L355.3 1441.7L380.2 1442.2" stroke="#00bb00" stroke-width="2.4" fill="none"/>
<line x1="95" y1="1404.6" x2="95" y2="1414.9" stroke="#00bb00" stroke-width="2"/>
<line x1="91.5" y1="1404.6" x2="98.5" y2="1404.6" stroke="#00bb00" stroke-width="2"/>
<line x1="91.5" y1="1414.9" x2="98.5" y2="1414.9" stroke="#00bb00" stroke-width="2"/>
<path d="M90.5 1413.8L99.5 1413.8L95 1405.7Z" fill="#00bb00"/>
<line x1="121.1" y1="1416.5" x2="121.1" y2="1424.2" stroke="#00bb00" stroke-width="2"/>
<line x1="117.6" y1="1416.5" x2="124.6" y2="1416.5" stroke="#00bb00" stroke-width="2"/>
<line x1="117.6" y1="1424.2" x2="124.6" y2="1424.2" stroke="#00bb00" stroke-width="2"/>
<path d="M116.6 1424.4L125.6 1424.4L121.1 1416.3Z" fill="#00bb00"/>
<line x1="146.9" y1="1415.5" x2="146.9" y2="1423.2" stroke="#00bb00" stroke-width="2"/>
<line x1="143.4" y1="1415.5" x2="150.4" y2="1415.5" stroke="#00bb00" stroke-width="2"/>
<line x1="143.4" y1="1423.2" x2="150.4" y2="1423.2" stroke="#00bb00" stroke-width="2"/>
<path d="M142.4 1423.4L151.4 1423.4L146.9 1415.3Z" fill="#00bb00"/>
<line x1="173.4" y1="1406.2" x2="173.4" y2="1419.1" stroke="#00bb00" stroke-width="2"/>
<line x1="169.9" y1="1406.2" x2="176.9" y2="1406.2" stroke="#00bb00" stroke-width="2"/>
<line x1="169.9" y1="1419.1" x2="176.9" y2="1419.1" stroke="#00bb00" stroke-width="2"/>
<path d="M168.9 1416.7L177.9 1416.7L173.4 1408.6Z" fill="#00bb00"/>
<line x1="199.2" y1="1407.2" x2="199.2" y2="1420.1" stroke="#00bb00" stroke-width="2"/>
<line x1="195.7" y1="1407.2" x2="202.7" y2="1407.2" stroke="#00bb00" stroke-width="2"/>
<line x1="195.7" y1="1420.1" x2="202.7" y2="1420.1" stroke="#00bb00" stroke-width="2"/>
<path d="M194.7 1417.7L203.7 1417.7L199.2 1409.6Z" fill="#00bb00"/>
<line x1="224.5" y1="1408.8" x2="224.5" y2="1421.6" stroke="#00bb00" stroke-width="2"/>
<line x1="221" y1="1408.8" x2="228" y2="1408.8" stroke="#00bb00" stroke-width="2"/>
<line x1="221" y1="1421.6" x2="228" y2="1421.6" stroke="#00bb00" stroke-width="2"/>
<path d="M220 1419.3L229 1419.3L224.5 1411.2Z" fill="#00bb00"/>
<line x1="251.1" y1="1387.4" x2="251.1" y2="1400.3" stroke="#00bb00" stroke-width="2"/>
<line x1="247.6" y1="1387.4" x2="254.6" y2="1387.4" stroke="#00bb00" stroke-width="2"/>
<line x1="247.6" y1="1400.3" x2="254.6" y2="1400.3" stroke="#00bb00" stroke-width="2"/>
<path d="M246.6 1397.9L255.6 1397.9L251.1 1389.8Z" fill="#00bb00"/>
<line x1="276.8" y1="1388.7" x2="276.8" y2="1399" stroke="#00bb00" stroke-width="2"/>
<line x1="273.3" y1="1388.7" x2="280.3" y2="1388.7" stroke="#00bb00" stroke-width="2"/>
<line x1="273.3" y1="1399" x2="280.3" y2="1399" stroke="#00bb00" stroke-width="2"/>
<path d="M272.3 1397.9L281.3 1397.9L276.8 1389.8Z" fill="#00bb00"/>
<line x1="302.2" y1="1393.8" x2="302.2" y2="1404.1" stroke="#00bb00" stroke-width="2"/>
<line x1="298.7" y1="1393.8" x2="305.7" y2="1393.8" stroke="#00bb00" stroke-width="2"/>
<line x1="298.7" y1="1404.1" x2="305.7" y2="1404.1" stroke="#00bb00" stroke-width="2"/>
<path d="M297.7 1403L306.7 1403L302.2 1394.9Z" fill="#00bb00"/>
<line x1="329.1" y1="1440.2" x2="329.1" y2="1446.4" stroke="#00bb00" stroke-width="2"/>
<line x1="325.6" y1="1440.2" x2="332.6" y2="1440.2" stroke="#00bb00" stroke-width="2"/>
<line x1="325.6" y1="1446.4" x2="332.6" y2="1446.4" stroke="#00bb00" stroke-width="2"/>
<path d="M324.6 1447.3L333.6 1447.3L329.1 1439.2Z" fill="#00bb00"/>
<line x1="355.3" y1="1438.6" x2="355.3" y2="1444.8" stroke="#00bb00" stroke-width="2"/>
<line x1="351.8" y1="1438.6" x2="358.8" y2="1438.6" stroke="#00bb00" stroke-width="2"/>
<line x1="351.8" y1="1444.8" x2="358.8" y2="1444.8" stroke="#00bb00" stroke-width="2"/>
<path d="M350.8 1445.8L359.8 1445.8L355.3 1437.7Z" fill="#00bb00"/>
<line x1="380.2" y1="1439.2" x2="380.2" y2="1445.3" stroke="#00bb00" stroke-width="2"/>
<line x1="376.7" y1="1439.2" x2="383.7" y2="1439.2" stroke="#00bb00" stroke-width="2"/>
<line x1="376.7" y1="1445.3" x2="383.7" y2="1445.3" stroke="#00bb00" stroke-width="2"/>
<path d="M375.7 1446.3L384.7 1446.3L380.2 1438.2Z" fill="#00bb00"/>
<text x="151.3" y="1316.9" font-size="11" text-anchor="middle">Glucose</text>
<line x1="147.6" y1="1326.5" x2="147.6" y2="1357" stroke="#000" stroke-width="1.6"/>
<path d="M143.1 1354L152.1 1354L147.6 1363Z" fill="#000"/>
<text x="219.3" y="1265.7" font-size="11" text-anchor="middle">Olycomycin</text>
<line x1="219.7" y1="1270" x2="219.7" y2="1302.4" stroke="#000" stroke-width="1.6"/>
<path d="M215.2 1299.4L224.2 1299.4L219.7 1308.4Z" fill="#000"/>
<text x="306.5" y="1252.7" font-size="11" text-anchor="middle">2-DG</text>
<line x1="306.1" y1="1257" x2="306.1" y2="1275" stroke="#000" stroke-width="1.6"/>
<path d="M301.6 1272L310.6 1272L306.1 1281Z" fill="#000"/>
<line x1="341.6" y1="1294" x2="362.1" y2="1294" stroke="#0000ff" stroke-width="2.4"/>
<circle cx="351.9" cy="1294" r="4" fill="#0000ff"/>
<text x="372.4" y="1299.2" font-size="14.3">Control</text>
<line x1="341.6" y1="1326.1" x2="362.1" y2="1326.1" stroke="#ff0000" stroke-width="2.4"/>
<rect x="347.9" y="1322.1" width="8" height="8" fill="#ff0000"/>
<text x="372.4" y="1331.3" font-size="14.3">Fasting 24 h</text>
<line x1="341.6" y1="1357.9" x2="362.1" y2="1357.9" stroke="#00bb00" stroke-width="2.4"/>
<path d="M347.9 1361.5L355.9 1361.5L351.9 1354.3Z" fill="#00bb00"/>
<text x="372.4" y="1363.1" font-size="14.3">Fasting 48 h</text>
<text x="486" y="1193.6" font-size="42" font-weight="bold">i</text>
<text x="746" y="1208.1" font-size="21.7" text-anchor="middle">CT26</text>
<line x1="578" y1="1239.7" x2="578" y2="1463.2" stroke="#000" stroke-width="2"/>
<line x1="572" y1="1462.2" x2="578" y2="1462.2" stroke="#000" stroke-width="2"/>
<text x="565.3" y="1469.8" font-size="21.2" text-anchor="end">0</text>
<line x1="572" y1="1388" x2="578" y2="1388" stroke="#000" stroke-width="2"/>
<text x="565.3" y="1395.6" font-size="21.2" text-anchor="end">50</text>
<line x1="572" y1="1313.8" x2="578" y2="1313.8" stroke="#000" stroke-width="2"/>
<text x="565.3" y="1321.4" font-size="21.2" text-anchor="end">100</text>
<line x1="572" y1="1239.6" x2="578" y2="1239.6" stroke="#000" stroke-width="2"/>
<text x="565.3" y="1247.2" font-size="21.2" text-anchor="end">150</text>
<line x1="577" y1="1462.2" x2="913" y2="1462.2" stroke="#000" stroke-width="2"/>
<line x1="578" y1="1462.2" x2="578" y2="1468.6" stroke="#000" stroke-width="2"/>
<text x="578" y="1491.2" font-size="20.5" text-anchor="middle">0</text>
<line x1="661.5" y1="1462.2" x2="661.5" y2="1468.6" stroke="#000" stroke-width="2"/>
<text x="661.5" y="1491.2" font-size="20.5" text-anchor="middle">20</text>
<line x1="745" y1="1462.2" x2="745" y2="1468.6" stroke="#000" stroke-width="2"/>
<text x="745" y="1491.2" font-size="20.5" text-anchor="middle">40</text>
<line x1="828.5" y1="1462.2" x2="828.5" y2="1468.6" stroke="#000" stroke-width="2"/>
<text x="828.5" y="1491.2" font-size="20.5" text-anchor="middle">60</text>
<line x1="912" y1="1462.2" x2="912" y2="1468.6" stroke="#000" stroke-width="2"/>
<text x="912" y="1491.2" font-size="20.5" text-anchor="middle">80</text>
<text x="745" y="1523.9" font-size="20.5" text-anchor="middle">Time (min)</text>
<text transform="translate(514.5,1351.5) rotate(-90)" font-size="20.5" text-anchor="middle">OCR (pmol/min/10<tspan font-size="13" dy="-8">5</tspan><tspan dy="8"> cells)</tspan></text>
<path d="M584.7 1380.6L612.7 1383.1L640.2 1381.6L669 1411.4L697 1409.7L725.4 1408.5L754.2 1379.4L782.6 1380.6L810.1 1383.4L838.9 1415.8L868.2 1418.3L895.7 1418.3" stroke="#0000ff" stroke-width="2.4" fill="none"/>
<line x1="584.7" y1="1376.1" x2="584.7" y2="1385" stroke="#0000ff" stroke-width="2"/>
<line x1="581.2" y1="1376.1" x2="588.2" y2="1376.1" stroke="#0000ff" stroke-width="2"/>
<line x1="581.2" y1="1385" x2="588.2" y2="1385" stroke="#0000ff" stroke-width="2"/>
<circle cx="584.7" cy="1380.6" r="4" fill="#0000ff"/>
<line x1="612.7" y1="1377.2" x2="612.7" y2="1389" stroke="#0000ff" stroke-width="2"/>
<line x1="609.2" y1="1377.2" x2="616.2" y2="1377.2" stroke="#0000ff" stroke-width="2"/>
<line x1="609.2" y1="1389" x2="616.2" y2="1389" stroke="#0000ff" stroke-width="2"/>
<circle cx="612.7" cy="1383.1" r="4" fill="#0000ff"/>
<line x1="640.2" y1="1375.7" x2="640.2" y2="1387.6" stroke="#0000ff" stroke-width="2"/>
<line x1="636.7" y1="1375.7" x2="643.7" y2="1375.7" stroke="#0000ff" stroke-width="2"/>
<line x1="636.7" y1="1387.6" x2="643.7" y2="1387.6" stroke="#0000ff" stroke-width="2"/>
<circle cx="640.2" cy="1381.6" r="4" fill="#0000ff"/>
<line x1="669" y1="1407" x2="669" y2="1415.9" stroke="#0000ff" stroke-width="2"/>
<line x1="665.5" y1="1407" x2="672.5" y2="1407" stroke="#0000ff" stroke-width="2"/>
<line x1="665.5" y1="1415.9" x2="672.5" y2="1415.9" stroke="#0000ff" stroke-width="2"/>
<circle cx="669" cy="1411.4" r="4" fill="#0000ff"/>
<line x1="697" y1="1405.2" x2="697" y2="1414.1" stroke="#0000ff" stroke-width="2"/>
<line x1="693.5" y1="1405.2" x2="700.5" y2="1405.2" stroke="#0000ff" stroke-width="2"/>
<line x1="693.5" y1="1414.1" x2="700.5" y2="1414.1" stroke="#0000ff" stroke-width="2"/>
<circle cx="697" cy="1409.7" r="4" fill="#0000ff"/>
<line x1="725.4" y1="1403.3" x2="725.4" y2="1413.7" stroke="#0000ff" stroke-width="2"/>
<line x1="721.9" y1="1403.3" x2="728.9" y2="1403.3" stroke="#0000ff" stroke-width="2"/>
<line x1="721.9" y1="1413.7" x2="728.9" y2="1413.7" stroke="#0000ff" stroke-width="2"/>
<circle cx="725.4" cy="1408.5" r="4" fill="#0000ff"/>
<line x1="754.2" y1="1374.9" x2="754.2" y2="1383.8" stroke="#0000ff" stroke-width="2"/>
<line x1="750.7" y1="1374.9" x2="757.7" y2="1374.9" stroke="#0000ff" stroke-width="2"/>
<line x1="750.7" y1="1383.8" x2="757.7" y2="1383.8" stroke="#0000ff" stroke-width="2"/>
<circle cx="754.2" cy="1379.4" r="4" fill="#0000ff"/>
<line x1="782.6" y1="1376.9" x2="782.6" y2="1384.3" stroke="#0000ff" stroke-width="2"/>
<line x1="779.1" y1="1376.9" x2="786.1" y2="1376.9" stroke="#0000ff" stroke-width="2"/>
<line x1="779.1" y1="1384.3" x2="786.1" y2="1384.3" stroke="#0000ff" stroke-width="2"/>
<circle cx="782.6" cy="1380.6" r="4" fill="#0000ff"/>
<line x1="810.1" y1="1378.2" x2="810.1" y2="1388.6" stroke="#0000ff" stroke-width="2"/>
<line x1="806.6" y1="1378.2" x2="813.6" y2="1378.2" stroke="#0000ff" stroke-width="2"/>
<line x1="806.6" y1="1388.6" x2="813.6" y2="1388.6" stroke="#0000ff" stroke-width="2"/>
<circle cx="810.1" cy="1383.4" r="4" fill="#0000ff"/>
<line x1="838.9" y1="1410.6" x2="838.9" y2="1420.9" stroke="#0000ff" stroke-width="2"/>
<line x1="835.4" y1="1410.6" x2="842.4" y2="1410.6" stroke="#0000ff" stroke-width="2"/>
<line x1="835.4" y1="1420.9" x2="842.4" y2="1420.9" stroke="#0000ff" stroke-width="2"/>
<circle cx="838.9" cy="1415.8" r="4" fill="#0000ff"/>
<line x1="868.2" y1="1413.1" x2="868.2" y2="1423.5" stroke="#0000ff" stroke-width="2"/>
<line x1="864.7" y1="1413.1" x2="871.7" y2="1413.1" stroke="#0000ff" stroke-width="2"/>
<line x1="864.7" y1="1423.5" x2="871.7" y2="1423.5" stroke="#0000ff" stroke-width="2"/>
<circle cx="868.2" cy="1418.3" r="4" fill="#0000ff"/>
<line x1="895.7" y1="1413.1" x2="895.7" y2="1423.5" stroke="#0000ff" stroke-width="2"/>
<line x1="892.2" y1="1413.1" x2="899.2" y2="1413.1" stroke="#0000ff" stroke-width="2"/>
<line x1="892.2" y1="1423.5" x2="899.2" y2="1423.5" stroke="#0000ff" stroke-width="2"/>
<circle cx="895.7" cy="1418.3" r="4" fill="#0000ff"/>
<path d="M584.7 1327.2L612.7 1335.5L640.2 1338.1L669 1383.1L697 1383.4L725.4 1383.4L754.2 1303.6L782.6 1311.6L810.1 1318.8L838.9 1400.5L868.2 1401.2L895.7 1402.2" stroke="#ff0000" stroke-width="2.4" fill="none"/>
<line x1="584.7" y1="1321.2" x2="584.7" y2="1333.1" stroke="#ff0000" stroke-width="2"/>
<line x1="581.2" y1="1321.2" x2="588.2" y2="1321.2" stroke="#ff0000" stroke-width="2"/>
<line x1="581.2" y1="1333.1" x2="588.2" y2="1333.1" stroke="#ff0000" stroke-width="2"/>
<rect x="580.7" y="1323.2" width="8" height="8" fill="#ff0000"/>
<line x1="612.7" y1="1328" x2="612.7" y2="1342.9" stroke="#ff0000" stroke-width="2"/>
<line x1="609.2" y1="1328" x2="616.2" y2="1328" stroke="#ff0000" stroke-width="2"/>
<line x1="609.2" y1="1342.9" x2="616.2" y2="1342.9" stroke="#ff0000" stroke-width="2"/>
<rect x="608.7" y="1331.5" width="8" height="8" fill="#ff0000"/>
<line x1="640.2" y1="1329.2" x2="640.2" y2="1347" stroke="#ff0000" stroke-width="2"/>
<line x1="636.7" y1="1329.2" x2="643.7" y2="1329.2" stroke="#ff0000" stroke-width="2"/>
<line x1="636.7" y1="1347" x2="643.7" y2="1347" stroke="#ff0000" stroke-width="2"/>
<rect x="636.2" y="1334.1" width="8" height="8" fill="#ff0000"/>
<line x1="669" y1="1376.4" x2="669" y2="1389.8" stroke="#ff0000" stroke-width="2"/>
<line x1="665.5" y1="1376.4" x2="672.5" y2="1376.4" stroke="#ff0000" stroke-width="2"/>
<line x1="665.5" y1="1389.8" x2="672.5" y2="1389.8" stroke="#ff0000" stroke-width="2"/>
<rect x="665" y="1379.1" width="8" height="8" fill="#ff0000"/>
<line x1="697" y1="1376.7" x2="697" y2="1390.1" stroke="#ff0000" stroke-width="2"/>
<line x1="693.5" y1="1376.7" x2="700.5" y2="1376.7" stroke="#ff0000" stroke-width="2"/>
<line x1="693.5" y1="1390.1" x2="700.5" y2="1390.1" stroke="#ff0000" stroke-width="2"/>
<rect x="693" y="1379.4" width="8" height="8" fill="#ff0000"/>
<line x1="725.4" y1="1376.7" x2="725.4" y2="1390.1" stroke="#ff0000" stroke-width="2"/>
<line x1="721.9" y1="1376.7" x2="728.9" y2="1376.7" stroke="#ff0000" stroke-width="2"/>
<line x1="721.9" y1="1390.1" x2="728.9" y2="1390.1" stroke="#ff0000" stroke-width="2"/>
<rect x="721.4" y="1379.4" width="8" height="8" fill="#ff0000"/>
<line x1="754.2" y1="1294.7" x2="754.2" y2="1312.5" stroke="#ff0000" stroke-width="2"/>
<line x1="750.7" y1="1294.7" x2="757.7" y2="1294.7" stroke="#ff0000" stroke-width="2"/>
<line x1="750.7" y1="1312.5" x2="757.7" y2="1312.5" stroke="#ff0000" stroke-width="2"/>
<rect x="750.2" y="1299.6" width="8" height="8" fill="#ff0000"/>
<line x1="782.6" y1="1302.7" x2="782.6" y2="1320.5" stroke="#ff0000" stroke-width="2"/>
<line x1="779.1" y1="1302.7" x2="786.1" y2="1302.7" stroke="#ff0000" stroke-width="2"/>
<line x1="779.1" y1="1320.5" x2="786.1" y2="1320.5" stroke="#ff0000" stroke-width="2"/>
<rect x="778.6" y="1307.6" width="8" height="8" fill="#ff0000"/>
<line x1="810.1" y1="1309.2" x2="810.1" y2="1328.5" stroke="#ff0000" stroke-width="2"/>
<line x1="806.6" y1="1309.2" x2="813.6" y2="1309.2" stroke="#ff0000" stroke-width="2"/>
<line x1="806.6" y1="1328.5" x2="813.6" y2="1328.5" stroke="#ff0000" stroke-width="2"/>
<rect x="806.1" y="1314.8" width="8" height="8" fill="#ff0000"/>
<line x1="838.9" y1="1394.5" x2="838.9" y2="1406.4" stroke="#ff0000" stroke-width="2"/>
<line x1="835.4" y1="1394.5" x2="842.4" y2="1394.5" stroke="#ff0000" stroke-width="2"/>
<line x1="835.4" y1="1406.4" x2="842.4" y2="1406.4" stroke="#ff0000" stroke-width="2"/>
<rect x="834.9" y="1396.5" width="8" height="8" fill="#ff0000"/>
<line x1="868.2" y1="1395.3" x2="868.2" y2="1407.1" stroke="#ff0000" stroke-width="2"/>
<line x1="864.7" y1="1395.3" x2="871.7" y2="1395.3" stroke="#ff0000" stroke-width="2"/>
<line x1="864.7" y1="1407.1" x2="871.7" y2="1407.1" stroke="#ff0000" stroke-width="2"/>
<rect x="864.2" y="1397.2" width="8" height="8" fill="#ff0000"/>
<line x1="895.7" y1="1396.3" x2="895.7" y2="1408.2" stroke="#ff0000" stroke-width="2"/>
<line x1="892.2" y1="1396.3" x2="899.2" y2="1396.3" stroke="#ff0000" stroke-width="2"/>
<line x1="892.2" y1="1408.2" x2="899.2" y2="1408.2" stroke="#ff0000" stroke-width="2"/>
<rect x="891.7" y="1398.2" width="8" height="8" fill="#ff0000"/>
<path d="M584.7 1290.9L612.7 1295.5L640.2 1296.3L669 1348.7L697 1352.5L725.4 1349L754.2 1267.4L782.6 1276L810.1 1278.2L838.9 1384.1L868.2 1387.9L895.7 1388.4" stroke="#00bb00" stroke-width="2.4" fill="none"/>
<line x1="584.7" y1="1283.5" x2="584.7" y2="1298.4" stroke="#00bb00" stroke-width="2"/>
<line x1="581.2" y1="1283.5" x2="588.2" y2="1283.5" stroke="#00bb00" stroke-width="2"/>
<line x1="581.2" y1="1298.4" x2="588.2" y2="1298.4" stroke="#00bb00" stroke-width="2"/>
<path d="M580.2 1295L589.2 1295L584.7 1286.9Z" fill="#00bb00"/>
<line x1="612.7" y1="1288.9" x2="612.7" y2="1302.2" stroke="#00bb00" stroke-width="2"/>
<line x1="609.2" y1="1288.9" x2="616.2" y2="1288.9" stroke="#00bb00" stroke-width="2"/>
<line x1="609.2" y1="1302.2" x2="616.2" y2="1302.2" stroke="#00bb00" stroke-width="2"/>
<path d="M608.2 1299.6L617.2 1299.6L612.7 1291.5Z" fill="#00bb00"/>
<line x1="640.2" y1="1291.1" x2="640.2" y2="1301.5" stroke="#00bb00" stroke-width="2"/>
<line x1="636.7" y1="1291.1" x2="643.7" y2="1291.1" stroke="#00bb00" stroke-width="2"/>
<line x1="636.7" y1="1301.5" x2="643.7" y2="1301.5" stroke="#00bb00" stroke-width="2"/>
<path d="M635.7 1300.3L644.7 1300.3L640.2 1292.2Z" fill="#00bb00"/>
<line x1="669" y1="1346.4" x2="669" y2="1350.9" stroke="#00bb00" stroke-width="2"/>
<line x1="665.5" y1="1346.4" x2="672.5" y2="1346.4" stroke="#00bb00" stroke-width="2"/>
<line x1="665.5" y1="1350.9" x2="672.5" y2="1350.9" stroke="#00bb00" stroke-width="2"/>
<path d="M664.5 1352.7L673.5 1352.7L669 1344.6Z" fill="#00bb00"/>
<line x1="697" y1="1348.1" x2="697" y2="1357" stroke="#00bb00" stroke-width="2"/>
<line x1="693.5" y1="1348.1" x2="700.5" y2="1348.1" stroke="#00bb00" stroke-width="2"/>
<line x1="693.5" y1="1357" x2="700.5" y2="1357" stroke="#00bb00" stroke-width="2"/>
<path d="M692.5 1356.6L701.5 1356.6L697 1348.5Z" fill="#00bb00"/>
<line x1="725.4" y1="1345.3" x2="725.4" y2="1352.7" stroke="#00bb00" stroke-width="2"/>
<line x1="721.9" y1="1345.3" x2="728.9" y2="1345.3" stroke="#00bb00" stroke-width="2"/>
<line x1="721.9" y1="1352.7" x2="728.9" y2="1352.7" stroke="#00bb00" stroke-width="2"/>
<path d="M720.9 1353L729.9 1353L725.4 1344.9Z" fill="#00bb00"/>
<line x1="754.2" y1="1259.2" x2="754.2" y2="1275.5" stroke="#00bb00" stroke-width="2"/>
<line x1="750.7" y1="1259.2" x2="757.7" y2="1259.2" stroke="#00bb00" stroke-width="2"/>
<line x1="750.7" y1="1275.5" x2="757.7" y2="1275.5" stroke="#00bb00" stroke-width="2"/>
<path d="M749.7 1271.4L758.7 1271.4L754.2 1263.3Z" fill="#00bb00"/>
<line x1="782.6" y1="1268.5" x2="782.6" y2="1283.4" stroke="#00bb00" stroke-width="2"/>
<line x1="779.1" y1="1268.5" x2="786.1" y2="1268.5" stroke="#00bb00" stroke-width="2"/>
<line x1="779.1" y1="1283.4" x2="786.1" y2="1283.4" stroke="#00bb00" stroke-width="2"/>
<path d="M778.1 1280L787.1 1280L782.6 1271.9Z" fill="#00bb00"/>
<line x1="810.1" y1="1274.5" x2="810.1" y2="1281.9" stroke="#00bb00" stroke-width="2"/>
<line x1="806.6" y1="1274.5" x2="813.6" y2="1274.5" stroke="#00bb00" stroke-width="2"/>
<line x1="806.6" y1="1281.9" x2="813.6" y2="1281.9" stroke="#00bb00" stroke-width="2"/>
<path d="M805.6 1282.2L814.6 1282.2L810.1 1274.1Z" fill="#00bb00"/>
<line x1="838.9" y1="1378.2" x2="838.9" y2="1390.1" stroke="#00bb00" stroke-width="2"/>
<line x1="835.4" y1="1378.2" x2="842.4" y2="1378.2" stroke="#00bb00" stroke-width="2"/>
<line x1="835.4" y1="1390.1" x2="842.4" y2="1390.1" stroke="#00bb00" stroke-width="2"/>
<path d="M834.4 1388.2L843.4 1388.2L838.9 1380.1Z" fill="#00bb00"/>
<line x1="868.2" y1="1383.4" x2="868.2" y2="1392.3" stroke="#00bb00" stroke-width="2"/>
<line x1="864.7" y1="1383.4" x2="871.7" y2="1383.4" stroke="#00bb00" stroke-width="2"/>
<line x1="864.7" y1="1392.3" x2="871.7" y2="1392.3" stroke="#00bb00" stroke-width="2"/>
<path d="M863.7 1391.9L872.7 1391.9L868.2 1383.8Z" fill="#00bb00"/>
<line x1="895.7" y1="1384" x2="895.7" y2="1392.9" stroke="#00bb00" stroke-width="2"/>
<line x1="892.2" y1="1384" x2="899.2" y2="1384" stroke="#00bb00" stroke-width="2"/>
<line x1="892.2" y1="1392.9" x2="899.2" y2="1392.9" stroke="#00bb00" stroke-width="2"/>
<path d="M891.2 1392.5L900.2 1392.5L895.7 1384.4Z" fill="#00bb00"/>
<text x="642.3" y="1244.4" font-size="11" text-anchor="middle">Oligomycin</text>
<line x1="642.3" y1="1251.7" x2="642.3" y2="1275.8" stroke="#000" stroke-width="1.6"/>
<path d="M637.8 1272.8L646.8 1272.8L642.3 1281.8Z" fill="#000"/>
<text x="737.7" y="1239" font-size="11" text-anchor="middle">FCCP</text>
<line x1="752.2" y1="1239.7" x2="752.2" y2="1254" stroke="#000" stroke-width="1.6"/>
<path d="M747.7 1251L756.7 1251L752.2 1260Z" fill="#000"/>
<text x="809.2" y="1243.7" font-size="11" text-anchor="middle">Rotenone</text>
<line x1="810.3" y1="1249.9" x2="810.3" y2="1260.2" stroke="#000" stroke-width="1.6"/>
<path d="M805.8 1257.2L814.8 1257.2L810.3 1266.2Z" fill="#000"/>
<line x1="860.4" y1="1272.7" x2="882.9" y2="1272.7" stroke="#0000ff" stroke-width="2.4"/>
<circle cx="871.6" cy="1272.7" r="4" fill="#0000ff"/>
<text x="892" y="1277.9" font-size="14.3">Control</text>
<line x1="860.4" y1="1298.1" x2="882.9" y2="1298.1" stroke="#ff0000" stroke-width="2.4"/>
<rect x="867.6" y="1294.1" width="8" height="8" fill="#ff0000"/>
<text x="892" y="1303.3" font-size="14.3">Fasting 24h</text>
<line x1="860.4" y1="1323.9" x2="882.9" y2="1323.9" stroke="#00bb00" stroke-width="2.4"/>
<path d="M867.6 1327.5L875.6 1327.5L871.6 1320.3Z" fill="#00bb00"/>
<text x="892" y="1329.1" font-size="14.3">Fasting 48h</text>
<text x="9" y="1597" font-size="42" font-weight="bold">j</text>
<defs><linearGradient id="gPh" x1="0" y1="0" x2="1" y2="1"><stop offset="0" stop-color="#d1d0d5"/><stop offset="0.5" stop-color="#dad9dd"/><stop offset="1" stop-color="#d3d2d7"/></linearGradient><linearGradient id="gRu" x1="0" y1="0" x2="1" y2="0"><stop offset="0" stop-color="#8c8d82"/><stop offset="0.5" stop-color="#a3a499"/><stop offset="1" stop-color="#929388"/></linearGradient><radialGradient id="gTu" cx="0.42" cy="0.4" r="0.65"><stop offset="0" stop-color="#e6cdb0"/><stop offset="0.6" stop-color="#d8b090"/><stop offset="1" stop-color="#b8705c"/></radialGradient><filter id="bt" x="-30%" y="-30%" width="160%" height="160%"><feGaussianBlur stdDeviation="1.2"/></filter><filter id="tex" x="-5%" y="-5%" width="110%" height="110%"><feTurbulence type="fractalNoise" baseFrequency="0.09" numOctaves="2" seed="4" result="n"/><feColorMatrix in="n" type="matrix" values="0 0 0 0 0.82  0 0 0 0 0.14  0 0 0 0 0.14  2.3 0 0 0 -0.98" result="r"/><feComposite in="r" in2="SourceGraphic" operator="in" result="rc"/><feGaussianBlur in="rc" stdDeviation="0.6" result="rb"/><feMerge><feMergeNode in="SourceGraphic"/><feMergeNode in="rb"/></feMerge></filter><filter id="bt2" x="-50%" y="-50%" width="200%" height="200%"><feGaussianBlur stdDeviation="2.4"/></filter><filter id="bsh" x="-30%" y="-30%" width="160%" height="160%"><feGaussianBlur stdDeviation="3"/></filter></defs>
<clipPath id="cph"><rect x="90.5" y="1582" width="502.5" height="304.5"/></clipPath><g clip-path="url(#cph)">
<rect x="90.5" y="1582" width="502.5" height="304.5" fill="url(#gPh)"/>
<path d="M111.4 1587.2H176.5L175.8 1886.5H109.5Z" fill="#8f9082"/>
<path d="M126 1587.2H159.4V1886.5H125.5Z" fill="#9c9d90"/>
<path d="M111.5 1590.5H126M159.4 1590.5H175.5M111.5 1593.8H126M159.4 1593.8H175.5M111.5 1597.2H126M159.4 1597.2H175.5M111.5 1600.5H126M159.4 1600.5H175.5M111.5 1603.8H126M159.4 1603.8H175.5M111.5 1607.2H126M159.4 1607.2H175.5M111.5 1610.5H126M159.4 1610.5H175.5M111.5 1613.8H126M159.4 1613.8H175.5M111.5 1617.2H126M159.4 1617.2H175.5M111.5 1620.5H126M159.4 1620.5H175.5M111.5 1623.8H126M159.4 1623.8H175.5M111.5 1627.2H126M159.4 1627.2H175.5M111.5 1630.5H126M159.4 1630.5H175.5M111.5 1633.9H126M159.4 1633.9H175.5M111.5 1637.2H126M159.4 1637.2H175.5M111.5 1640.5H126M159.4 1640.5H175.5M111.5 1643.9H126M159.4 1643.9H175.5M111.5 1647.2H126M159.4 1647.2H175.5M111.5 1650.5H126M159.4 1650.5H175.5M111.5 1653.9H126M159.4 1653.9H175.5M111.5 1657.2H126M159.4 1657.2H175.5M111.5 1660.5H126M159.4 1660.5H175.5M111.5 1663.9H126M159.4 1663.9H175.5M111.5 1667.2H126M159.4 1667.2H175.5M111.5 1670.5H126M159.4 1670.5H175.5M111.5 1673.9H126M159.4 1673.9H175.5M111.5 1677.2H126M159.4 1677.2H175.5M111.5 1680.5H126M159.4 1680.5H175.5M111.5 1683.9H126M159.4 1683.9H175.5M111.5 1687.2H126M159.4 1687.2H175.5M111.5 1690.5H126M159.4 1690.5H175.5M111.5 1693.9H126M159.4 1693.9H175.5M111.5 1697.2H126M159.4 1697.2H175.5M111.5 1700.6H126M159.4 1700.6H175.5M111.5 1703.9H126M159.4 1703.9H175.5M111.5 1707.2H126M159.4 1707.2H175.5M111.5 1710.6H126M159.4 1710.6H175.5M111.5 1713.9H126M159.4 1713.9H175.5M111.5 1717.2H126M159.4 1717.2H175.5M111.5 1720.6H126M159.4 1720.6H175.5M111.5 1723.9H126M159.4 1723.9H175.5M111.5 1727.2H126M159.4 1727.2H175.5M111.5 1730.6H126M159.4 1730.6H175.5M111.5 1733.9H126M159.4 1733.9H175.5M111.5 1737.2H126M159.4 1737.2H175.5M111.5 1740.6H126M159.4 1740.6H175.5M111.5 1743.9H126M159.4 1743.9H175.5M111.5 1747.2H126M159.4 1747.2H175.5M111.5 1750.6H126M159.4 1750.6H175.5M111.5 1753.9H126M159.4 1753.9H175.5M111.5 1757.2H126M159.4 1757.2H175.5M111.5 1760.6H126M159.4 1760.6H175.5M111.5 1763.9H126M159.4 1763.9H175.5M111.5 1767.3H126M159.4 1767.3H175.5M111.5 1770.6H126M159.4 1770.6H175.5M111.5 1773.9H126M159.4 1773.9H175.5M111.5 1777.3H126M159.4 1777.3H175.5M111.5 1780.6H126M159.4 1780.6H175.5M111.5 1783.9H126M159.4 1783.9H175.5M111.5 1787.3H126M159.4 1787.3H175.5M111.5 1790.6H126M159.4 1790.6H175.5M111.5 1793.9H126M159.4 1793.9H175.5M111.5 1797.3H126M159.4 1797.3H175.5M111.5 1800.6H126M159.4 1800.6H175.5M111.5 1803.9H126M159.4 1803.9H175.5M111.5 1807.3H126M159.4 1807.3H175.5M111.5 1810.6H126M159.4 1810.6H175.5M111.5 1813.9H126M159.4 1813.9H175.5M111.5 1817.3H126M159.4 1817.3H175.5M111.5 1820.6H126M159.4 1820.6H175.5M111.5 1824H126M159.4 1824H175.5M111.5 1827.3H126M159.4 1827.3H175.5M111.5 1830.6H126M159.4 1830.6H175.5M111.5 1834H126M159.4 1834H175.5M111.5 1837.3H126M159.4 1837.3H175.5M111.5 1840.6H126M159.4 1840.6H175.5M111.5 1844H126M159.4 1844H175.5M111.5 1847.3H126M159.4 1847.3H175.5M111.5 1850.6H126M159.4 1850.6H175.5M111.5 1854H126M159.4 1854H175.5M111.5 1857.3H126M159.4 1857.3H175.5M111.5 1860.6H126M159.4 1860.6H175.5M111.5 1864H126M159.4 1864H175.5M111.5 1867.3H126M159.4 1867.3H175.5M111.5 1870.6H126M159.4 1870.6H175.5M111.5 1874H126M159.4 1874H175.5M111.5 1877.3H126M159.4 1877.3H175.5M111.5 1880.6H126M159.4 1880.6H175.5M111.5 1884H126M159.4 1884H175.5" stroke="#5f6057" stroke-width="1.1" fill="none"/>
<text transform="translate(135.5,1621) rotate(90)" font-size="21" text-anchor="middle" fill="#2e2f29" style="font-family:Liberation Serif,serif">1</text>
<path d="M127 1621H133M151 1621H158" stroke="#4a4b44" stroke-width="1"/>
<path d="M127 1637.7H131M155 1637.7H158" stroke="#5a5b54" stroke-width="1"/>
<text transform="translate(135.5,1654.3) rotate(90)" font-size="21" text-anchor="middle" fill="#2e2f29" style="font-family:Liberation Serif,serif">2</text>
<path d="M127 1654.3H133M151 1654.3H158" stroke="#4a4b44" stroke-width="1"/>
<path d="M127 1671H131M155 1671H158" stroke="#5a5b54" stroke-width="1"/>
<text transform="translate(135.5,1687.7) rotate(90)" font-size="21" text-anchor="middle" fill="#2e2f29" style="font-family:Liberation Serif,serif">3</text>
<path d="M127 1687.7H133M151 1687.7H158" stroke="#4a4b44" stroke-width="1"/>
<path d="M127 1704.4H131M155 1704.4H158" stroke="#5a5b54" stroke-width="1"/>
<text transform="translate(135.5,1721) rotate(90)" font-size="21" text-anchor="middle" fill="#2e2f29" style="font-family:Liberation Serif,serif">4</text>
<path d="M127 1721H133M151 1721H158" stroke="#4a4b44" stroke-width="1"/>
<path d="M127 1737.8H131M155 1737.8H158" stroke="#5a5b54" stroke-width="1"/>
<text transform="translate(135.5,1754.4) rotate(90)" font-size="21" text-anchor="middle" fill="#2e2f29" style="font-family:Liberation Serif,serif">5</text>
<path d="M127 1754.4H133M151 1754.4H158" stroke="#4a4b44" stroke-width="1"/>
<path d="M127 1771.1H131M155 1771.1H158" stroke="#5a5b54" stroke-width="1"/>
<text transform="translate(135.5,1787.8) rotate(90)" font-size="21" text-anchor="middle" fill="#2e2f29" style="font-family:Liberation Serif,serif">6</text>
<path d="M127 1787.8H133M151 1787.8H158" stroke="#4a4b44" stroke-width="1"/>
<path d="M127 1804.5H131M155 1804.5H158" stroke="#5a5b54" stroke-width="1"/>
<text transform="translate(135.5,1821.1) rotate(90)" font-size="21" text-anchor="middle" fill="#2e2f29" style="font-family:Liberation Serif,serif">7</text>
<path d="M127 1821.1H133M151 1821.1H158" stroke="#4a4b44" stroke-width="1"/>
<path d="M127 1837.8H131M155 1837.8H158" stroke="#5a5b54" stroke-width="1"/>
<text transform="translate(135.5,1854.5) rotate(90)" font-size="21" text-anchor="middle" fill="#2e2f29" style="font-family:Liberation Serif,serif">8</text>
<path d="M127 1854.5H133M151 1854.5H158" stroke="#4a4b44" stroke-width="1"/>
<path d="M127 1871.2H131M155 1871.2H158" stroke="#5a5b54" stroke-width="1"/>
<text transform="translate(135.5,1887.8) rotate(90)" font-size="21" text-anchor="middle" fill="#2e2f29" style="font-family:Liberation Serif,serif">9</text>
<path d="M127 1887.8H133M151 1887.8H158" stroke="#4a4b44" stroke-width="1"/>
<path d="M127 1904.5H131M155 1904.5H158" stroke="#5a5b54" stroke-width="1"/>
<text transform="translate(137.5,1600) rotate(90)" font-size="9" fill="#3a3b35" style="font-family:Liberation Serif,serif">cm</text>
<g opacity="0.55" filter="url(#bsh)" fill="#8d8e9a" transform="translate(4,4)"><ellipse cx="213.2" cy="1640.3" rx="19.4" ry="17.6"/></g>
<clipPath id="ct1"><ellipse cx="213.2" cy="1640.3" rx="19.4" ry="17.6"/></clipPath>
<g fill="url(#gTu)" filter="url(#tex)"><ellipse cx="213.2" cy="1640.3" rx="19.4" ry="17.6"/></g>
<g clip-path="url(#ct1)">
<ellipse cx="224" cy="1653" rx="10" ry="4" fill="#cc1e22" opacity="0.8" filter="url(#bt2)"/>
<ellipse cx="200" cy="1648" rx="4" ry="6" fill="#cc1e22" opacity="0.5" filter="url(#bt2)"/>
<ellipse cx="205" cy="1633" rx="6" ry="3" fill="#f4e6da" opacity="0.6" filter="url(#bt2)"/>
<ellipse cx="218" cy="1636" rx="5" ry="3" fill="#f4e6da" opacity="0.6" filter="url(#bt2)"/>
</g>
<g opacity="0.55" filter="url(#bsh)" fill="#8d8e9a" transform="translate(4,4)"><ellipse cx="275.2" cy="1642.2" rx="14.4" ry="18.5"/></g>
<clipPath id="ct2"><ellipse cx="275.2" cy="1642.2" rx="14.4" ry="18.5"/></clipPath>
<g fill="url(#gTu)" filter="url(#tex)"><ellipse cx="275.2" cy="1642.2" rx="14.4" ry="18.5"/></g>
<g clip-path="url(#ct2)">
<ellipse cx="277" cy="1627" rx="4" ry="3" fill="#cc1e22" opacity="0.8" filter="url(#bt2)"/>
<ellipse cx="283" cy="1650" rx="4" ry="6" fill="#cc1e22" opacity="0.4" filter="url(#bt2)"/>
<ellipse cx="271" cy="1640" rx="4" ry="6" fill="#f4e6da" opacity="0.6" filter="url(#bt2)"/>
</g>
<g opacity="0.55" filter="url(#bsh)" fill="#8d8e9a" transform="translate(4,4)"><ellipse cx="326" cy="1648" rx="16" ry="17"/><ellipse cx="343" cy="1644" rx="15" ry="17"/></g>
<clipPath id="ct3"><ellipse cx="326" cy="1648" rx="16" ry="17"/><ellipse cx="343" cy="1644" rx="15" ry="17"/></clipPath>
<g fill="url(#gTu)" filter="url(#tex)"><ellipse cx="326" cy="1648" rx="16" ry="17"/><ellipse cx="343" cy="1644" rx="15" ry="17"/></g>
<g clip-path="url(#ct3)">
<ellipse cx="312" cy="1645" rx="4" ry="9" fill="#cc1e22" opacity="0.8" filter="url(#bt2)"/>
<ellipse cx="336" cy="1648" rx="4" ry="12" fill="#cc1e22" opacity="0.7" filter="url(#bt2)"/>
<ellipse cx="345" cy="1660" rx="8" ry="4" fill="#cc1e22" opacity="0.6" filter="url(#bt2)"/>
<ellipse cx="326" cy="1640" rx="5" ry="4" fill="#f4e6da" opacity="0.6" filter="url(#bt2)"/>
<ellipse cx="348" cy="1642" rx="4" ry="5" fill="#f4e6da" opacity="0.6" filter="url(#bt2)"/>
</g>
<g opacity="0.55" filter="url(#bsh)" fill="#8d8e9a" transform="translate(4,4)"><ellipse cx="426" cy="1640" rx="22" ry="16"/><ellipse cx="420" cy="1662" rx="12" ry="12"/><ellipse cx="437" cy="1664" rx="12" ry="12"/></g>
<clipPath id="ct4"><ellipse cx="426" cy="1640" rx="22" ry="16"/><ellipse cx="420" cy="1662" rx="12" ry="12"/><ellipse cx="437" cy="1664" rx="12" ry="12"/></clipPath>
<g fill="url(#gTu)" filter="url(#tex)"><ellipse cx="426" cy="1640" rx="22" ry="16"/><ellipse cx="420" cy="1662" rx="12" ry="12"/><ellipse cx="437" cy="1664" rx="12" ry="12"/></g>
<g clip-path="url(#ct4)">
<ellipse cx="420" cy="1636" rx="12" ry="7" fill="#cc1e22" opacity="0.8" filter="url(#bt2)"/>
<ellipse cx="428" cy="1650" rx="16" ry="4" fill="#cc1e22" opacity="0.7" filter="url(#bt2)"/>
<ellipse cx="412" cy="1660" rx="5" ry="6" fill="#cc1e22" opacity="0.5" filter="url(#bt2)"/>
<ellipse cx="436" cy="1640" rx="6" ry="4" fill="#f4e6da" opacity="0.6" filter="url(#bt2)"/>
<ellipse cx="422" cy="1668" rx="4" ry="4" fill="#f4e6da" opacity="0.6" filter="url(#bt2)"/>
<ellipse cx="437" cy="1667" rx="4" ry="4" fill="#f4e6da" opacity="0.6" filter="url(#bt2)"/>
</g>
<path d="M414 1676l-2 9M424 1676l1 12M434 1676l1 10" stroke="#d29a86" stroke-width="3" fill="none" filter="url(#bt)"/>
<ellipse cx="436" cy="1626" rx="6" ry="5" fill="#d8b8a8" opacity="0.6" filter="url(#bt)"/>
<g opacity="0.55" filter="url(#bsh)" fill="#8d8e9a" transform="translate(4,4)"><ellipse cx="502" cy="1650.7" rx="16.3" ry="16.3"/></g>
<clipPath id="ct5"><ellipse cx="502" cy="1650.7" rx="16.3" ry="16.3"/></clipPath>
<g fill="url(#gTu)" filter="url(#tex)"><ellipse cx="502" cy="1650.7" rx="16.3" ry="16.3"/></g>
<g clip-path="url(#ct5)">
<ellipse cx="512" cy="1645" rx="5" ry="5" fill="#cc1e22" opacity="0.5" filter="url(#bt2)"/>
<ellipse cx="498" cy="1660" rx="8" ry="4" fill="#cc1e22" opacity="0.3" filter="url(#bt2)"/>
<ellipse cx="498" cy="1648" rx="6" ry="5" fill="#f4e6da" opacity="0.6" filter="url(#bt2)"/>
</g>
<g opacity="0.55" filter="url(#bsh)" fill="#8d8e9a" transform="translate(4,4)"><ellipse cx="206.5" cy="1818" rx="22" ry="35.5"/><ellipse cx="240.3" cy="1804.3" rx="18.7" ry="22.7"/></g>
<clipPath id="ct6"><ellipse cx="206.5" cy="1818" rx="22" ry="35.5"/><ellipse cx="240.3" cy="1804.3" rx="18.7" ry="22.7"/></clipPath>
<g fill="url(#gTu)" filter="url(#tex)"><ellipse cx="206.5" cy="1818" rx="22" ry="35.5"/><ellipse cx="240.3" cy="1804.3" rx="18.7" ry="22.7"/></g>
<g clip-path="url(#ct6)">
<ellipse cx="196" cy="1805" rx="5" ry="14" fill="#cc1e22" opacity="0.7" filter="url(#bt2)"/>
<ellipse cx="230" cy="1810" rx="5" ry="14" fill="#cc1e22" opacity="0.8" filter="url(#bt2)"/>
<ellipse cx="212" cy="1846" rx="14" ry="6" fill="#cc1e22" opacity="0.6" filter="url(#bt2)"/>
<ellipse cx="248" cy="1820" rx="8" ry="5" fill="#cc1e22" opacity="0.7" filter="url(#bt2)"/>
<ellipse cx="200" cy="1790" rx="6" ry="4" fill="#cc1e22" opacity="0.6" filter="url(#bt2)"/>
<ellipse cx="208" cy="1825" rx="8" ry="14" fill="#f4e6da" opacity="0.6" filter="url(#bt2)"/>
<ellipse cx="244" cy="1796" rx="10" ry="10" fill="#f4e6da" opacity="0.6" filter="url(#bt2)"/>
<ellipse cx="200" cy="1795" rx="5" ry="6" fill="#f4e6da" opacity="0.6" filter="url(#bt2)"/>
</g>
<g opacity="0.55" filter="url(#bsh)" fill="#8d8e9a" transform="translate(4,4)"><ellipse cx="308.7" cy="1810" rx="22" ry="18"/><ellipse cx="310" cy="1845" rx="17" ry="21"/></g>
<clipPath id="ct7"><ellipse cx="308.7" cy="1810" rx="22" ry="18"/><ellipse cx="310" cy="1845" rx="17" ry="21"/></clipPath>
<g fill="url(#gTu)" filter="url(#tex)"><ellipse cx="308.7" cy="1810" rx="22" ry="18"/><ellipse cx="310" cy="1845" rx="17" ry="21"/></g>
<g clip-path="url(#ct7)">
<ellipse cx="292" cy="1808" rx="6" ry="10" fill="#cc1e22" opacity="0.8" filter="url(#bt2)"/>
<ellipse cx="310" cy="1826" rx="18" ry="4" fill="#cc1e22" opacity="0.8" filter="url(#bt2)"/>
<ellipse cx="320" cy="1850" rx="5" ry="10" fill="#cc1e22" opacity="0.5" filter="url(#bt2)"/>
<ellipse cx="305" cy="1797" rx="6" ry="4" fill="#cc1e22" opacity="0.6" filter="url(#bt2)"/>
<ellipse cx="314" cy="1806" rx="8" ry="7" fill="#f4e6da" opacity="0.6" filter="url(#bt2)"/>
<ellipse cx="306" cy="1848" rx="6" ry="8" fill="#f4e6da" opacity="0.6" filter="url(#bt2)"/>
</g>
<g opacity="0.55" filter="url(#bsh)" fill="#8d8e9a" transform="translate(4,4)"><ellipse cx="381" cy="1813" rx="14" ry="20"/><ellipse cx="387" cy="1842" rx="26" ry="24"/></g>
<clipPath id="ct8"><ellipse cx="381" cy="1813" rx="14" ry="20"/><ellipse cx="387" cy="1842" rx="26" ry="24"/></clipPath>
<g fill="url(#gTu)" filter="url(#tex)"><ellipse cx="381" cy="1813" rx="14" ry="20"/><ellipse cx="387" cy="1842" rx="26" ry="24"/></g>
<g clip-path="url(#ct8)">
<ellipse cx="372" cy="1822" rx="6" ry="8" fill="#cc1e22" opacity="0.7" filter="url(#bt2)"/>
<ellipse cx="395" cy="1842" rx="10" ry="14" fill="#cc1e22" opacity="0.6" filter="url(#bt2)"/>
<ellipse cx="388" cy="1862" rx="12" ry="4" fill="#cc1e22" opacity="0.4" filter="url(#bt2)"/>
<ellipse cx="382" cy="1805" rx="4" ry="7" fill="#f4e6da" opacity="0.6" filter="url(#bt2)"/>
<ellipse cx="378" cy="1840" rx="9" ry="10" fill="#f4e6da" opacity="0.6" filter="url(#bt2)"/>
</g>
<g opacity="0.55" filter="url(#bsh)" fill="#8d8e9a" transform="translate(4,4)"><ellipse cx="445" cy="1830" rx="17" ry="25"/><ellipse cx="478" cy="1826" rx="18" ry="26"/></g>
<clipPath id="ct9"><ellipse cx="445" cy="1830" rx="17" ry="25"/><ellipse cx="478" cy="1826" rx="18" ry="26"/></clipPath>
<g fill="url(#gTu)" filter="url(#tex)"><ellipse cx="445" cy="1830" rx="17" ry="25"/><ellipse cx="478" cy="1826" rx="18" ry="26"/></g>
<g clip-path="url(#ct9)">
<ellipse cx="462" cy="1852" rx="8" ry="8" fill="#cc1e22" opacity="0.8" filter="url(#bt2)"/>
<ellipse cx="458" cy="1826" rx="4" ry="14" fill="#cc1e22" opacity="0.6" filter="url(#bt2)"/>
<ellipse cx="440" cy="1850" rx="6" ry="4" fill="#cc1e22" opacity="0.4" filter="url(#bt2)"/>
<ellipse cx="445" cy="1822" rx="6" ry="6" fill="#f4e6da" opacity="0.6" filter="url(#bt2)"/>
<ellipse cx="480" cy="1818" rx="7" ry="7" fill="#f4e6da" opacity="0.6" filter="url(#bt2)"/>
</g>
<g opacity="0.55" filter="url(#bsh)" fill="#8d8e9a" transform="translate(4,4)"><ellipse cx="544" cy="1818" rx="22" ry="18"/><ellipse cx="547" cy="1843" rx="25" ry="19"/></g>
<clipPath id="ct10"><ellipse cx="544" cy="1818" rx="22" ry="18"/><ellipse cx="547" cy="1843" rx="25" ry="19"/></clipPath>
<g fill="url(#gTu)" filter="url(#tex)"><ellipse cx="544" cy="1818" rx="22" ry="18"/><ellipse cx="547" cy="1843" rx="25" ry="19"/></g>
<g clip-path="url(#ct10)">
<ellipse cx="535" cy="1832" rx="12" ry="5" fill="#cc1e22" opacity="0.8" filter="url(#bt2)"/>
<ellipse cx="556" cy="1845" rx="8" ry="8" fill="#cc1e22" opacity="0.6" filter="url(#bt2)"/>
<ellipse cx="552" cy="1810" rx="6" ry="4" fill="#cc1e22" opacity="0.6" filter="url(#bt2)"/>
<ellipse cx="566" cy="1840" rx="3" ry="8" fill="#cc1e22" opacity="0.6" filter="url(#bt2)"/>
<ellipse cx="542" cy="1815" rx="7" ry="6" fill="#f4e6da" opacity="0.6" filter="url(#bt2)"/>
<ellipse cx="544" cy="1848" rx="8" ry="7" fill="#f4e6da" opacity="0.6" filter="url(#bt2)"/>
</g>
</g>
<text x="603.6" y="1663" font-size="20.5">Fasting mimic diet</text>
<text x="603.6" y="1689.5" font-size="20.5">(FMD)</text>
<text x="603.6" y="1829" font-size="20.5">Control</text>
<text x="929" y="1566.5" font-size="42" font-weight="bold">k</text>
<text x="1209.3" y="1525.2" font-size="21.7" text-anchor="middle">CT26</text>
<line x1="1043.2" y1="1554.9" x2="1043.2" y2="1788.5" stroke="#000" stroke-width="2"/>
<line x1="1037.2" y1="1787.5" x2="1043.2" y2="1787.5" stroke="#000" stroke-width="2"/>
<text x="1030.5" y="1795.1" font-size="21.2" text-anchor="end">0.0</text>
<line x1="1037.2" y1="1710" x2="1043.2" y2="1710" stroke="#000" stroke-width="2"/>
<text x="1030.5" y="1717.5" font-size="21.2" text-anchor="end">0.5</text>
<line x1="1037.2" y1="1632.4" x2="1043.2" y2="1632.4" stroke="#000" stroke-width="2"/>
<text x="1030.5" y="1640" font-size="21.2" text-anchor="end">1.0</text>
<line x1="1037.2" y1="1554.8" x2="1043.2" y2="1554.8" stroke="#000" stroke-width="2"/>
<text x="1030.5" y="1562.4" font-size="21.2" text-anchor="end">1.5</text>
<line x1="1038" y1="1787.5" x2="1396" y2="1787.5" stroke="#000" stroke-width="2"/>
<line x1="1078.1" y1="1787.5" x2="1078.1" y2="1794" stroke="#000" stroke-width="2"/>
<rect x="1052.9" y="1636.7" width="12.4" height="150.8" fill="#95c4f8" stroke="#0000ff" stroke-width="2.4" stroke-linejoin="round"/>
<circle cx="1056.1" cy="1635.5" r="3.2" fill="#0000ff"/>
<circle cx="1062.1" cy="1634" r="3.2" fill="#0000ff"/>
<circle cx="1059.1" cy="1638.6" r="3.2" fill="#0000ff"/>
<rect x="1071.9" y="1710.4" width="12.4" height="77.1" fill="#ffa4a4" stroke="#ff0000" stroke-width="2.4" stroke-linejoin="round"/>
<rect x="1071.8" y="1705.9" width="6.5" height="6.5" fill="#ff0000"/>
<rect x="1077.8" y="1704.4" width="6.5" height="6.5" fill="#ff0000"/>
<rect x="1074.8" y="1709" width="6.5" height="6.5" fill="#ff0000"/>
<rect x="1090.9" y="1736.3" width="12.4" height="51.2" fill="#a6f8a6" stroke="#00bb00" stroke-width="2.4" stroke-linejoin="round"/>
<path d="M1090.8 1738L1097.3 1738L1094.1 1732.2Z" fill="#00bb00"/>
<path d="M1096.8 1736.5L1103.3 1736.5L1100.1 1730.6Z" fill="#00bb00"/>
<path d="M1093.8 1741.1L1100.3 1741.1L1097.1 1735.3Z" fill="#00bb00"/>
<text x="1078.1" y="1710" font-size="20" text-anchor="middle">*</text>
<text x="1097.1" y="1735.4" font-size="20" text-anchor="middle">**</text>
<text transform="translate(1086.1,1809) rotate(-45)" font-size="16.4" text-anchor="end">GLUT1</text>
<line x1="1148.5" y1="1787.5" x2="1148.5" y2="1794" stroke="#000" stroke-width="2"/>
<rect x="1123.3" y="1632" width="12.4" height="155.5" fill="#95c4f8" stroke="#0000ff" stroke-width="2.4" stroke-linejoin="round"/>
<circle cx="1126.5" cy="1630.8" r="3.2" fill="#0000ff"/>
<circle cx="1132.5" cy="1629.3" r="3.2" fill="#0000ff"/>
<circle cx="1129.5" cy="1634" r="3.2" fill="#0000ff"/>
<rect x="1142.3" y="1705.3" width="12.4" height="82.2" fill="#ffa4a4" stroke="#ff0000" stroke-width="2.4" stroke-linejoin="round"/>
<rect x="1142.2" y="1700.8" width="6.5" height="6.5" fill="#ff0000"/>
<rect x="1148.2" y="1699.3" width="6.5" height="6.5" fill="#ff0000"/>
<rect x="1145.2" y="1703.9" width="6.5" height="6.5" fill="#ff0000"/>
<rect x="1161.3" y="1753.5" width="12.4" height="34" fill="#a6f8a6" stroke="#00bb00" stroke-width="2.4" stroke-linejoin="round"/>
<path d="M1161.2 1755.2L1167.8 1755.2L1164.5 1749.4Z" fill="#00bb00"/>
<path d="M1167.2 1753.7L1173.8 1753.7L1170.5 1747.8Z" fill="#00bb00"/>
<path d="M1164.2 1758.3L1170.8 1758.3L1167.5 1752.5Z" fill="#00bb00"/>
<text x="1148.5" y="1704.9" font-size="20" text-anchor="middle">*</text>
<text x="1167.5" y="1752.6" font-size="20" text-anchor="middle">**</text>
<text transform="translate(1156.5,1809) rotate(-45)" font-size="16.4" text-anchor="end">HK2</text>
<line x1="1218.9" y1="1787.5" x2="1218.9" y2="1794" stroke="#000" stroke-width="2"/>
<rect x="1193.7" y="1632" width="12.4" height="155.5" fill="#95c4f8" stroke="#0000ff" stroke-width="2.4" stroke-linejoin="round"/>
<circle cx="1196.9" cy="1630.8" r="3.2" fill="#0000ff"/>
<circle cx="1202.9" cy="1629.3" r="3.2" fill="#0000ff"/>
<circle cx="1199.9" cy="1634" r="3.2" fill="#0000ff"/>
<rect x="1212.7" y="1671.4" width="12.4" height="116.1" fill="#ffa4a4" stroke="#ff0000" stroke-width="2.4" stroke-linejoin="round"/>
<rect x="1212.6" y="1667" width="6.5" height="6.5" fill="#ff0000"/>
<rect x="1218.6" y="1665.4" width="6.5" height="6.5" fill="#ff0000"/>
<rect x="1215.6" y="1670.1" width="6.5" height="6.5" fill="#ff0000"/>
<rect x="1231.7" y="1718.3" width="12.4" height="69.2" fill="#a6f8a6" stroke="#00bb00" stroke-width="2.4" stroke-linejoin="round"/>
<path d="M1231.6 1720L1238.1 1720L1234.9 1714.2Z" fill="#00bb00"/>
<path d="M1237.6 1718.5L1244.1 1718.5L1240.9 1712.6Z" fill="#00bb00"/>
<path d="M1234.6 1723.1L1241.1 1723.1L1237.9 1717.3Z" fill="#00bb00"/>
<text x="1218.9" y="1671" font-size="20" text-anchor="middle">*</text>
<text x="1237.9" y="1717.4" font-size="20" text-anchor="middle">**</text>
<text transform="translate(1226.9,1809) rotate(-45)" font-size="16.4" text-anchor="end">LDHA</text>
<line x1="1289.3" y1="1787.5" x2="1289.3" y2="1794" stroke="#000" stroke-width="2"/>
<rect x="1264.1" y="1636.7" width="12.4" height="150.8" fill="#95c4f8" stroke="#0000ff" stroke-width="2.4" stroke-linejoin="round"/>
<circle cx="1267.3" cy="1635.5" r="3.2" fill="#0000ff"/>
<circle cx="1273.3" cy="1634" r="3.2" fill="#0000ff"/>
<circle cx="1270.3" cy="1638.6" r="3.2" fill="#0000ff"/>
<rect x="1283.1" y="1718.3" width="12.4" height="69.2" fill="#ffa4a4" stroke="#ff0000" stroke-width="2.4" stroke-linejoin="round"/>
<rect x="1283" y="1713.8" width="6.5" height="6.5" fill="#ff0000"/>
<rect x="1289" y="1712.3" width="6.5" height="6.5" fill="#ff0000"/>
<rect x="1286" y="1716.9" width="6.5" height="6.5" fill="#ff0000"/>
<rect x="1302.1" y="1757.1" width="12.4" height="30.4" fill="#a6f8a6" stroke="#00bb00" stroke-width="2.4" stroke-linejoin="round"/>
<path d="M1302 1758.8L1308.5 1758.8L1305.3 1752.9Z" fill="#00bb00"/>
<path d="M1308 1757.2L1314.5 1757.2L1311.3 1751.4Z" fill="#00bb00"/>
<path d="M1305 1761.9L1311.5 1761.9L1308.3 1756Z" fill="#00bb00"/>
<text x="1289.3" y="1717.9" font-size="20" text-anchor="middle">*</text>
<text x="1308.3" y="1756.2" font-size="20" text-anchor="middle">**</text>
<text transform="translate(1297.3,1809) rotate(-45)" font-size="16.4" text-anchor="end">PGK1</text>
<line x1="1359.7" y1="1787.5" x2="1359.7" y2="1794" stroke="#000" stroke-width="2"/>
<rect x="1334.5" y="1636.7" width="12.4" height="150.8" fill="#95c4f8" stroke="#0000ff" stroke-width="2.4" stroke-linejoin="round"/>
<circle cx="1337.7" cy="1635.5" r="3.2" fill="#0000ff"/>
<circle cx="1343.7" cy="1634" r="3.2" fill="#0000ff"/>
<circle cx="1340.7" cy="1638.6" r="3.2" fill="#0000ff"/>
<rect x="1353.5" y="1690.4" width="12.4" height="97.1" fill="#ffa4a4" stroke="#ff0000" stroke-width="2.4" stroke-linejoin="round"/>
<rect x="1353.4" y="1685.9" width="6.5" height="6.5" fill="#ff0000"/>
<rect x="1359.4" y="1684.4" width="6.5" height="6.5" fill="#ff0000"/>
<rect x="1356.4" y="1689" width="6.5" height="6.5" fill="#ff0000"/>
<rect x="1372.5" y="1752.9" width="12.4" height="34.6" fill="#a6f8a6" stroke="#00bb00" stroke-width="2.4" stroke-linejoin="round"/>
<path d="M1372.4 1754.6L1378.9 1754.6L1375.7 1748.7Z" fill="#00bb00"/>
<path d="M1378.4 1753L1384.9 1753L1381.7 1747.2Z" fill="#00bb00"/>
<path d="M1375.4 1757.7L1381.9 1757.7L1378.7 1751.8Z" fill="#00bb00"/>
<text x="1359.7" y="1690" font-size="20" text-anchor="middle">*</text>
<text x="1378.7" y="1752" font-size="20" text-anchor="middle">**</text>
<text transform="translate(1367.7,1809) rotate(-45)" font-size="16.4" text-anchor="end">GPI</text>
<text transform="translate(980.8,1670.5) rotate(-90)" font-size="21.2" text-anchor="middle">Relative mRNA expression</text>
<circle cx="1291.8" cy="1543.5" r="3" fill="#0000ff"/>
<text x="1301.4" y="1549.3" font-size="16.4">Con</text>
<rect x="1288.8" y="1567.4" width="6" height="6" fill="#ff0000"/>
<text x="1301.4" y="1576.2" font-size="16.4">Fasting 24 h</text>
<path d="M1288.8 1600.4L1294.8 1600.4L1291.8 1595Z" fill="#00bb00"/>
<text x="1301.4" y="1603.5" font-size="16.4">Fasting 48 h</text>
<text x="7.5" y="1978.5" font-size="42" font-weight="bold">i</text>
<line x1="119.6" y1="1982.5" x2="119.6" y2="2177.2" stroke="#000" stroke-width="2"/>
<line x1="113.6" y1="2176.2" x2="119.6" y2="2176.2" stroke="#000" stroke-width="2"/>
<text x="106.9" y="2183.8" font-size="21.2" text-anchor="end">0</text>
<line x1="113.6" y1="2127.8" x2="119.6" y2="2127.8" stroke="#000" stroke-width="2"/>
<text x="106.9" y="2135.4" font-size="21.2" text-anchor="end">100</text>
<line x1="113.6" y1="2079.4" x2="119.6" y2="2079.4" stroke="#000" stroke-width="2"/>
<text x="106.9" y="2087" font-size="21.2" text-anchor="end">200</text>
<line x1="113.6" y1="2031" x2="119.6" y2="2031" stroke="#000" stroke-width="2"/>
<text x="106.9" y="2038.6" font-size="21.2" text-anchor="end">300</text>
<line x1="113.6" y1="1982.6" x2="119.6" y2="1982.6" stroke="#000" stroke-width="2"/>
<text x="106.9" y="1990.2" font-size="21.2" text-anchor="end">400</text>
<line x1="118.6" y1="2176.2" x2="482.3" y2="2176.2" stroke="#000" stroke-width="2"/>
<line x1="135.5" y1="2176.2" x2="135.5" y2="2182" stroke="#000" stroke-width="2"/>
<text x="135.5" y="2200.9" font-size="20.5" text-anchor="middle" letter-spacing="-0.8">9</text>
<line x1="161.1" y1="2176.2" x2="161.1" y2="2182" stroke="#000" stroke-width="2"/>
<text x="161.1" y="2200.9" font-size="20.5" text-anchor="middle" letter-spacing="-0.8">11</text>
<line x1="186.7" y1="2176.2" x2="186.7" y2="2182" stroke="#000" stroke-width="2"/>
<text x="186.7" y="2200.9" font-size="20.5" text-anchor="middle" letter-spacing="-0.8">12</text>
<line x1="212.3" y1="2176.2" x2="212.3" y2="2182" stroke="#000" stroke-width="2"/>
<text x="212.3" y="2200.9" font-size="20.5" text-anchor="middle" letter-spacing="-0.8">13</text>
<line x1="237.9" y1="2176.2" x2="237.9" y2="2182" stroke="#000" stroke-width="2"/>
<text x="237.9" y="2200.9" font-size="20.5" text-anchor="middle" letter-spacing="-0.8">14</text>
<line x1="263.5" y1="2176.2" x2="263.5" y2="2182" stroke="#000" stroke-width="2"/>
<text x="263.5" y="2200.9" font-size="20.5" text-anchor="middle" letter-spacing="-0.8">15</text>
<line x1="289.1" y1="2176.2" x2="289.1" y2="2182" stroke="#000" stroke-width="2"/>
<text x="289.1" y="2200.9" font-size="20.5" text-anchor="middle" letter-spacing="-0.8">16</text>
<line x1="314.7" y1="2176.2" x2="314.7" y2="2182" stroke="#000" stroke-width="2"/>
<text x="314.7" y="2200.9" font-size="20.5" text-anchor="middle" letter-spacing="-0.8">18</text>
<line x1="340.3" y1="2176.2" x2="340.3" y2="2182" stroke="#000" stroke-width="2"/>
<text x="340.3" y="2200.9" font-size="20.5" text-anchor="middle" letter-spacing="-0.8">19</text>
<line x1="365.9" y1="2176.2" x2="365.9" y2="2182" stroke="#000" stroke-width="2"/>
<text x="365.9" y="2200.9" font-size="20.5" text-anchor="middle" letter-spacing="-0.8">20</text>
<line x1="391.5" y1="2176.2" x2="391.5" y2="2182" stroke="#000" stroke-width="2"/>
<text x="391.5" y="2200.9" font-size="20.5" text-anchor="middle" letter-spacing="-0.8">21</text>
<line x1="417.1" y1="2176.2" x2="417.1" y2="2182" stroke="#000" stroke-width="2"/>
<text x="417.1" y="2200.9" font-size="20.5" text-anchor="middle" letter-spacing="-0.8">22</text>
<line x1="442.7" y1="2176.2" x2="442.7" y2="2182" stroke="#000" stroke-width="2"/>
<text x="442.7" y="2200.9" font-size="20.5" text-anchor="middle" letter-spacing="-0.8">23</text>
<line x1="468.3" y1="2176.2" x2="468.3" y2="2182" stroke="#000" stroke-width="2"/>
<text x="468.3" y="2200.9" font-size="20.5" text-anchor="middle" letter-spacing="-0.8">25</text>
<text x="299.7" y="2234" font-size="20.5" text-anchor="middle">Time (days)</text>
<text transform="translate(56,2079) rotate(-90)" font-size="20.5" text-anchor="middle">Tumor volume (mm<tspan font-size="13" dy="-8">3</tspan><tspan dy="8">)</tspan></text>
<path d="M135.5 2175.2L161.1 2172.3L186.7 2170.4L212.3 2168.9L237.9 2168.5L263.5 2165.6L289.1 2161.7L314.7 2156.8L340.3 2157.3L365.9 2151L391.5 2145.7L417.1 2140.9L442.7 2121.5L468.3 2119.6" stroke="#ff0000" stroke-width="2.4" fill="none"/>
<circle cx="135.5" cy="2175.2" r="3.6" fill="#ff0000"/>
<circle cx="161.1" cy="2172.3" r="3.6" fill="#ff0000"/>
<circle cx="186.7" cy="2170.4" r="3.6" fill="#ff0000"/>
<circle cx="212.3" cy="2168.9" r="3.6" fill="#ff0000"/>
<circle cx="237.9" cy="2168.5" r="3.6" fill="#ff0000"/>
<circle cx="263.5" cy="2165.6" r="3.6" fill="#ff0000"/>
<circle cx="289.1" cy="2161.7" r="3.6" fill="#ff0000"/>
<line x1="314.7" y1="2153" x2="314.7" y2="2160.7" stroke="#ff0000" stroke-width="2.4"/>
<line x1="310.7" y1="2153" x2="318.7" y2="2153" stroke="#ff0000" stroke-width="2.4"/>
<line x1="310.7" y1="2160.7" x2="318.7" y2="2160.7" stroke="#ff0000" stroke-width="2.4"/>
<circle cx="314.7" cy="2156.8" r="3.6" fill="#ff0000"/>
<line x1="340.3" y1="2153.5" x2="340.3" y2="2161.2" stroke="#ff0000" stroke-width="2.4"/>
<line x1="336.3" y1="2153.5" x2="344.3" y2="2153.5" stroke="#ff0000" stroke-width="2.4"/>
<line x1="336.3" y1="2161.2" x2="344.3" y2="2161.2" stroke="#ff0000" stroke-width="2.4"/>
<circle cx="340.3" cy="2157.3" r="3.6" fill="#ff0000"/>
<line x1="365.9" y1="2146.2" x2="365.9" y2="2155.9" stroke="#ff0000" stroke-width="2.4"/>
<line x1="361.9" y1="2146.2" x2="369.9" y2="2146.2" stroke="#ff0000" stroke-width="2.4"/>
<line x1="361.9" y1="2155.9" x2="369.9" y2="2155.9" stroke="#ff0000" stroke-width="2.4"/>
<circle cx="365.9" cy="2151" r="3.6" fill="#ff0000"/>
<line x1="391.5" y1="2140.9" x2="391.5" y2="2150.5" stroke="#ff0000" stroke-width="2.4"/>
<line x1="387.5" y1="2140.9" x2="395.5" y2="2140.9" stroke="#ff0000" stroke-width="2.4"/>
<line x1="387.5" y1="2150.5" x2="395.5" y2="2150.5" stroke="#ff0000" stroke-width="2.4"/>
<circle cx="391.5" cy="2145.7" r="3.6" fill="#ff0000"/>
<line x1="417.1" y1="2132.6" x2="417.1" y2="2149.1" stroke="#ff0000" stroke-width="2.4"/>
<line x1="413.1" y1="2132.6" x2="421.1" y2="2132.6" stroke="#ff0000" stroke-width="2.4"/>
<line x1="413.1" y1="2149.1" x2="421.1" y2="2149.1" stroke="#ff0000" stroke-width="2.4"/>
<circle cx="417.1" cy="2140.9" r="3.6" fill="#ff0000"/>
<line x1="442.7" y1="2104.6" x2="442.7" y2="2138.4" stroke="#ff0000" stroke-width="2.4"/>
<line x1="438.7" y1="2104.6" x2="446.7" y2="2104.6" stroke="#ff0000" stroke-width="2.4"/>
<line x1="438.7" y1="2138.4" x2="446.7" y2="2138.4" stroke="#ff0000" stroke-width="2.4"/>
<circle cx="442.7" cy="2121.5" r="3.6" fill="#ff0000"/>
<line x1="468.3" y1="2102.6" x2="468.3" y2="2136.5" stroke="#ff0000" stroke-width="2.4"/>
<line x1="464.3" y1="2102.6" x2="472.3" y2="2102.6" stroke="#ff0000" stroke-width="2.4"/>
<line x1="464.3" y1="2136.5" x2="472.3" y2="2136.5" stroke="#ff0000" stroke-width="2.4"/>
<circle cx="468.3" cy="2119.6" r="3.6" fill="#ff0000"/>
<path d="M135.5 2175.2L161.1 2165.1L186.7 2160.2L212.3 2159.3L237.9 2157.3L263.5 2157.3L289.1 2147.2L314.7 2139.9L340.3 2119.1L365.9 2112.8L391.5 2122L417.1 2086.7L442.7 2068.3L468.3 2039.7" stroke="#00007f" stroke-width="2.4" fill="none"/>
<rect x="131.5" y="2171.2" width="8" height="8" fill="#00007f"/>
<rect x="157.1" y="2161.1" width="8" height="8" fill="#00007f"/>
<rect x="182.7" y="2156.2" width="8" height="8" fill="#00007f"/>
<rect x="208.3" y="2155.3" width="8" height="8" fill="#00007f"/>
<rect x="233.9" y="2153.3" width="8" height="8" fill="#00007f"/>
<rect x="259.5" y="2153.3" width="8" height="8" fill="#00007f"/>
<rect x="285.1" y="2143.2" width="8" height="8" fill="#00007f"/>
<line x1="314.7" y1="2132.6" x2="314.7" y2="2147.2" stroke="#00007f" stroke-width="2.4"/>
<line x1="310.2" y1="2132.6" x2="319.2" y2="2132.6" stroke="#00007f" stroke-width="2.4"/>
<line x1="310.2" y1="2147.2" x2="319.2" y2="2147.2" stroke="#00007f" stroke-width="2.4"/>
<rect x="310.7" y="2135.9" width="8" height="8" fill="#00007f"/>
<line x1="340.3" y1="2115.2" x2="340.3" y2="2123" stroke="#00007f" stroke-width="2.4"/>
<line x1="335.8" y1="2115.2" x2="344.8" y2="2115.2" stroke="#00007f" stroke-width="2.4"/>
<line x1="335.8" y1="2123" x2="344.8" y2="2123" stroke="#00007f" stroke-width="2.4"/>
<rect x="336.3" y="2115.1" width="8" height="8" fill="#00007f"/>
<line x1="365.9" y1="2108.9" x2="365.9" y2="2116.7" stroke="#00007f" stroke-width="2.4"/>
<line x1="361.4" y1="2108.9" x2="370.4" y2="2108.9" stroke="#00007f" stroke-width="2.4"/>
<line x1="361.4" y1="2116.7" x2="370.4" y2="2116.7" stroke="#00007f" stroke-width="2.4"/>
<rect x="361.9" y="2108.8" width="8" height="8" fill="#00007f"/>
<line x1="391.5" y1="2117.2" x2="391.5" y2="2126.8" stroke="#00007f" stroke-width="2.4"/>
<line x1="387" y1="2117.2" x2="396" y2="2117.2" stroke="#00007f" stroke-width="2.4"/>
<line x1="387" y1="2126.8" x2="396" y2="2126.8" stroke="#00007f" stroke-width="2.4"/>
<rect x="387.5" y="2118" width="8" height="8" fill="#00007f"/>
<line x1="417.1" y1="2065.8" x2="417.1" y2="2107.5" stroke="#00007f" stroke-width="2.4"/>
<line x1="412.6" y1="2065.8" x2="421.6" y2="2065.8" stroke="#00007f" stroke-width="2.4"/>
<line x1="412.6" y1="2107.5" x2="421.6" y2="2107.5" stroke="#00007f" stroke-width="2.4"/>
<rect x="413.1" y="2082.7" width="8" height="8" fill="#00007f"/>
<line x1="442.7" y1="2056.2" x2="442.7" y2="2080.4" stroke="#00007f" stroke-width="2.4"/>
<line x1="438.2" y1="2056.2" x2="447.2" y2="2056.2" stroke="#00007f" stroke-width="2.4"/>
<line x1="438.2" y1="2080.4" x2="447.2" y2="2080.4" stroke="#00007f" stroke-width="2.4"/>
<rect x="438.7" y="2064.3" width="8" height="8" fill="#00007f"/>
<line x1="468.3" y1="2013.1" x2="468.3" y2="2066.3" stroke="#00007f" stroke-width="2.4"/>
<line x1="463.8" y1="2013.1" x2="472.8" y2="2013.1" stroke="#00007f" stroke-width="2.4"/>
<line x1="463.8" y1="2066.3" x2="472.8" y2="2066.3" stroke="#00007f" stroke-width="2.4"/>
<rect x="464.3" y="2035.7" width="8" height="8" fill="#00007f"/>
<text x="161.1" y="2162.4" font-size="16.5" text-anchor="middle">*</text>
<text x="186.7" y="2157.3" font-size="16.5" text-anchor="middle">**</text>
<text x="212.3" y="2156.5" font-size="16.5" text-anchor="middle">**</text>
<text x="237.9" y="2155.4" font-size="16.5" text-anchor="middle">**</text>
<text x="263.5" y="2154.5" font-size="16.5" text-anchor="middle">**</text>
<text x="289.1" y="2144.8" font-size="16.5" text-anchor="middle">**</text>
<text x="340.3" y="2116.9" font-size="16.5" text-anchor="middle">***</text>
<text x="365.9" y="2106.6" font-size="16.5" text-anchor="middle">***</text>
<text x="391.5" y="2116" font-size="16.5" text-anchor="middle">*</text>
<text x="417.1" y="2066.8" font-size="16.5" text-anchor="middle">*</text>
<text x="442.7" y="2056.1" font-size="16.5" text-anchor="middle">*</text>
<text x="468.3" y="2013.8" font-size="16.5" text-anchor="middle">*</text>
<text x="437.2" y="1987.7" font-size="16.4"><tspan font-style="italic">P</tspan> = 0.0291</text>
<line x1="154.6" y1="1989.7" x2="174.2" y2="1989.7" stroke="#00007f" stroke-width="2.4"/>
<rect x="159.7" y="1985.2" width="9" height="9" fill="#00007f"/>
<text x="182.5" y="1995.5" font-size="16.4">Control</text>
<line x1="154.6" y1="2015.6" x2="174.2" y2="2015.6" stroke="#ff0000" stroke-width="2.4"/>
<circle cx="164.2" cy="2015.6" r="3.6" fill="#ff0000"/>
<text x="182.5" y="2021.4" font-size="16.4">FMD</text>
<text x="602" y="1979.4" font-size="42" font-weight="bold">m</text>
<rect x="688.4" y="2070.4" width="90.2" height="112.1" fill="#59a1fb" stroke="#0000ff" stroke-width="2.6"/>
<rect x="826.4" y="2155" width="90.8" height="27.5" fill="#ffa4a4" stroke="#ff0000" stroke-width="2.6"/>
<line x1="663.7" y1="1998.6" x2="663.7" y2="2183.5" stroke="#000" stroke-width="2"/>
<line x1="657.7" y1="2182.5" x2="663.7" y2="2182.5" stroke="#000" stroke-width="2"/>
<text x="651" y="2190.1" font-size="21.2" text-anchor="end">0</text>
<line x1="657.7" y1="2121.2" x2="663.7" y2="2121.2" stroke="#000" stroke-width="2"/>
<text x="651" y="2128.8" font-size="21.2" text-anchor="end">1</text>
<line x1="657.7" y1="2059.9" x2="663.7" y2="2059.9" stroke="#000" stroke-width="2"/>
<text x="651" y="2067.5" font-size="21.2" text-anchor="end">2</text>
<line x1="657.7" y1="1998.6" x2="663.7" y2="1998.6" stroke="#000" stroke-width="2"/>
<text x="651" y="2006.2" font-size="21.2" text-anchor="end">3</text>
<line x1="659.4" y1="2182.5" x2="941.8" y2="2182.5" stroke="#000" stroke-width="2"/>
<line x1="733.2" y1="2182.5" x2="733.2" y2="2189" stroke="#000" stroke-width="2"/>
<line x1="872.4" y1="2182.5" x2="872.4" y2="2189" stroke="#000" stroke-width="2"/>
<line x1="733.2" y1="2053.8" x2="733.2" y2="2084.4" stroke="#0000ff" stroke-width="2.6"/>
<line x1="710.7" y1="2053.8" x2="755.7" y2="2053.8" stroke="#0000ff" stroke-width="2.6"/>
<line x1="710.7" y1="2084.4" x2="755.7" y2="2084.4" stroke="#0000ff" stroke-width="2.6"/>
<circle cx="733.2" cy="2010.3" r="4" fill="#0000ff"/>
<circle cx="722.1" cy="2080" r="4" fill="#0000ff"/>
<circle cx="733.2" cy="2081.5" r="4" fill="#0000ff"/>
<circle cx="744.3" cy="2075.4" r="4" fill="#0000ff"/>
<circle cx="733.2" cy="2098.4" r="4" fill="#0000ff"/>
<line x1="872.4" y1="2146.6" x2="872.4" y2="2159.7" stroke="#ff0000" stroke-width="2.6"/>
<line x1="849.9" y1="2146.6" x2="894.9" y2="2146.6" stroke="#ff0000" stroke-width="2.6"/>
<line x1="849.9" y1="2159.7" x2="894.9" y2="2159.7" stroke="#ff0000" stroke-width="2.6"/>
<rect x="868.6" y="2123.2" width="7.5" height="7.5" fill="#ff0000"/>
<rect x="868.6" y="2148.7" width="7.5" height="7.5" fill="#ff0000"/>
<rect x="857.2" y="2153.1" width="7.5" height="7.5" fill="#ff0000"/>
<rect x="879.8" y="2158.8" width="7.5" height="7.5" fill="#ff0000"/>
<rect x="868.6" y="2164.8" width="7.5" height="7.5" fill="#ff0000"/>
<text x="733.2" y="2209.9" font-size="20.5" text-anchor="middle">Control</text>
<text x="872.4" y="2209.9" font-size="20.5" text-anchor="middle">FMD</text>
<text x="796.5" y="2242.9" font-size="20.5" text-anchor="middle">The 25th day</text>
<text transform="translate(620,2090.5) rotate(-90)" font-size="20.8" text-anchor="middle">Tumor weight (g)</text>
<circle cx="828" cy="2051.7" r="3.8" fill="#0000ff"/>
<text x="839.1" y="2057.4" font-size="14.2">Control</text>
<rect x="824.5" y="2070.1" width="7" height="7" fill="#ff0000"/>
<text x="839.1" y="2079.3" font-size="14.2">FMD</text>
<text x="839.1" y="2106" font-size="16.4"><tspan font-style="italic">P</tspan> = 0.001</text>
<text x="871.8" y="2123" font-size="14" text-anchor="middle">**</text>
<text x="6" y="2292.7" font-size="42" font-weight="bold">o</text>
<rect x="165.3" y="2372.7" width="85.2" height="97" fill="#59a1fb" stroke="#0000ff" stroke-width="2.6"/>
<rect x="296.1" y="2429.9" width="84.6" height="39.8" fill="#ffa4a4" stroke="#ff0000" stroke-width="2.6"/>
<line x1="141.1" y1="2295.4" x2="141.1" y2="2470.7" stroke="#000" stroke-width="2"/>
<line x1="135.1" y1="2469.7" x2="141.1" y2="2469.7" stroke="#000" stroke-width="2"/>
<text x="128.4" y="2477.3" font-size="21.2" text-anchor="end">0</text>
<line x1="135.1" y1="2434.8" x2="141.1" y2="2434.8" stroke="#000" stroke-width="2"/>
<text x="128.4" y="2442.4" font-size="21.2" text-anchor="end">100</text>
<line x1="135.1" y1="2400" x2="141.1" y2="2400" stroke="#000" stroke-width="2"/>
<text x="128.4" y="2407.6" font-size="21.2" text-anchor="end">200</text>
<line x1="135.1" y1="2365.1" x2="141.1" y2="2365.1" stroke="#000" stroke-width="2"/>
<text x="128.4" y="2372.7" font-size="21.2" text-anchor="end">300</text>
<line x1="135.1" y1="2330.3" x2="141.1" y2="2330.3" stroke="#000" stroke-width="2"/>
<text x="128.4" y="2337.8" font-size="21.2" text-anchor="end">400</text>
<line x1="135.1" y1="2295.4" x2="141.1" y2="2295.4" stroke="#000" stroke-width="2"/>
<text x="128.4" y="2303" font-size="21.2" text-anchor="end">500</text>
<line x1="138.4" y1="2469.7" x2="404.2" y2="2469.7" stroke="#000" stroke-width="2"/>
<line x1="207.4" y1="2469.7" x2="207.4" y2="2476" stroke="#000" stroke-width="2"/>
<line x1="338.2" y1="2469.7" x2="338.2" y2="2476" stroke="#000" stroke-width="2"/>
<line x1="207.4" y1="2352.5" x2="207.4" y2="2390" stroke="#0000ff" stroke-width="2.6"/>
<line x1="186.4" y1="2352.5" x2="228.4" y2="2352.5" stroke="#0000ff" stroke-width="2.6"/>
<line x1="186.4" y1="2390" x2="228.4" y2="2390" stroke="#0000ff" stroke-width="2.6"/>
<circle cx="207.4" cy="2313.5" r="3.8" fill="#0000ff"/>
<circle cx="207.4" cy="2327.9" r="3.8" fill="#0000ff"/>
<circle cx="207.4" cy="2354.5" r="3.8" fill="#0000ff"/>
<circle cx="207.4" cy="2400.7" r="3.8" fill="#0000ff"/>
<circle cx="212.5" cy="2411.9" r="3.8" fill="#0000ff"/>
<circle cx="202.6" cy="2421.5" r="3.8" fill="#0000ff"/>
<line x1="338.2" y1="2416.4" x2="338.2" y2="2441.3" stroke="#ff0000" stroke-width="2.6"/>
<line x1="317.2" y1="2416.4" x2="359.2" y2="2416.4" stroke="#ff0000" stroke-width="2.6"/>
<line x1="317.2" y1="2441.3" x2="359.2" y2="2441.3" stroke="#ff0000" stroke-width="2.6"/>
<rect x="334.7" y="2368.5" width="7" height="7" fill="#ff0000"/>
<rect x="334.7" y="2417.3" width="7" height="7" fill="#ff0000"/>
<rect x="329.6" y="2432.7" width="7" height="7" fill="#ff0000"/>
<rect x="339.9" y="2434.4" width="7" height="7" fill="#ff0000"/>
<rect x="329.6" y="2450.8" width="7" height="7" fill="#ff0000"/>
<rect x="339.9" y="2449.1" width="7" height="7" fill="#ff0000"/>
<text x="207.4" y="2496.7" font-size="20.5" text-anchor="middle">Control</text>
<text x="345.5" y="2496.7" font-size="20.5" text-anchor="middle">FMD</text>
<text x="271.6" y="2528.4" font-size="20.5" text-anchor="middle">The 25th day</text>
<text transform="translate(77.5,2382) rotate(-90)" font-size="20.5" text-anchor="middle">Tumor volume (mm<tspan font-size="13" dy="-8">3</tspan><tspan dy="8">)</tspan></text>
<circle cx="286.3" cy="2297.8" r="3.8" fill="#0000ff"/>
<text x="299" y="2303.5" font-size="14.2">Control</text>
<rect x="282.8" y="2315.9" width="7" height="7" fill="#ff0000"/>
<text x="299" y="2325.1" font-size="14.2">FMD</text>
<text x="286.3" y="2350.8" font-size="16.4"><tspan font-style="italic">P</tspan> = 0.0292</text>
<text x="338.2" y="2370" font-size="14" text-anchor="middle">*</text>
<text x="602" y="2294" font-size="42" font-weight="bold">p</text>
<rect x="691.6" y="2358.5" width="88.4" height="118.5" fill="#59a1fb" stroke="#0000ff" stroke-width="2.6"/>
<rect x="825.5" y="2417.2" width="88.2" height="59.8" fill="#ffa4a4" stroke="#ff0000" stroke-width="2.6"/>
<line x1="667.5" y1="2297.3" x2="667.5" y2="2478" stroke="#000" stroke-width="2"/>
<line x1="661.5" y1="2477" x2="667.5" y2="2477" stroke="#000" stroke-width="2"/>
<text x="654.8" y="2484.6" font-size="21.2" text-anchor="end">0</text>
<line x1="661.5" y1="2417.1" x2="667.5" y2="2417.1" stroke="#000" stroke-width="2"/>
<text x="654.8" y="2424.7" font-size="21.2" text-anchor="end">1</text>
<line x1="661.5" y1="2357.2" x2="667.5" y2="2357.2" stroke="#000" stroke-width="2"/>
<text x="654.8" y="2364.8" font-size="21.2" text-anchor="end">2</text>
<line x1="661.5" y1="2297.3" x2="667.5" y2="2297.3" stroke="#000" stroke-width="2"/>
<text x="654.8" y="2304.9" font-size="21.2" text-anchor="end">3</text>
<line x1="663.7" y1="2477" x2="937.5" y2="2477" stroke="#000" stroke-width="2"/>
<line x1="736.1" y1="2477" x2="736.1" y2="2483.5" stroke="#000" stroke-width="2"/>
<line x1="869.8" y1="2477" x2="869.8" y2="2483.5" stroke="#000" stroke-width="2"/>
<line x1="736.1" y1="2336.1" x2="736.1" y2="2379.3" stroke="#0000ff" stroke-width="2.6"/>
<line x1="714.1" y1="2336.1" x2="758.1" y2="2336.1" stroke="#0000ff" stroke-width="2.6"/>
<line x1="714.1" y1="2379.3" x2="758.1" y2="2379.3" stroke="#0000ff" stroke-width="2.6"/>
<circle cx="736.1" cy="2315.7" r="3.8" fill="#0000ff"/>
<circle cx="736.1" cy="2369.6" r="3.8" fill="#0000ff"/>
<circle cx="736.1" cy="2387.1" r="3.8" fill="#0000ff"/>
<line x1="869.8" y1="2407.6" x2="869.8" y2="2424.2" stroke="#ff0000" stroke-width="2.6"/>
<line x1="847.8" y1="2407.6" x2="891.8" y2="2407.6" stroke="#ff0000" stroke-width="2.6"/>
<line x1="847.8" y1="2424.2" x2="891.8" y2="2424.2" stroke="#ff0000" stroke-width="2.6"/>
<rect x="866.3" y="2396.2" width="7" height="7" fill="#ff0000"/>
<rect x="861" y="2421.6" width="7" height="7" fill="#ff0000"/>
<rect x="871.8" y="2420.1" width="7" height="7" fill="#ff0000"/>
<text x="736.1" y="2504.5" font-size="20.5" text-anchor="middle">Control</text>
<text x="869.8" y="2504.5" font-size="20.5" text-anchor="middle">FMD</text>
<text transform="translate(628,2385.7) rotate(-90)" font-size="21.3" text-anchor="middle">SUVmax</text>
<circle cx="814.3" cy="2322.4" r="3.8" fill="#0000ff"/>
<text x="826.6" y="2328.1" font-size="14.2">Control</text>
<rect x="810.8" y="2340.5" width="7" height="7" fill="#ff0000"/>
<text x="826.6" y="2349.7" font-size="14.2">FMD</text>
<text x="839.7" y="2377.5" font-size="16.4"><tspan font-style="italic">P</tspan> = 0.0459</text>
<text x="869.8" y="2396" font-size="14" text-anchor="middle">*</text>
<text x="1007" y="1934" font-size="42" font-weight="bold">n</text>
<text x="1073.6" y="2037.4" font-size="20.5" text-anchor="end">Control</text>
<text x="1073.6" y="2336.6" font-size="20.5" text-anchor="end">FMD</text>
<defs><filter id="bp1" x="-30%" y="-30%" width="160%" height="160%"><feGaussianBlur stdDeviation="1"/></filter><filter id="bp2" x="-30%" y="-30%" width="160%" height="160%"><feGaussianBlur stdDeviation="2"/></filter><filter id="bp3" x="-30%" y="-30%" width="160%" height="160%"><feGaussianBlur stdDeviation="3.5"/></filter></defs>
<clipPath id="cpp1"><rect x="1090.3" y="1925" width="85.5" height="256"/></clipPath>
<rect x="1090.3" y="1925" width="85.5" height="256" fill="#050505"/>
<g clip-path="url(#cpp1)">
<path d="M1094.8 1925V2181M1171.3 1925V2181" stroke="#8a8a8a" stroke-width="1.8" stroke-dasharray="3 1.2" opacity="0.8"/>
<path d="M1099.3 1925V2181M1166.8 1925V2181" stroke="#6a6a6a" stroke-width="1.2" opacity="0.7"/>
<path d="M1107.4 1927V1942H1158.7V1927" stroke="#a8a8a8" stroke-width="3.2" fill="none"/>
<path d="M1105.7 1928H1160.4" stroke="#a8a8a8" stroke-width="3" fill="none"/>
<ellipse cx="1158.7" cy="2170.8" rx="4" ry="2.5" fill="#5a80b0"/><ellipse cx="1124.5" cy="1935.2" rx="3" ry="2" fill="#3a5ac8"/>
<clipPath id="cpm1"><path d="M1122.8 1944.2L1131.3 1945.7L1139.5 1956L1143.7 1971.6L1145.7 1981.8L1151.9 1988L1158.2 2000.5L1160.2 2015.1L1159.2 2025.4L1154 2031.5L1153 2046.1L1150.9 2066.6L1149.9 2087.3L1149.9 2106L1158.2 2108L1164.4 2118.5L1165.5 2128.8L1162.3 2139L1160.2 2149.5L1154 2156.7L1141.6 2160.8L1129.2 2161.3L1118.8 2158.7L1108.4 2151.6L1102.2 2139L1099.1 2123.7L1099.1 2108L1106.4 2102.9L1110.5 2092.7L1112.6 2071.9L1111.5 2051.2L1108.4 2035.6L1105.3 2020.2L1108.4 2009.7L1115.7 2000.5L1118.8 1985.9L1118.8 1971.6L1115.7 1952.9L1118.8 1946.8Z"/></clipPath>
<path d="M1122.8 1944.2L1131.3 1945.7L1139.5 1956L1143.7 1971.6L1145.7 1981.8L1151.9 1988L1158.2 2000.5L1160.2 2015.1L1159.2 2025.4L1154 2031.5L1153 2046.1L1150.9 2066.6L1149.9 2087.3L1149.9 2106L1158.2 2108L1164.4 2118.5L1165.5 2128.8L1162.3 2139L1160.2 2149.5L1154 2156.7L1141.6 2160.8L1129.2 2161.3L1118.8 2158.7L1108.4 2151.6L1102.2 2139L1099.1 2123.7L1099.1 2108L1106.4 2102.9L1110.5 2092.7L1112.6 2071.9L1111.5 2051.2L1108.4 2035.6L1105.3 2020.2L1108.4 2009.7L1115.7 2000.5L1118.8 1985.9L1118.8 1971.6L1115.7 1952.9L1118.8 1946.8Z" fill="#505050" stroke="#444" stroke-width="4" filter="url(#bp1)" stroke-linejoin="round"/>
<path d="M1122.8 1944.2L1131.3 1945.7L1139.5 1956L1143.7 1971.6L1145.7 1981.8L1151.9 1988L1158.2 2000.5L1160.2 2015.1L1159.2 2025.4L1154 2031.5L1153 2046.1L1150.9 2066.6L1149.9 2087.3L1149.9 2106L1158.2 2108L1164.4 2118.5L1165.5 2128.8L1162.3 2139L1160.2 2149.5L1154 2156.7L1141.6 2160.8L1129.2 2161.3L1118.8 2158.7L1108.4 2151.6L1102.2 2139L1099.1 2123.7L1099.1 2108L1106.4 2102.9L1110.5 2092.7L1112.6 2071.9L1111.5 2051.2L1108.4 2035.6L1105.3 2020.2L1108.4 2009.7L1115.7 2000.5L1118.8 1985.9L1118.8 1971.6L1115.7 1952.9L1118.8 1946.8Z" fill="#3444a8" stroke="#2838c0" stroke-width="3" filter="url(#bp1)" stroke-linejoin="round" opacity="0.95"/>
<g clip-path="url(#cpm1)">
<ellipse cx="1133" cy="2032.5" rx="25.6" ry="15.4" fill="#3a9a8a" filter="url(#bp3)"/>
<ellipse cx="1128.8" cy="1973.6" rx="17.1" ry="25.6" fill="#3aa078" filter="url(#bp3)"/>
<ellipse cx="1128.8" cy="1973.6" rx="12.8" ry="23" fill="#c0a050" filter="url(#bp3)"/>
<ellipse cx="1128.8" cy="1976.2" rx="8.6" ry="15.4" fill="#c88848" filter="url(#bp2)"/>
<ellipse cx="1133" cy="2001.8" rx="23.9" ry="15.4" fill="#c89048" filter="url(#bp3)"/>
<ellipse cx="1117.7" cy="2022.3" rx="17.1" ry="19.2" fill="#3aa080" filter="url(#bp2)"/>
<ellipse cx="1117.7" cy="2022.3" rx="14.7" ry="16.5" fill="#b8b848" filter="url(#bp2)"/>
<ellipse cx="1117.7" cy="2022.3" rx="12.7" ry="14.2" fill="#d88838" filter="url(#bp1)"/>
<ellipse cx="1117.7" cy="2022.3" rx="10.9" ry="12.3" fill="#d0305a" filter="url(#bp1)"/>
<ellipse cx="1117.7" cy="2022.3" rx="9.4" ry="10.6" fill="#c8c8c8" filter="url(#bp1)"/>
<ellipse cx="1146.7" cy="2012" rx="17.1" ry="23" fill="#3aa080" filter="url(#bp2)"/>
<ellipse cx="1146.7" cy="2012" rx="14.7" ry="19.8" fill="#b8b848" filter="url(#bp2)"/>
<ellipse cx="1146.7" cy="2012" rx="12.7" ry="17" fill="#d88838" filter="url(#bp1)"/>
<ellipse cx="1146.7" cy="2012" rx="10.9" ry="14.7" fill="#d0305a" filter="url(#bp1)"/>
<ellipse cx="1146.7" cy="2012" rx="9.4" ry="12.7" fill="#cfcfcf" filter="url(#bp1)"/>
<ellipse cx="1146.7" cy="2012" rx="4.3" ry="7.7" fill="#d05060" filter="url(#bp1)"/>
<ellipse cx="1130.5" cy="2065.8" rx="15.4" ry="25.6" fill="#3458b8" filter="url(#bp3)"/>
<ellipse cx="1120.2" cy="2078.6" rx="5.1" ry="15.4" fill="#3a8a9a" filter="url(#bp2)"/>
<ellipse cx="1131.3" cy="2129.8" rx="34.2" ry="28.2" fill="#3aa080" filter="url(#bp2)"/>
<ellipse cx="1131.3" cy="2132.4" rx="29.9" ry="24.3" fill="#c0a048" filter="url(#bp2)"/>
<ellipse cx="1131.3" cy="2134.9" rx="25.6" ry="21.8" fill="#c87838" filter="url(#bp2)"/>
<ellipse cx="1129.6" cy="2129.8" rx="20.5" ry="20.5" fill="#3a5aa8" filter="url(#bp2)"/>
<ellipse cx="1127.9" cy="2129.8" rx="17.1" ry="17.9" fill="#686868" filter="url(#bp1)"/>
<ellipse cx="1133" cy="2109.3" rx="10.3" ry="3.8" fill="#d07040" filter="url(#bp1)"/>
<ellipse cx="1158.7" cy="2118.3" rx="9.4" ry="12.8" fill="#3aa080" filter="url(#bp2)"/>
<ellipse cx="1158.7" cy="2118.3" rx="8.1" ry="11" fill="#b8b848" filter="url(#bp2)"/>
<ellipse cx="1158.7" cy="2118.3" rx="7" ry="9.5" fill="#d88838" filter="url(#bp1)"/>
<ellipse cx="1158.7" cy="2118.3" rx="6" ry="8.2" fill="#d0305a" filter="url(#bp1)"/>
<ellipse cx="1158.7" cy="2118.3" rx="5.2" ry="7" fill="#d8d8d8" filter="url(#bp1)"/>
</g>
</g>
<path d="M1154.4 2149.6L1169.3 2157.1L1154.4 2164.5Z" fill="#e8203a"/>
<clipPath id="cpp2"><rect x="1193.5" y="1925" width="84.8" height="256"/></clipPath>
<rect x="1193.5" y="1925" width="84.8" height="256" fill="#050505"/>
<g clip-path="url(#cpp2)">
<path d="M1198 1925V2181M1273.8 1925V2181" stroke="#8a8a8a" stroke-width="1.8" stroke-dasharray="3 1.2" opacity="0.8"/>
<path d="M1202.5 1925V2181M1269.3 1925V2181" stroke="#6a6a6a" stroke-width="1.2" opacity="0.7"/>
<path d="M1210.5 1927V1942H1261.3V1927" stroke="#a8a8a8" stroke-width="3.2" fill="none"/>
<path d="M1208.8 1928H1263" stroke="#a8a8a8" stroke-width="3" fill="none"/>
<ellipse cx="1208.8" cy="2164.4" rx="5" ry="3" fill="#3a8aa0"/><ellipse cx="1254.6" cy="2169.5" rx="3" ry="3" fill="#90c0e0"/>
<clipPath id="cpm2"><path d="M1231.1 1943.7L1239.4 1945.7L1244 1956L1251.8 1965.2L1255.8 1979.8L1252.8 1992.1L1253.8 2000.3L1262 2006.7L1264.1 2020L1262 2033.3L1260 2045.8L1262 2066.3L1266.2 2087L1268.2 2107.8L1268.2 2128.3L1264.1 2143.9L1255.8 2152.1L1241.4 2155.1L1229 2155.1L1218.8 2152.1L1212.6 2143.9L1207.4 2128.3L1203.3 2112.9L1204.4 2097.3L1209.4 2081.9L1209.4 2061.2L1210.5 2045.8L1208.4 2035.3L1205.4 2025.1L1205.4 2012.8L1212.6 2006.7L1219.8 2000.3L1222.8 1989L1221.8 1971.3L1223.9 1952.9L1226 1945.7Z"/></clipPath>
<path d="M1231.1 1943.7L1239.4 1945.7L1244 1956L1251.8 1965.2L1255.8 1979.8L1252.8 1992.1L1253.8 2000.3L1262 2006.7L1264.1 2020L1262 2033.3L1260 2045.8L1262 2066.3L1266.2 2087L1268.2 2107.8L1268.2 2128.3L1264.1 2143.9L1255.8 2152.1L1241.4 2155.1L1229 2155.1L1218.8 2152.1L1212.6 2143.9L1207.4 2128.3L1203.3 2112.9L1204.4 2097.3L1209.4 2081.9L1209.4 2061.2L1210.5 2045.8L1208.4 2035.3L1205.4 2025.1L1205.4 2012.8L1212.6 2006.7L1219.8 2000.3L1222.8 1989L1221.8 1971.3L1223.9 1952.9L1226 1945.7Z" fill="#505050" stroke="#444" stroke-width="4" filter="url(#bp1)" stroke-linejoin="round"/>
<path d="M1231.1 1943.7L1239.4 1945.7L1244 1956L1251.8 1965.2L1255.8 1979.8L1252.8 1992.1L1253.8 2000.3L1262 2006.7L1264.1 2020L1262 2033.3L1260 2045.8L1262 2066.3L1266.2 2087L1268.2 2107.8L1268.2 2128.3L1264.1 2143.9L1255.8 2152.1L1241.4 2155.1L1229 2155.1L1218.8 2152.1L1212.6 2143.9L1207.4 2128.3L1203.3 2112.9L1204.4 2097.3L1209.4 2081.9L1209.4 2061.2L1210.5 2045.8L1208.4 2035.3L1205.4 2025.1L1205.4 2012.8L1212.6 2006.7L1219.8 2000.3L1222.8 1989L1221.8 1971.3L1223.9 1952.9L1226 1945.7Z" fill="#3444a8" stroke="#2838c0" stroke-width="3" filter="url(#bp1)" stroke-linejoin="round" opacity="0.95"/>
<g clip-path="url(#cpm2)">
<ellipse cx="1235.9" cy="1971.1" rx="25.4" ry="33.3" fill="#3aa078" filter="url(#bp3)"/>
<ellipse cx="1235.9" cy="1976.2" rx="18.7" ry="28.2" fill="#c09048" filter="url(#bp3)"/>
<ellipse cx="1235.9" cy="2001.8" rx="8.5" ry="10.2" fill="#c09048" filter="url(#bp2)"/>
<ellipse cx="1232.2" cy="1951.9" rx="8.5" ry="10.2" fill="#3aa080" filter="url(#bp2)"/>
<ellipse cx="1232.2" cy="1951.9" rx="7.3" ry="8.8" fill="#b8b848" filter="url(#bp2)"/>
<ellipse cx="1232.2" cy="1951.9" rx="6.3" ry="7.6" fill="#d88838" filter="url(#bp1)"/>
<ellipse cx="1232.2" cy="1951.9" rx="5.4" ry="6.6" fill="#d0305a" filter="url(#bp1)"/>
<ellipse cx="1232.2" cy="1951.9" rx="4.7" ry="5.6" fill="#d8d8d8" filter="url(#bp1)"/>
<ellipse cx="1230" cy="1982.6" rx="10.2" ry="14.1" fill="#3aa080" filter="url(#bp2)"/>
<ellipse cx="1230" cy="1982.6" rx="8.8" ry="12.1" fill="#b8b848" filter="url(#bp2)"/>
<ellipse cx="1230" cy="1982.6" rx="7.5" ry="10.4" fill="#d88838" filter="url(#bp1)"/>
<ellipse cx="1230" cy="1982.6" rx="6.5" ry="9" fill="#d0305a" filter="url(#bp1)"/>
<ellipse cx="1230" cy="1982.6" rx="5.6" ry="7.7" fill="#cfcfcf" filter="url(#bp1)"/>
<ellipse cx="1244.4" cy="1977.5" rx="12.7" ry="19.2" fill="#3aa080" filter="url(#bp2)"/>
<ellipse cx="1244.4" cy="1977.5" rx="10.9" ry="16.5" fill="#b8b848" filter="url(#bp2)"/>
<ellipse cx="1244.4" cy="1977.5" rx="9.4" ry="14.2" fill="#d88838" filter="url(#bp1)"/>
<ellipse cx="1244.4" cy="1977.5" rx="8.1" ry="12.3" fill="#d0305a" filter="url(#bp1)"/>
<ellipse cx="1244.4" cy="1977.5" rx="7" ry="10.6" fill="#d0d0d0" filter="url(#bp1)"/>
<ellipse cx="1235.9" cy="2019.7" rx="27.1" ry="12.8" fill="#c09048" filter="url(#bp3)"/>
<ellipse cx="1217.2" cy="2019.7" rx="13.6" ry="11.5" fill="#3aa080" filter="url(#bp2)"/>
<ellipse cx="1217.2" cy="2019.7" rx="11.7" ry="9.9" fill="#b8b848" filter="url(#bp2)"/>
<ellipse cx="1217.2" cy="2019.7" rx="10" ry="8.5" fill="#d88838" filter="url(#bp1)"/>
<ellipse cx="1217.2" cy="2019.7" rx="8.7" ry="7.4" fill="#d0305a" filter="url(#bp1)"/>
<ellipse cx="1217.2" cy="2019.7" rx="7.5" ry="6.3" fill="#c8c8c8" filter="url(#bp1)"/>
<ellipse cx="1252.9" cy="2021" rx="10.2" ry="11.5" fill="#3aa080" filter="url(#bp2)"/>
<ellipse cx="1252.9" cy="2021" rx="8.8" ry="9.9" fill="#b8b848" filter="url(#bp2)"/>
<ellipse cx="1252.9" cy="2021" rx="7.5" ry="8.5" fill="#d88838" filter="url(#bp1)"/>
<ellipse cx="1252.9" cy="2021" rx="6.5" ry="7.4" fill="#d0305a" filter="url(#bp1)"/>
<ellipse cx="1252.9" cy="2021" rx="5.6" ry="6.3" fill="#c4c4c4" filter="url(#bp1)"/>
<ellipse cx="1224" cy="2035.1" rx="11.9" ry="14.1" fill="#3aa080" filter="url(#bp2)"/>
<ellipse cx="1224" cy="2035.1" rx="10.2" ry="12.1" fill="#b8b848" filter="url(#bp2)"/>
<ellipse cx="1224" cy="2035.1" rx="8.8" ry="10.4" fill="#d88838" filter="url(#bp1)"/>
<ellipse cx="1224" cy="2035.1" rx="7.6" ry="9" fill="#d0305a" filter="url(#bp1)"/>
<ellipse cx="1224" cy="2035.1" rx="6.5" ry="7.7" fill="#cfcfcf" filter="url(#bp1)"/>
<ellipse cx="1235.9" cy="2058.1" rx="25.4" ry="15.4" fill="#3448b0" filter="url(#bp3)"/>
<ellipse cx="1240.1" cy="2078.6" rx="25.4" ry="20.5" fill="#3a9a8a" filter="url(#bp3)"/>
<ellipse cx="1221.5" cy="2081.2" rx="6.6" ry="13.2" fill="#b8b848" filter="url(#bp2)"/>
<ellipse cx="1221.5" cy="2081.2" rx="5.6" ry="11.4" fill="#d88838" filter="url(#bp1)"/>
<ellipse cx="1221.5" cy="2081.2" rx="4.9" ry="9.8" fill="#d0305a" filter="url(#bp1)"/>
<ellipse cx="1221.5" cy="2081.2" rx="4.2" ry="8.4" fill="#d04a60" filter="url(#bp1)"/>
<ellipse cx="1241" cy="2094" rx="17" ry="23" fill="#c88a48" filter="url(#bp3)"/>
<ellipse cx="1242.7" cy="2091.4" rx="10.2" ry="12.8" fill="#c87040" filter="url(#bp2)"/>
<ellipse cx="1251.2" cy="2088.8" rx="4.2" ry="7.7" fill="#d03a60" filter="url(#bp1)"/>
<ellipse cx="1218.9" cy="2113.2" rx="18.7" ry="19.2" fill="#3aa080" filter="url(#bp2)"/>
<ellipse cx="1218.9" cy="2113.2" rx="16" ry="16.5" fill="#b8b848" filter="url(#bp2)"/>
<ellipse cx="1218.9" cy="2113.2" rx="13.8" ry="14.2" fill="#d88838" filter="url(#bp1)"/>
<ellipse cx="1218.9" cy="2113.2" rx="11.9" ry="12.3" fill="#d0305a" filter="url(#bp1)"/>
<ellipse cx="1218.9" cy="2113.2" rx="10.3" ry="10.6" fill="#d4d4d4" filter="url(#bp1)"/>
<ellipse cx="1240.1" cy="2124.7" rx="17" ry="10.2" fill="#c88848" filter="url(#bp2)"/>
<ellipse cx="1235.9" cy="2140" rx="25.4" ry="12.8" fill="#3aa080" filter="url(#bp2)"/>
<ellipse cx="1235.9" cy="2138.8" rx="17" ry="9" fill="#686868" filter="url(#bp1)"/>
</g>
</g>
<path d="M1247.3 2156L1262.2 2164.5L1247.3 2173Z" fill="#e8203a"/>
<clipPath id="cpp3"><rect x="1296.6" y="1925" width="85.4" height="256"/></clipPath>
<rect x="1296.6" y="1925" width="85.4" height="256" fill="#050505"/>
<g clip-path="url(#cpp3)">
<path d="M1301.1 1925V2181M1377.5 1925V2181" stroke="#8a8a8a" stroke-width="1.8" stroke-dasharray="3 1.2" opacity="0.8"/>
<path d="M1305.6 1925V2181M1373 1925V2181" stroke="#6a6a6a" stroke-width="1.2" opacity="0.7"/>
<path d="M1313.7 1927V1942H1364.9V1927" stroke="#a8a8a8" stroke-width="3.2" fill="none"/>
<path d="M1312 1928H1366.6" stroke="#a8a8a8" stroke-width="3" fill="none"/>
<clipPath id="cpm3"><path d="M1350.9 1943.7L1357.1 1948.8L1361.3 1965.4L1364.4 1973.6L1363.4 1989.3L1365.4 1999.5L1371.7 2013.1L1373.7 2030.7L1372.7 2051.5L1372.7 2072.2L1372.7 2091.9L1369.6 2098.1L1375.8 2108.6L1376.8 2129.3L1374.7 2144.6L1367.5 2157.2L1355.1 2163.3L1339.6 2163.3L1324 2161.3L1311.6 2150L1304.4 2129.3L1303.3 2108.6L1303.3 2077.3L1305.4 2046.3L1313.7 2035.8L1322 2030.7L1327.2 2015.1L1322 2004.9L1319.9 1984.1L1327.2 1963.4L1337.5 1950.9L1344.8 1944.7Z"/></clipPath>
<path d="M1350.9 1943.7L1357.1 1948.8L1361.3 1965.4L1364.4 1973.6L1363.4 1989.3L1365.4 1999.5L1371.7 2013.1L1373.7 2030.7L1372.7 2051.5L1372.7 2072.2L1372.7 2091.9L1369.6 2098.1L1375.8 2108.6L1376.8 2129.3L1374.7 2144.6L1367.5 2157.2L1355.1 2163.3L1339.6 2163.3L1324 2161.3L1311.6 2150L1304.4 2129.3L1303.3 2108.6L1303.3 2077.3L1305.4 2046.3L1313.7 2035.8L1322 2030.7L1327.2 2015.1L1322 2004.9L1319.9 1984.1L1327.2 1963.4L1337.5 1950.9L1344.8 1944.7Z" fill="#505050" stroke="#444" stroke-width="4" filter="url(#bp1)" stroke-linejoin="round"/>
<path d="M1350.9 1943.7L1357.1 1948.8L1361.3 1965.4L1364.4 1973.6L1363.4 1989.3L1365.4 1999.5L1371.7 2013.1L1373.7 2030.7L1372.7 2051.5L1372.7 2072.2L1372.7 2091.9L1369.6 2098.1L1375.8 2108.6L1376.8 2129.3L1374.7 2144.6L1367.5 2157.2L1355.1 2163.3L1339.6 2163.3L1324 2161.3L1311.6 2150L1304.4 2129.3L1303.3 2108.6L1303.3 2077.3L1305.4 2046.3L1313.7 2035.8L1322 2030.7L1327.2 2015.1L1322 2004.9L1319.9 1984.1L1327.2 1963.4L1337.5 1950.9L1344.8 1944.7Z" fill="#3444a8" stroke="#2838c0" stroke-width="3" filter="url(#bp1)" stroke-linejoin="round" opacity="0.95"/>
<g clip-path="url(#cpm3)">
<ellipse cx="1343.6" cy="1989" rx="25.6" ry="46.1" fill="#3aa078" filter="url(#bp3)"/>
<ellipse cx="1343.6" cy="1989" rx="22.2" ry="41" fill="#c85080" filter="url(#bp3)"/>
<ellipse cx="1347.8" cy="2001.8" rx="8.5" ry="30.7" fill="#c89050" filter="url(#bp2)"/>
<ellipse cx="1347.8" cy="1953.2" rx="6.8" ry="7.7" fill="#d8d8e0" filter="url(#bp1)"/>
<ellipse cx="1337.6" cy="1968.5" rx="6.8" ry="5.1" fill="#c8c8d0" filter="url(#bp1)"/>
<ellipse cx="1355.5" cy="1980" rx="4.3" ry="6.4" fill="#d0d0d0" filter="url(#bp1)"/>
<ellipse cx="1329.1" cy="2001.8" rx="4.3" ry="3.8" fill="#d0d0d0" filter="url(#bp1)"/>
<ellipse cx="1333.3" cy="2024.8" rx="8.5" ry="7.7" fill="#c0c4c8" filter="url(#bp1)"/>
<ellipse cx="1322.2" cy="2053" rx="6.8" ry="33.3" fill="#c8a050" filter="url(#bp3)"/>
<ellipse cx="1313.7" cy="2065.8" rx="4.3" ry="25.6" fill="#d8c070" filter="url(#bp2)"/>
<ellipse cx="1366.6" cy="2032.5" rx="5.1" ry="17.9" fill="#c05060" filter="url(#bp2)"/>
<ellipse cx="1349.5" cy="2053" rx="23.9" ry="20.5" fill="#3448b0" filter="url(#bp3)"/>
<ellipse cx="1347.8" cy="2053" rx="10.2" ry="7.7" fill="#3aa078" filter="url(#bp2)"/>
<ellipse cx="1339.3" cy="2042.8" rx="25.6" ry="10.2" fill="#2a8a90" filter="url(#bp2)"/>
<ellipse cx="1341" cy="2114.4" rx="35.9" ry="25.6" fill="#3aa078" filter="url(#bp3)"/>
<ellipse cx="1339.3" cy="2111.9" rx="30.7" ry="23" fill="#c89048" filter="url(#bp3)"/>
<ellipse cx="1335" cy="2104.2" rx="17.1" ry="12.8" fill="#c03a60" filter="url(#bp2)"/>
<ellipse cx="1336.5" cy="2101.6" rx="10.7" ry="12.8" fill="#3aa080" filter="url(#bp2)"/>
<ellipse cx="1336.5" cy="2101.6" rx="9.6" ry="11.5" fill="#c8a048" filter="url(#bp2)"/>
<ellipse cx="1336.5" cy="2101.6" rx="8.5" ry="10.2" fill="#3a60b0" filter="url(#bp1)"/>
<ellipse cx="1336.5" cy="2101.6" rx="7.3" ry="8.7" fill="#6a6a6a" filter="url(#bp1)"/>
<ellipse cx="1364.9" cy="2119.6" rx="8.5" ry="12.8" fill="#3aa080" filter="url(#bp2)"/>
<ellipse cx="1364.9" cy="2119.6" rx="7.7" ry="11.5" fill="#c8a048" filter="url(#bp2)"/>
<ellipse cx="1364.9" cy="2119.6" rx="6.8" ry="10.2" fill="#3a60b0" filter="url(#bp1)"/>
<ellipse cx="1364.9" cy="2119.6" rx="5.8" ry="8.7" fill="#6a6a6a" filter="url(#bp1)"/>
<ellipse cx="1326.5" cy="2129.8" rx="12.8" ry="10.2" fill="#c03a60" filter="url(#bp2)"/>
<ellipse cx="1349.5" cy="2147.7" rx="14.9" ry="12.8" fill="#3aa080" filter="url(#bp2)"/>
<ellipse cx="1349.5" cy="2147.7" rx="13.4" ry="11.5" fill="#c8a048" filter="url(#bp2)"/>
<ellipse cx="1349.5" cy="2147.7" rx="12" ry="10.2" fill="#3a60b0" filter="url(#bp1)"/>
<ellipse cx="1349.5" cy="2147.7" rx="10.2" ry="8.7" fill="#6a6a6a" filter="url(#bp1)"/>
</g>
</g>
<path d="M1365.8 2158L1380.7 2166.6L1365.8 2175.2Z" fill="#e8203a"/>
<clipPath id="cpp4"><rect x="1090.3" y="2196.8" width="85.9" height="255.8"/></clipPath>
<rect x="1090.3" y="2196.8" width="85.9" height="255.8" fill="#050505"/>
<g clip-path="url(#cpp4)">
<path d="M1094.8 2196.8V2452.6M1171.7 2196.8V2452.6" stroke="#8a8a8a" stroke-width="1.8" stroke-dasharray="3 1.2" opacity="0.8"/>
<path d="M1099.3 2196.8V2452.6M1167.2 2196.8V2452.6" stroke="#6a6a6a" stroke-width="1.2" opacity="0.7"/>
<text x="1090.3" y="2201.9" font-size="5" fill="#d07030">_CT_Rat_v1.ct</text>
<text x="1090.3" y="2209.6" font-size="5" fill="#d07030">3-1-3_XST_CT_Rat_</text>
<path d="M1109.2 2201.9V2219.8H1122.9" stroke="#9a9a9a" stroke-width="2.4" fill="none"/>
<path d="M1157.3 2201.9V2219.8H1143.6" stroke="#9a9a9a" stroke-width="2.4" fill="none"/>
<path d="M1107.5 2401.4L1116.1 2439.8" stroke="#bdbdbd" stroke-width="2.5" fill="none"/>
<path d="M1157.3 2401.4L1150.4 2439.8" stroke="#bdbdbd" stroke-width="2.5" fill="none"/>
<path d="M1130.7 2414.2V2452.6" stroke="#8a8a8a" stroke-width="3" fill="none"/>
<clipPath id="cpm4"><path d="M1131.5 2209.6L1138.4 2214.7L1141.8 2232.6L1148.7 2248L1150.4 2263.3L1152.1 2278.7L1152.1 2294L1148.7 2309.4L1150.4 2324.7L1152.1 2337.5L1161.6 2345.2L1162.5 2360.5L1159 2375.9L1147 2386.1L1133.2 2393.8L1119.5 2386.1L1107.5 2375.9L1103.2 2360.5L1104 2345.2L1113.5 2337.5L1116.1 2324.7L1114.4 2309.4L1109.2 2294L1107.5 2278.7L1114.4 2258.2L1120.4 2242.8L1124.7 2222.4Z"/></clipPath>
<path d="M1131.5 2209.6L1138.4 2214.7L1141.8 2232.6L1148.7 2248L1150.4 2263.3L1152.1 2278.7L1152.1 2294L1148.7 2309.4L1150.4 2324.7L1152.1 2337.5L1161.6 2345.2L1162.5 2360.5L1159 2375.9L1147 2386.1L1133.2 2393.8L1119.5 2386.1L1107.5 2375.9L1103.2 2360.5L1104 2345.2L1113.5 2337.5L1116.1 2324.7L1114.4 2309.4L1109.2 2294L1107.5 2278.7L1114.4 2258.2L1120.4 2242.8L1124.7 2222.4Z" fill="#505050" stroke="#444" stroke-width="4" filter="url(#bp1)" stroke-linejoin="round"/>
<path d="M1131.5 2209.6L1138.4 2214.7L1141.8 2232.6L1148.7 2248L1150.4 2263.3L1152.1 2278.7L1152.1 2294L1148.7 2309.4L1150.4 2324.7L1152.1 2337.5L1161.6 2345.2L1162.5 2360.5L1159 2375.9L1147 2386.1L1133.2 2393.8L1119.5 2386.1L1107.5 2375.9L1103.2 2360.5L1104 2345.2L1113.5 2337.5L1116.1 2324.7L1114.4 2309.4L1109.2 2294L1107.5 2278.7L1114.4 2258.2L1120.4 2242.8L1124.7 2222.4Z" fill="#3a3c5c" stroke="#3040c8" stroke-width="3" filter="url(#bp1)" stroke-linejoin="round" opacity="0.95"/>
<g clip-path="url(#cpm4)">
<ellipse cx="1133.2" cy="2248" rx="24.1" ry="20.5" fill="#3aa070" filter="url(#bp3)"/>
<ellipse cx="1133.2" cy="2248" rx="20.6" ry="15.3" fill="#c07838" filter="url(#bp3)"/>
<ellipse cx="1124.7" cy="2240.3" rx="5.2" ry="7.7" fill="#d0d0a0" filter="url(#bp2)"/>
<ellipse cx="1141.8" cy="2240.3" rx="5.2" ry="7.7" fill="#d0d0a0" filter="url(#bp2)"/>
<ellipse cx="1133.2" cy="2273.5" rx="24.1" ry="19.2" fill="#3aa080" filter="url(#bp2)"/>
<ellipse cx="1133.2" cy="2273.5" rx="20.7" ry="16.5" fill="#b8b848" filter="url(#bp2)"/>
<ellipse cx="1133.2" cy="2273.5" rx="17.8" ry="14.2" fill="#d88838" filter="url(#bp1)"/>
<ellipse cx="1133.2" cy="2273.5" rx="15.4" ry="12.3" fill="#d0305a" filter="url(#bp1)"/>
<ellipse cx="1133.2" cy="2273.5" rx="13.2" ry="10.6" fill="#c8c8c8" filter="url(#bp1)"/>
<ellipse cx="1133.2" cy="2324.7" rx="18.9" ry="35.8" fill="#48485a" filter="url(#bp3)"/>
<ellipse cx="1133.2" cy="2360.5" rx="22.3" ry="20.5" fill="#44445a" filter="url(#bp3)"/>
<ellipse cx="1107.5" cy="2350.3" rx="5.2" ry="12.8" fill="#3aa070" filter="url(#bp2)"/>
<ellipse cx="1157.3" cy="2355.4" rx="5.2" ry="12.8" fill="#c09040" filter="url(#bp2)"/>
<ellipse cx="1116.1" cy="2365.6" rx="5.2" ry="10.2" fill="#48a060" filter="url(#bp2)"/>
</g>
</g>
<path d="M1150.1 2389.7L1165.1 2397.1L1150.1 2404.6Z" fill="#e8203a"/>
<clipPath id="cpp5"><rect x="1193.3" y="2196.8" width="85.6" height="255.8"/></clipPath>
<rect x="1193.3" y="2196.8" width="85.6" height="255.8" fill="#050505"/>
<g clip-path="url(#cpp5)">
<path d="M1197.8 2196.8V2452.6M1274.4 2196.8V2452.6" stroke="#8a8a8a" stroke-width="1.8" stroke-dasharray="3 1.2" opacity="0.8"/>
<path d="M1202.3 2196.8V2452.6M1269.9 2196.8V2452.6" stroke="#6a6a6a" stroke-width="1.2" opacity="0.7"/>
<text x="1193.3" y="2201.9" font-size="5" fill="#d07030">_CT_Rat_v1.ct</text>
<text x="1193.3" y="2209.6" font-size="5" fill="#d07030">3-1-3_XST_CT_Rat_</text>
<path d="M1206.1 2201.9V2227.5H1219" stroke="#9a9a9a" stroke-width="2.4" fill="none"/>
<path d="M1253.2 2201.9V2227.5H1240.4" stroke="#9a9a9a" stroke-width="2.4" fill="none"/>
<path d="M1203.6 2388.7Q1236.1 2473.1 1257.5 2381" stroke="#a0a0a0" stroke-width="5" fill="none" opacity="0.9"/>
<rect x="1272.9" y="2232.6" width="3.5" height="184.2" fill="#d8d8d8"/>
<path d="M1267.8 2201.9V2447.5" stroke="#888" stroke-width="1.2" fill="none"/>
<clipPath id="cpm5"><path d="M1231.8 2214.7L1240.4 2217.3L1244.7 2232.6L1249.8 2258.2L1251.5 2268.4L1261.8 2273.5L1260.1 2288.9L1254.9 2299.1L1253.2 2319.6L1251.5 2345.2L1244.7 2365.6L1248.9 2375.9L1251.5 2396.3L1244.7 2409.1L1231.8 2411.7L1219 2401.4L1205.3 2388.7L1203.6 2370.7L1210.4 2360.5L1219 2350.3L1219 2319.6L1212.1 2299.1L1210.4 2281.2L1219 2265.9L1222.4 2248L1224.1 2227.5Z"/></clipPath>
<path d="M1231.8 2214.7L1240.4 2217.3L1244.7 2232.6L1249.8 2258.2L1251.5 2268.4L1261.8 2273.5L1260.1 2288.9L1254.9 2299.1L1253.2 2319.6L1251.5 2345.2L1244.7 2365.6L1248.9 2375.9L1251.5 2396.3L1244.7 2409.1L1231.8 2411.7L1219 2401.4L1205.3 2388.7L1203.6 2370.7L1210.4 2360.5L1219 2350.3L1219 2319.6L1212.1 2299.1L1210.4 2281.2L1219 2265.9L1222.4 2248L1224.1 2227.5Z" fill="#505050" stroke="#444" stroke-width="4" filter="url(#bp1)" stroke-linejoin="round"/>
<path d="M1231.8 2214.7L1240.4 2217.3L1244.7 2232.6L1249.8 2258.2L1251.5 2268.4L1261.8 2273.5L1260.1 2288.9L1254.9 2299.1L1253.2 2319.6L1251.5 2345.2L1244.7 2365.6L1248.9 2375.9L1251.5 2396.3L1244.7 2409.1L1231.8 2411.7L1219 2401.4L1205.3 2388.7L1203.6 2370.7L1210.4 2360.5L1219 2350.3L1219 2319.6L1212.1 2299.1L1210.4 2281.2L1219 2265.9L1222.4 2248L1224.1 2227.5Z" fill="#3a3c66" stroke="#3040c8" stroke-width="3" filter="url(#bp1)" stroke-linejoin="round" opacity="0.95"/>
<g clip-path="url(#cpm5)">
<ellipse cx="1236.1" cy="2222.4" rx="10.3" ry="10.2" fill="#c09038" filter="url(#bp2)"/>
<ellipse cx="1236.1" cy="2240.3" rx="15.4" ry="15.3" fill="#6a9ae8" filter="url(#bp3)"/>
<ellipse cx="1236.1" cy="2263.3" rx="17.1" ry="12.8" fill="#48a070" filter="url(#bp3)"/>
<ellipse cx="1225.8" cy="2286.3" rx="10.3" ry="15.3" fill="#3aa080" filter="url(#bp2)"/>
<ellipse cx="1225.8" cy="2286.3" rx="8.8" ry="13.2" fill="#b8b848" filter="url(#bp2)"/>
<ellipse cx="1225.8" cy="2286.3" rx="7.6" ry="11.4" fill="#d88838" filter="url(#bp1)"/>
<ellipse cx="1225.8" cy="2286.3" rx="6.6" ry="9.8" fill="#d0305a" filter="url(#bp1)"/>
<ellipse cx="1225.8" cy="2286.3" rx="5.6" ry="8.4" fill="#c8c8c8" filter="url(#bp1)"/>
<ellipse cx="1246.4" cy="2283.8" rx="12" ry="12.8" fill="#3aa080" filter="url(#bp2)"/>
<ellipse cx="1246.4" cy="2283.8" rx="10.3" ry="11" fill="#b8b848" filter="url(#bp2)"/>
<ellipse cx="1246.4" cy="2283.8" rx="8.9" ry="9.5" fill="#d88838" filter="url(#bp1)"/>
<ellipse cx="1246.4" cy="2283.8" rx="7.7" ry="8.2" fill="#d0305a" filter="url(#bp1)"/>
<ellipse cx="1246.4" cy="2283.8" rx="6.6" ry="7" fill="#b8b8b8" filter="url(#bp1)"/>
<ellipse cx="1225.8" cy="2314.5" rx="10.3" ry="12.8" fill="#3aa080" filter="url(#bp2)"/>
<ellipse cx="1225.8" cy="2314.5" rx="8.8" ry="11" fill="#b8b848" filter="url(#bp2)"/>
<ellipse cx="1225.8" cy="2314.5" rx="7.6" ry="9.5" fill="#d88838" filter="url(#bp1)"/>
<ellipse cx="1225.8" cy="2314.5" rx="6.6" ry="8.2" fill="#d0305a" filter="url(#bp1)"/>
<ellipse cx="1225.8" cy="2314.5" rx="5.6" ry="7" fill="#d0d0d0" filter="url(#bp1)"/>
<ellipse cx="1234.4" cy="2350.3" rx="15.4" ry="25.6" fill="#4a4a70" filter="url(#bp3)"/>
<ellipse cx="1210.4" cy="2381" rx="6.8" ry="12.8" fill="#d07838" filter="url(#bp2)"/>
<ellipse cx="1236.1" cy="2391.2" rx="17.1" ry="15.3" fill="#3aa070" filter="url(#bp3)"/>
<ellipse cx="1236.1" cy="2393.8" rx="10.3" ry="10.2" fill="#4a5080" filter="url(#bp2)"/>
</g>
</g>
<path d="M1249.9 2411L1264.8 2419L1249.9 2427Z" fill="#e8203a"/>
<clipPath id="cpp6"><rect x="1296" y="2196.8" width="85.8" height="255.8"/></clipPath>
<rect x="1296" y="2196.8" width="85.8" height="255.8" fill="#050505"/>
<g clip-path="url(#cpp6)">
<path d="M1300.5 2196.8V2452.6M1377.3 2196.8V2452.6" stroke="#8a8a8a" stroke-width="1.8" stroke-dasharray="3 1.2" opacity="0.8"/>
<path d="M1305 2196.8V2452.6M1372.8 2196.8V2452.6" stroke="#6a6a6a" stroke-width="1.2" opacity="0.7"/>
<text x="1296" y="2201.9" font-size="5" fill="#d07030">_CT_Rat_v1.ct</text>
<text x="1296" y="2209.6" font-size="5" fill="#d07030">3-1-3_XST_CT_Rat_</text>
<path d="M1311.4 2311.9Q1308.9 2273.5 1306.3 2235.2" stroke="#c8c8c8" stroke-width="2" fill="none"/>
<path d="M1313.2 2414.2L1326 2421.9M1351.8 2421.9L1360.3 2414.2" stroke="#bdbdbd" stroke-width="3" fill="none"/>
<clipPath id="cpm6"><path d="M1334.6 2222.4L1356.1 2222.4L1364.6 2237.7L1362.9 2258.2L1359.5 2273.5L1359.5 2288.9L1356.1 2309.4L1357.8 2337.5L1366.4 2350.3L1368.1 2370.7L1357.8 2386.1L1349.2 2401.4L1334.6 2406.6L1323.5 2396.3L1313.2 2381L1311.4 2360.5L1316.6 2345.2L1321.7 2324.7L1321.7 2299.1L1313.2 2286.3L1314.9 2268.4L1326.9 2253.1L1330.3 2232.6Z"/></clipPath>
<path d="M1334.6 2222.4L1356.1 2222.4L1364.6 2237.7L1362.9 2258.2L1359.5 2273.5L1359.5 2288.9L1356.1 2309.4L1357.8 2337.5L1366.4 2350.3L1368.1 2370.7L1357.8 2386.1L1349.2 2401.4L1334.6 2406.6L1323.5 2396.3L1313.2 2381L1311.4 2360.5L1316.6 2345.2L1321.7 2324.7L1321.7 2299.1L1313.2 2286.3L1314.9 2268.4L1326.9 2253.1L1330.3 2232.6Z" fill="#505050" stroke="#444" stroke-width="4" filter="url(#bp1)" stroke-linejoin="round"/>
<path d="M1334.6 2222.4L1356.1 2222.4L1364.6 2237.7L1362.9 2258.2L1359.5 2273.5L1359.5 2288.9L1356.1 2309.4L1357.8 2337.5L1366.4 2350.3L1368.1 2370.7L1357.8 2386.1L1349.2 2401.4L1334.6 2406.6L1323.5 2396.3L1313.2 2381L1311.4 2360.5L1316.6 2345.2L1321.7 2324.7L1321.7 2299.1L1313.2 2286.3L1314.9 2268.4L1326.9 2253.1L1330.3 2232.6Z" fill="#3a3c5c" stroke="#3040c8" stroke-width="3" filter="url(#bp1)" stroke-linejoin="round" opacity="0.95"/>
<g clip-path="url(#cpm6)">
<ellipse cx="1347.5" cy="2232.6" rx="17.2" ry="15.3" fill="#3a44a8" filter="url(#bp2)"/>
<ellipse cx="1343.2" cy="2260.8" rx="21.4" ry="20.5" fill="#3aa070" filter="url(#bp3)"/>
<ellipse cx="1340.6" cy="2265.9" rx="17.2" ry="15.3" fill="#c07838" filter="url(#bp3)"/>
<ellipse cx="1343.2" cy="2271" rx="12" ry="12.8" fill="#3aa080" filter="url(#bp2)"/>
<ellipse cx="1343.2" cy="2271" rx="10.3" ry="11" fill="#b8b848" filter="url(#bp2)"/>
<ellipse cx="1343.2" cy="2271" rx="8.9" ry="9.5" fill="#d88838" filter="url(#bp1)"/>
<ellipse cx="1343.2" cy="2271" rx="7.7" ry="8.2" fill="#d0305a" filter="url(#bp1)"/>
<ellipse cx="1343.2" cy="2271" rx="6.6" ry="7" fill="#c8c8c8" filter="url(#bp1)"/>
<ellipse cx="1340.6" cy="2324.7" rx="20.6" ry="35.8" fill="#4a4a62" filter="url(#bp3)"/>
<ellipse cx="1338.9" cy="2365.6" rx="22.3" ry="20.5" fill="#464660" filter="url(#bp3)"/>
<ellipse cx="1314.9" cy="2358" rx="5.1" ry="12.8" fill="#c07838" filter="url(#bp2)"/>
<ellipse cx="1364.6" cy="2363.1" rx="5.1" ry="12.8" fill="#c07838" filter="url(#bp2)"/>
</g>
</g>
<path d="M1362 2408.9L1376.5 2417.4L1362 2426Z" fill="#e8203a"/>
</svg></body></html>
